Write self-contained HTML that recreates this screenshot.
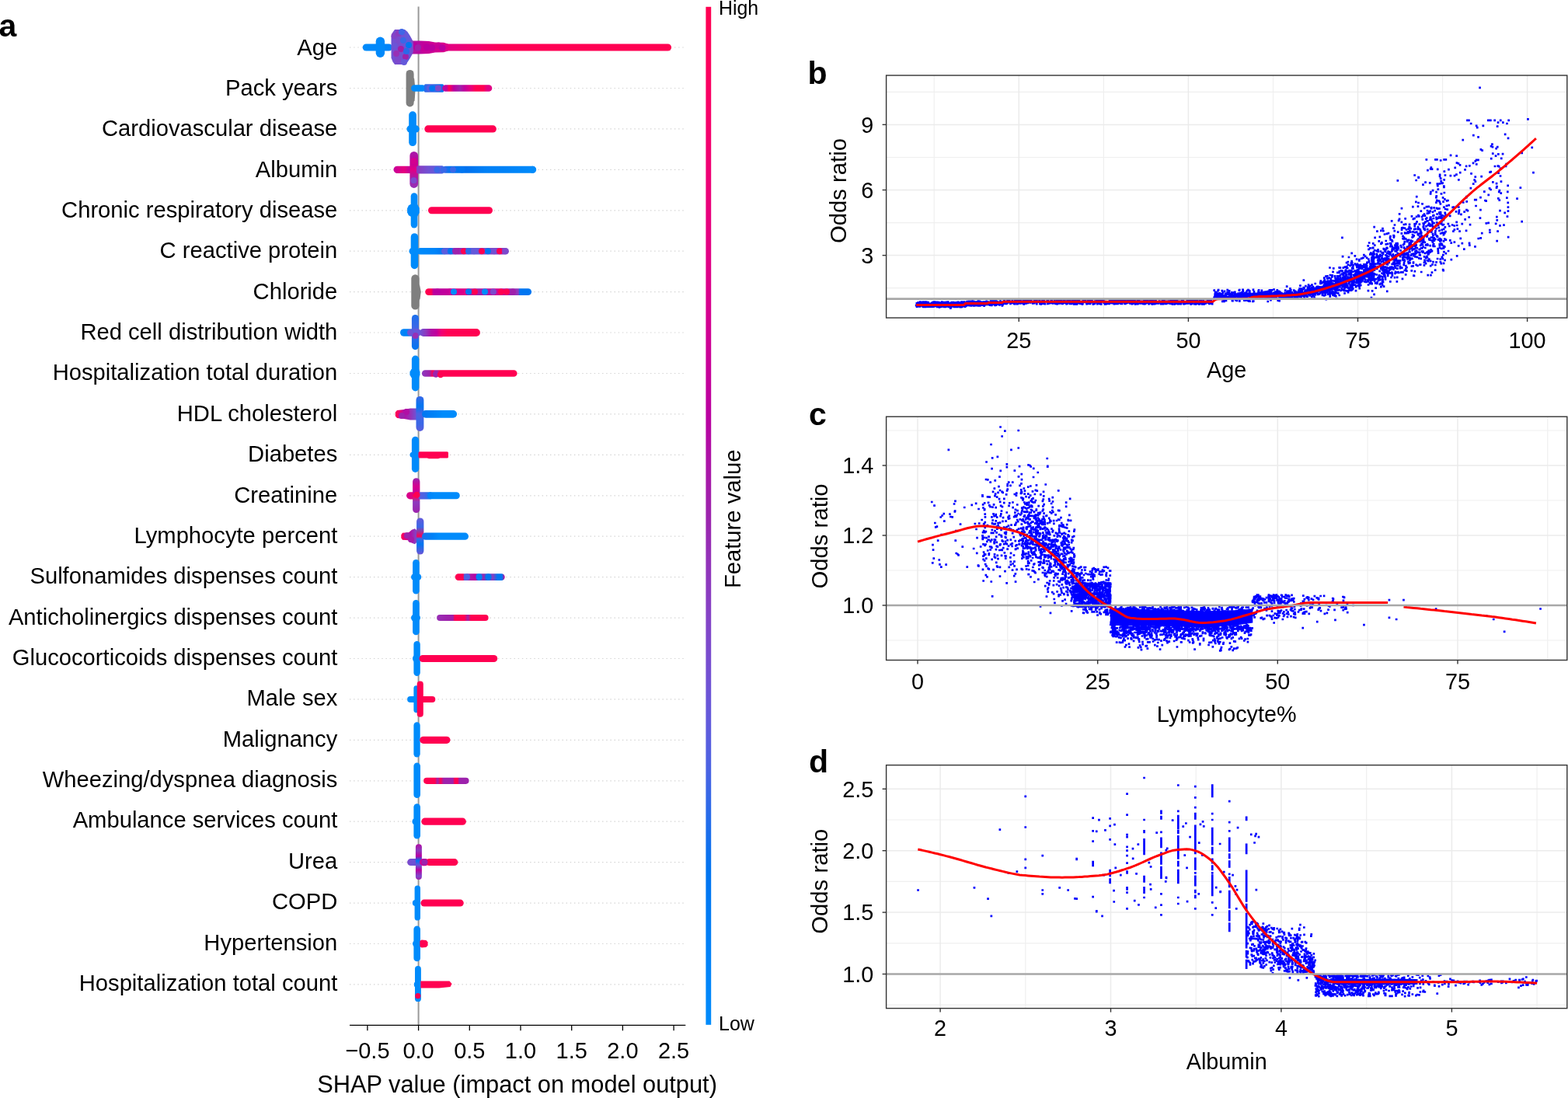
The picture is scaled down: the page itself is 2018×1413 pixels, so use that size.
<!DOCTYPE html>
<html><head><meta charset="utf-8"><title>Figure</title>
<style>html,body{margin:0;padding:0;background:#fff;}body{width:2018px;height:1413px;overflow:hidden;}svg{display:block;}</style>
</head><body>
<svg width="2018" height="1413" viewBox="0 0 2018 1413" font-family="'Liberation Sans', Arial, Helvetica, sans-serif"><defs><linearGradient id="g1" gradientUnits="userSpaceOnUse" x1="466.7" y1="0" x2="505" y2="0"><stop offset="0.0000" stop-color="#008bfb"/><stop offset="1.0000" stop-color="#0082f7"/></linearGradient><linearGradient id="g2" gradientUnits="userSpaceOnUse" x1="520" y1="0" x2="864.1" y2="0"><stop offset="0.0000" stop-color="#9d22ac"/><stop offset="0.0320" stop-color="#b900a0"/><stop offset="0.0727" stop-color="#cd0095"/><stop offset="0.1598" stop-color="#e10084"/><stop offset="0.2616" stop-color="#f30070"/><stop offset="0.3778" stop-color="#ff0055"/><stop offset="0.9997" stop-color="#ff0051"/></linearGradient><linearGradient id="g3" gradientUnits="userSpaceOnUse" x1="529" y1="0" x2="577" y2="0"><stop offset="0.0000" stop-color="#a71aa9"/><stop offset="0.3333" stop-color="#c2009c"/><stop offset="0.7500" stop-color="#d4008f"/><stop offset="1.0000" stop-color="#dd0088"/></linearGradient><linearGradient id="g4" gradientUnits="userSpaceOnUse" x1="503.5" y1="0" x2="532" y2="0"><stop offset="0.0000" stop-color="#6f52d4"/><stop offset="0.2982" stop-color="#7a4bcd"/><stop offset="0.5789" stop-color="#6a55d6"/><stop offset="0.7895" stop-color="#5f5bdc"/><stop offset="1.0000" stop-color="#8244c7"/></linearGradient><linearGradient id="g5" gradientUnits="userSpaceOnUse" x1="529" y1="0" x2="548" y2="0"><stop offset="0.0000" stop-color="#008bfb"/><stop offset="1.0000" stop-color="#0088fa"/></linearGradient><linearGradient id="g6" gradientUnits="userSpaceOnUse" x1="546" y1="0" x2="571" y2="0"><stop offset="0.0000" stop-color="#2a6ae9"/><stop offset="0.4000" stop-color="#4c63e3"/><stop offset="0.6800" stop-color="#1f6deb"/><stop offset="1.0000" stop-color="#0076f1"/></linearGradient><linearGradient id="g7" gradientUnits="userSpaceOnUse" x1="569" y1="0" x2="633.3" y2="0"><stop offset="0.0000" stop-color="#b00fa5"/><stop offset="0.0933" stop-color="#c5009a"/><stop offset="0.1400" stop-color="#ff0051"/><stop offset="0.2333" stop-color="#ba00a0"/><stop offset="0.3577" stop-color="#9d22ac"/><stop offset="0.4510" stop-color="#c2009c"/><stop offset="0.5754" stop-color="#e7007e"/><stop offset="0.6687" stop-color="#ff0051"/><stop offset="0.8243" stop-color="#ff0051"/><stop offset="0.9020" stop-color="#e10084"/><stop offset="0.9953" stop-color="#e10084"/></linearGradient><linearGradient id="g8" gradientUnits="userSpaceOnUse" x1="506.5" y1="0" x2="538" y2="0"><stop offset="0.0000" stop-color="#c5009a"/><stop offset="0.1746" stop-color="#d6008e"/><stop offset="0.4286" stop-color="#e6007f"/><stop offset="0.6825" stop-color="#c2009c"/><stop offset="1.0000" stop-color="#a71aa9"/></linearGradient><linearGradient id="g9" gradientUnits="userSpaceOnUse" x1="0" y1="195" x2="0" y2="241.9"><stop offset="0.0064" stop-color="#a71aa9"/><stop offset="0.2836" stop-color="#c0009c"/><stop offset="0.4968" stop-color="#e10084"/><stop offset="0.7527" stop-color="#a31daa"/><stop offset="0.9872" stop-color="#9830b5"/></linearGradient><linearGradient id="g10" gradientUnits="userSpaceOnUse" x1="536" y1="0" x2="571" y2="0"><stop offset="0.0000" stop-color="#8d39be"/><stop offset="0.4000" stop-color="#7350d2"/><stop offset="0.6857" stop-color="#6459da"/><stop offset="1.0000" stop-color="#4c63e3"/></linearGradient><linearGradient id="g11" gradientUnits="userSpaceOnUse" x1="569" y1="0" x2="689.9" y2="0"><stop offset="0.0000" stop-color="#3968e7"/><stop offset="0.0910" stop-color="#0076f1"/><stop offset="0.2564" stop-color="#0071ee"/><stop offset="0.4632" stop-color="#0080f6"/><stop offset="0.6700" stop-color="#0082f7"/><stop offset="1.0000" stop-color="#008bfb"/></linearGradient><linearGradient id="g12" gradientUnits="userSpaceOnUse" x1="536.7" y1="0" x2="655" y2="0"><stop offset="0.0025" stop-color="#008bfb"/><stop offset="0.1970" stop-color="#0084f9"/><stop offset="0.2730" stop-color="#0078f2"/><stop offset="0.3238" stop-color="#4c63e3"/><stop offset="0.3914" stop-color="#6c54d6"/><stop offset="0.4505" stop-color="#a71aa9"/><stop offset="0.5351" stop-color="#5b5ddd"/><stop offset="0.6619" stop-color="#6459da"/><stop offset="0.7887" stop-color="#7d49cc"/><stop offset="0.9155" stop-color="#8d39be"/><stop offset="1.0000" stop-color="#7d49cc"/></linearGradient><linearGradient id="g13" gradientUnits="userSpaceOnUse" x1="547.2" y1="0" x2="684.1" y2="0"><stop offset="0.0000" stop-color="#ff0051"/><stop offset="0.0570" stop-color="#ff0051"/><stop offset="0.0789" stop-color="#b900a0"/><stop offset="0.2031" stop-color="#c2009c"/><stop offset="0.2761" stop-color="#d1008f"/><stop offset="0.3857" stop-color="#e10084"/><stop offset="0.4587" stop-color="#9d22ac"/><stop offset="0.5683" stop-color="#a71aa9"/><stop offset="0.6779" stop-color="#d6008e"/><stop offset="0.7874" stop-color="#a31daa"/><stop offset="0.8751" stop-color="#8d39be"/><stop offset="0.8897" stop-color="#0076f1"/><stop offset="0.9993" stop-color="#0076f1"/></linearGradient><linearGradient id="g14" gradientUnits="userSpaceOnUse" x1="0" y1="405" x2="0" y2="450.2"><stop offset="0.0000" stop-color="#1a6fed"/><stop offset="0.3319" stop-color="#3968e7"/><stop offset="0.5088" stop-color="#6459da"/><stop offset="0.7301" stop-color="#1f6deb"/><stop offset="0.9956" stop-color="#0076f1"/></linearGradient><linearGradient id="g15" gradientUnits="userSpaceOnUse" x1="515" y1="0" x2="542" y2="0"><stop offset="0.0000" stop-color="#0085f9"/><stop offset="0.3704" stop-color="#0080f6"/><stop offset="0.6667" stop-color="#6459da"/><stop offset="1.0000" stop-color="#6c54d6"/></linearGradient><linearGradient id="g16" gradientUnits="userSpaceOnUse" x1="540" y1="0" x2="617.9" y2="0"><stop offset="0.0000" stop-color="#6c54d6"/><stop offset="0.1027" stop-color="#8d39be"/><stop offset="0.1926" stop-color="#b00fa5"/><stop offset="0.2824" stop-color="#c2009c"/><stop offset="0.3594" stop-color="#f00074"/><stop offset="0.4621" stop-color="#ff0055"/><stop offset="1.0000" stop-color="#ff0051"/></linearGradient><linearGradient id="g17" gradientUnits="userSpaceOnUse" x1="542.9" y1="0" x2="665.6" y2="0"><stop offset="0.0008" stop-color="#8d39be"/><stop offset="0.0823" stop-color="#9d22ac"/><stop offset="0.1149" stop-color="#ff0051"/><stop offset="0.1475" stop-color="#9830b5"/><stop offset="0.1964" stop-color="#ff0051"/><stop offset="0.2372" stop-color="#ff0051"/><stop offset="0.9951" stop-color="#ff0051"/></linearGradient><linearGradient id="g18" gradientUnits="userSpaceOnUse" x1="508.8" y1="0" x2="540" y2="0"><stop offset="0.0000" stop-color="#ff0051"/><stop offset="0.1667" stop-color="#f0006f"/><stop offset="0.3590" stop-color="#b00fa5"/><stop offset="0.6154" stop-color="#9830b5"/><stop offset="0.8718" stop-color="#6c54d6"/></linearGradient><linearGradient id="g19" gradientUnits="userSpaceOnUse" x1="0" y1="509.9" x2="0" y2="554.9"><stop offset="0.0000" stop-color="#3968e7"/><stop offset="0.2889" stop-color="#0076f1"/><stop offset="0.5111" stop-color="#4c63e3"/><stop offset="0.7778" stop-color="#3968e7"/><stop offset="1.0000" stop-color="#5b5ddd"/></linearGradient><linearGradient id="g20" gradientUnits="userSpaceOnUse" x1="543" y1="0" x2="588.1" y2="0"><stop offset="0.0000" stop-color="#0076f1"/><stop offset="0.2882" stop-color="#0080f6"/><stop offset="0.5987" stop-color="#008bfb"/><stop offset="0.9978" stop-color="#008bfb"/></linearGradient><linearGradient id="g21" gradientUnits="userSpaceOnUse" x1="523.1" y1="0" x2="540" y2="0"><stop offset="0.0000" stop-color="#d6008e"/><stop offset="0.4083" stop-color="#e0007f"/><stop offset="1.0000" stop-color="#ff0051"/></linearGradient><linearGradient id="g22" gradientUnits="userSpaceOnUse" x1="0" y1="615.2" x2="0" y2="660.1"><stop offset="0.0134" stop-color="#9d22ac"/><stop offset="0.2361" stop-color="#d6008e"/><stop offset="0.4143" stop-color="#c5009a"/><stop offset="0.5033" stop-color="#ff0051"/><stop offset="0.6815" stop-color="#8d39be"/><stop offset="0.9933" stop-color="#9d22ac"/></linearGradient><linearGradient id="g23" gradientUnits="userSpaceOnUse" x1="538.5" y1="0" x2="556" y2="0"><stop offset="0.0000" stop-color="#5b5ddd"/><stop offset="0.4286" stop-color="#4c63e3"/><stop offset="1.0000" stop-color="#0080f6"/></linearGradient><linearGradient id="g24" gradientUnits="userSpaceOnUse" x1="550" y1="0" x2="591.8" y2="0"><stop offset="0.0000" stop-color="#0084f9"/><stop offset="0.2392" stop-color="#008bfb"/><stop offset="1.0000" stop-color="#008bfb"/></linearGradient><linearGradient id="g25" gradientUnits="userSpaceOnUse" x1="516.3" y1="0" x2="540" y2="0"><stop offset="0.0000" stop-color="#ff0051"/><stop offset="0.2405" stop-color="#e0007f"/><stop offset="0.4937" stop-color="#b00fa5"/><stop offset="0.7468" stop-color="#8d39be"/><stop offset="1.0000" stop-color="#6c54d6"/></linearGradient><linearGradient id="g26" gradientUnits="userSpaceOnUse" x1="0" y1="666.5" x2="0" y2="713.6"><stop offset="0.0000" stop-color="#6459da"/><stop offset="0.2484" stop-color="#3968e7"/><stop offset="0.5032" stop-color="#ff0051"/><stop offset="0.5669" stop-color="#3968e7"/><stop offset="0.7155" stop-color="#0076f1"/><stop offset="1.0000" stop-color="#6c54d6"/></linearGradient><linearGradient id="g27" gradientUnits="userSpaceOnUse" x1="543" y1="0" x2="603" y2="0"><stop offset="0.0000" stop-color="#1a6fed"/><stop offset="0.2167" stop-color="#0080f6"/><stop offset="0.3667" stop-color="#008bfb"/><stop offset="1.0000" stop-color="#008bfb"/></linearGradient><linearGradient id="g28" gradientUnits="userSpaceOnUse" x1="585.7" y1="0" x2="649.7" y2="0"><stop offset="0.0000" stop-color="#ff0051"/><stop offset="0.1609" stop-color="#ff0051"/><stop offset="0.1922" stop-color="#4c63e3"/><stop offset="0.3016" stop-color="#a71aa9"/><stop offset="0.4109" stop-color="#b900a0"/><stop offset="0.4734" stop-color="#0080f6"/><stop offset="0.5672" stop-color="#9d22ac"/><stop offset="0.6609" stop-color="#0076f1"/><stop offset="0.7547" stop-color="#8d39be"/><stop offset="0.8484" stop-color="#0076f1"/><stop offset="0.9422" stop-color="#0076f1"/><stop offset="1.0000" stop-color="#d6008e"/></linearGradient><linearGradient id="g29" gradientUnits="userSpaceOnUse" x1="562.1" y1="0" x2="628.6" y2="0"><stop offset="0.0000" stop-color="#9830b5"/><stop offset="0.1940" stop-color="#9d22ac"/><stop offset="0.3143" stop-color="#a01fab"/><stop offset="0.3444" stop-color="#ff0051"/><stop offset="0.5398" stop-color="#ff0051"/><stop offset="0.6000" stop-color="#9d22ac"/><stop offset="0.6602" stop-color="#ff0051"/><stop offset="1.0000" stop-color="#ff0051"/></linearGradient><linearGradient id="g30" gradientUnits="userSpaceOnUse" x1="545.1" y1="0" x2="603.6" y2="0"><stop offset="0.0000" stop-color="#ff0051"/><stop offset="0.2547" stop-color="#ff0051"/><stop offset="0.3060" stop-color="#9d22ac"/><stop offset="0.3744" stop-color="#ff0051"/><stop offset="0.4427" stop-color="#9d22ac"/><stop offset="0.6479" stop-color="#9d22ac"/><stop offset="0.6821" stop-color="#ff0051"/><stop offset="0.7504" stop-color="#ff0051"/><stop offset="0.7846" stop-color="#9d22ac"/><stop offset="1.0000" stop-color="#9d22ac"/></linearGradient><linearGradient id="g31" gradientUnits="userSpaceOnUse" x1="524.1" y1="0" x2="541" y2="0"><stop offset="0.0000" stop-color="#7d49cc"/><stop offset="0.4675" stop-color="#6c54d6"/><stop offset="1.0000" stop-color="#8d39be"/></linearGradient><linearGradient id="g32" gradientUnits="userSpaceOnUse" x1="0" y1="1086.3" x2="0" y2="1132.1"><stop offset="0.0066" stop-color="#b00fa5"/><stop offset="0.1812" stop-color="#8d39be"/><stop offset="0.3341" stop-color="#b900a0"/><stop offset="0.4651" stop-color="#0076f1"/><stop offset="0.5961" stop-color="#6c54d6"/><stop offset="0.7271" stop-color="#b900a0"/><stop offset="0.9017" stop-color="#7d49cc"/><stop offset="0.9891" stop-color="#9d22ac"/></linearGradient><linearGradient id="g33" gradientUnits="userSpaceOnUse" x1="540" y1="0" x2="552" y2="0"><stop offset="0.0000" stop-color="#d6008e"/><stop offset="0.5000" stop-color="#c5009a"/><stop offset="1.0000" stop-color="#ff0051"/></linearGradient><linearGradient id="g34" gradientUnits="userSpaceOnUse" x1="0" y1="8.8" x2="0" y2="1318.8"><stop offset="0.0000" stop-color="#ff0051"/><stop offset="0.0500" stop-color="#fe005c"/><stop offset="0.1000" stop-color="#f80067"/><stop offset="0.1500" stop-color="#f10072"/><stop offset="0.2000" stop-color="#e9007c"/><stop offset="0.2500" stop-color="#e00086"/><stop offset="0.3000" stop-color="#d5008f"/><stop offset="0.3500" stop-color="#c80098"/><stop offset="0.4000" stop-color="#ba00a0"/><stop offset="0.4500" stop-color="#ab15a7"/><stop offset="0.5000" stop-color="#9c24ad"/><stop offset="0.5500" stop-color="#9134ba"/><stop offset="0.6000" stop-color="#8443c6"/><stop offset="0.6500" stop-color="#754fd1"/><stop offset="0.7000" stop-color="#635adb"/><stop offset="0.7500" stop-color="#4a63e3"/><stop offset="0.8000" stop-color="#236cea"/><stop offset="0.8500" stop-color="#0074f0"/><stop offset="0.9000" stop-color="#007cf5"/><stop offset="0.9500" stop-color="#0084f9"/><stop offset="1.0000" stop-color="#008bfb"/></linearGradient></defs><rect width="100%" height="100%" fill="#fff"/><line x1="450.0" y1="61.0" x2="882.3" y2="61.0" stroke="#d2d2d2" stroke-width="1.2" stroke-dasharray="1.4 3.76"/>
<line x1="450.0" y1="113.5" x2="882.3" y2="113.5" stroke="#d2d2d2" stroke-width="1.2" stroke-dasharray="1.4 3.76"/>
<line x1="450.0" y1="165.9" x2="882.3" y2="165.9" stroke="#d2d2d2" stroke-width="1.2" stroke-dasharray="1.4 3.76"/>
<line x1="450.0" y1="218.3" x2="882.3" y2="218.3" stroke="#d2d2d2" stroke-width="1.2" stroke-dasharray="1.4 3.76"/>
<line x1="450.0" y1="270.8" x2="882.3" y2="270.8" stroke="#d2d2d2" stroke-width="1.2" stroke-dasharray="1.4 3.76"/>
<line x1="450.0" y1="323.2" x2="882.3" y2="323.2" stroke="#d2d2d2" stroke-width="1.2" stroke-dasharray="1.4 3.76"/>
<line x1="450.0" y1="375.6" x2="882.3" y2="375.6" stroke="#d2d2d2" stroke-width="1.2" stroke-dasharray="1.4 3.76"/>
<line x1="450.0" y1="428.0" x2="882.3" y2="428.0" stroke="#d2d2d2" stroke-width="1.2" stroke-dasharray="1.4 3.76"/>
<line x1="450.0" y1="480.5" x2="882.3" y2="480.5" stroke="#d2d2d2" stroke-width="1.2" stroke-dasharray="1.4 3.76"/>
<line x1="450.0" y1="532.9" x2="882.3" y2="532.9" stroke="#d2d2d2" stroke-width="1.2" stroke-dasharray="1.4 3.76"/>
<line x1="450.0" y1="585.3" x2="882.3" y2="585.3" stroke="#d2d2d2" stroke-width="1.2" stroke-dasharray="1.4 3.76"/>
<line x1="450.0" y1="637.8" x2="882.3" y2="637.8" stroke="#d2d2d2" stroke-width="1.2" stroke-dasharray="1.4 3.76"/>
<line x1="450.0" y1="690.2" x2="882.3" y2="690.2" stroke="#d2d2d2" stroke-width="1.2" stroke-dasharray="1.4 3.76"/>
<line x1="450.0" y1="742.6" x2="882.3" y2="742.6" stroke="#d2d2d2" stroke-width="1.2" stroke-dasharray="1.4 3.76"/>
<line x1="450.0" y1="795.1" x2="882.3" y2="795.1" stroke="#d2d2d2" stroke-width="1.2" stroke-dasharray="1.4 3.76"/>
<line x1="450.0" y1="847.5" x2="882.3" y2="847.5" stroke="#d2d2d2" stroke-width="1.2" stroke-dasharray="1.4 3.76"/>
<line x1="450.0" y1="899.9" x2="882.3" y2="899.9" stroke="#d2d2d2" stroke-width="1.2" stroke-dasharray="1.4 3.76"/>
<line x1="450.0" y1="952.3" x2="882.3" y2="952.3" stroke="#d2d2d2" stroke-width="1.2" stroke-dasharray="1.4 3.76"/>
<line x1="450.0" y1="1004.8" x2="882.3" y2="1004.8" stroke="#d2d2d2" stroke-width="1.2" stroke-dasharray="1.4 3.76"/>
<line x1="450.0" y1="1057.2" x2="882.3" y2="1057.2" stroke="#d2d2d2" stroke-width="1.2" stroke-dasharray="1.4 3.76"/>
<line x1="450.0" y1="1109.6" x2="882.3" y2="1109.6" stroke="#d2d2d2" stroke-width="1.2" stroke-dasharray="1.4 3.76"/>
<line x1="450.0" y1="1162.1" x2="882.3" y2="1162.1" stroke="#d2d2d2" stroke-width="1.2" stroke-dasharray="1.4 3.76"/>
<line x1="450.0" y1="1214.5" x2="882.3" y2="1214.5" stroke="#d2d2d2" stroke-width="1.2" stroke-dasharray="1.4 3.76"/>
<line x1="450.0" y1="1266.9" x2="882.3" y2="1266.9" stroke="#d2d2d2" stroke-width="1.2" stroke-dasharray="1.4 3.76"/>
<line x1="538.6" y1="8.6" x2="538.6" y2="1319.3" stroke="#999999" stroke-width="2"/>
<text x="434.3" y="70.6" font-size="29.2" text-anchor="end" transform="translate(0 -2.12) scale(1 1.030)" fill="#000">Age</text>
<text x="434.3" y="123.0" font-size="29.2" text-anchor="end" transform="translate(0 -3.69) scale(1 1.030)" fill="#000">Pack years</text>
<text x="434.3" y="175.3" font-size="29.2" text-anchor="end" transform="translate(0 -5.26) scale(1 1.030)" fill="#000">Cardiovascular disease</text>
<text x="434.3" y="227.7" font-size="29.2" text-anchor="end" transform="translate(0 -6.83) scale(1 1.030)" fill="#000">Albumin</text>
<text x="434.3" y="280.1" font-size="29.2" text-anchor="end" transform="translate(0 -8.40) scale(1 1.030)" fill="#000">Chronic respiratory disease</text>
<text x="434.3" y="332.4" font-size="29.2" text-anchor="end" transform="translate(0 -9.97) scale(1 1.030)" fill="#000">C reactive protein</text>
<text x="434.3" y="384.8" font-size="29.2" text-anchor="end" transform="translate(0 -11.54) scale(1 1.030)" fill="#000">Chloride</text>
<text x="434.3" y="437.2" font-size="29.2" text-anchor="end" transform="translate(0 -13.11) scale(1 1.030)" fill="#000">Red cell distribution width</text>
<text x="434.3" y="489.5" font-size="29.2" text-anchor="end" transform="translate(0 -14.69) scale(1 1.030)" fill="#000">Hospitalization total duration</text>
<text x="434.3" y="541.9" font-size="29.2" text-anchor="end" transform="translate(0 -16.26) scale(1 1.030)" fill="#000">HDL cholesterol</text>
<text x="434.3" y="594.2" font-size="29.2" text-anchor="end" transform="translate(0 -17.83) scale(1 1.030)" fill="#000">Diabetes</text>
<text x="434.3" y="646.6" font-size="29.2" text-anchor="end" transform="translate(0 -19.40) scale(1 1.030)" fill="#000">Creatinine</text>
<text x="434.3" y="699.0" font-size="29.2" text-anchor="end" transform="translate(0 -20.97) scale(1 1.030)" fill="#000">Lymphocyte percent</text>
<text x="434.3" y="751.3" font-size="29.2" text-anchor="end" transform="translate(0 -22.54) scale(1 1.030)" fill="#000">Sulfonamides dispenses count</text>
<text x="434.3" y="803.7" font-size="29.2" text-anchor="end" transform="translate(0 -24.11) scale(1 1.030)" fill="#000">Anticholinergics dispenses count</text>
<text x="434.3" y="856.1" font-size="29.2" text-anchor="end" transform="translate(0 -25.68) scale(1 1.030)" fill="#000">Glucocorticoids dispenses count</text>
<text x="434.3" y="908.4" font-size="29.2" text-anchor="end" transform="translate(0 -27.25) scale(1 1.030)" fill="#000">Male sex</text>
<text x="434.3" y="960.8" font-size="29.2" text-anchor="end" transform="translate(0 -28.82) scale(1 1.030)" fill="#000">Malignancy</text>
<text x="434.3" y="1013.2" font-size="29.2" text-anchor="end" transform="translate(0 -30.40) scale(1 1.030)" fill="#000">Wheezing/dyspnea diagnosis</text>
<text x="434.3" y="1065.5" font-size="29.2" text-anchor="end" transform="translate(0 -31.97) scale(1 1.030)" fill="#000">Ambulance services count</text>
<text x="434.3" y="1117.9" font-size="29.2" text-anchor="end" transform="translate(0 -33.54) scale(1 1.030)" fill="#000">Urea</text>
<text x="434.3" y="1170.3" font-size="29.2" text-anchor="end" transform="translate(0 -35.11) scale(1 1.030)" fill="#000">COPD</text>
<text x="434.3" y="1222.6" font-size="29.2" text-anchor="end" transform="translate(0 -36.68) scale(1 1.030)" fill="#000">Hypertension</text>
<text x="434.3" y="1275.0" font-size="29.2" text-anchor="end" transform="translate(0 -38.25) scale(1 1.030)" fill="#000">Hospitalization total count</text>
<rect x="466.7" y="56.5" width="38.3" height="9.0" rx="4.5" fill="url(#g1)"/>
<rect x="483.7" y="47.5" width="11.4" height="26.5" rx="5.7" fill="#0089fa"/>
<rect x="520.0" y="56.4" width="344.1" height="9.2" rx="4.6" fill="url(#g2)"/>
<path d="M529.0 52.5 L540.0 52.4 L552.0 53.0 L560.0 54.4 L571.0 54.8 L576.5 56.4 L576.5 65.6 L571.0 67.2 L560.0 67.6 L552.0 69.0 L540.0 69.6 L529.0 69.5Z" fill="url(#g3)"/>
<circle cx="533.5" cy="58.9" r="4.3" fill="#b900a0"/>
<circle cx="538.0" cy="61.2" r="4.3" fill="#9d22ac"/>
<circle cx="546.1" cy="63.5" r="4.3" fill="#c70098"/>
<circle cx="549.3" cy="60.6" r="4.3" fill="#b900a0"/>
<circle cx="556.0" cy="61.3" r="4.3" fill="#b900a0"/>
<circle cx="564.4" cy="58.8" r="4.3" fill="#c70098"/>
<circle cx="569.2" cy="61.5" r="4.3" fill="#b900a0"/>
<path d="M503.5 46.5 L505.5 41.5 L508.0 38.0 L521.0 38.0 L524.5 41.0 L528.0 46.5 L531.0 52.0 L532.0 55.5 L532.0 65.5 L531.0 69.0 L528.0 74.5 L524.5 80.0 L521.0 83.0 L508.0 83.0 L505.5 79.5 L503.5 74.5Z" fill="url(#g4)"/>
<circle cx="507.5" cy="46.0" r="4.0" fill="#8244c7"/>
<circle cx="513.0" cy="43.0" r="4.0" fill="#8c3cbe"/>
<circle cx="510.0" cy="69.0" r="4.0" fill="#9830b5"/>
<circle cx="516.0" cy="63.0" r="4.0" fill="#a21fa9"/>
<circle cx="519.0" cy="52.0" r="4.0" fill="#3968e7"/>
<circle cx="522.0" cy="73.0" r="4.0" fill="#9d22ac"/>
<circle cx="526.0" cy="58.0" r="4.0" fill="#0076f1"/>
<circle cx="512.0" cy="77.0" r="4.0" fill="#7d49cc"/>
<circle cx="517.0" cy="41.0" r="4.0" fill="#3f66e6"/>
<circle cx="523.0" cy="66.0" r="4.0" fill="#2a6ae9"/>
<circle cx="508.0" cy="59.0" r="4.0" fill="#6c54d6"/>
<circle cx="520.0" cy="80.0" r="4.0" fill="#6459da"/>
<rect x="522.6" y="89.9" width="10.0" height="47.6" rx="5.0" fill="#7f7f7f"/>
<path d="M530.0 97.5 L533.2 101.5 L534.6 115.5 L533.6 129.5 L530.0 133.5Z" fill="#7f7f7f"/>
<rect x="529.0" y="109.2" width="19.0" height="8.6" rx="4.3" fill="url(#g5)"/>
<rect x="546.0" y="108.2" width="25.0" height="10.6" rx="1.5" fill="url(#g6)"/>
<rect x="569.0" y="109.2" width="64.3" height="8.6" rx="4.3" fill="url(#g7)"/>
<circle cx="552.8" cy="113.4" r="4.0" fill="#5b5ddd"/>
<circle cx="556.2" cy="113.8" r="4.0" fill="#0076f1"/>
<circle cx="564.0" cy="113.5" r="4.0" fill="#7d49cc"/>
<rect x="526.2" y="143.3" width="9.7" height="44.8" rx="4.8" fill="#008bfb"/>
<rect x="523.4" y="161.3" width="16.4" height="9.2" rx="4.6" fill="#008bfb"/>
<rect x="546.3" y="161.3" width="92.6" height="9.2" rx="4.6" fill="#ff0051"/>
<rect x="506.5" y="213.7" width="31.5" height="9.2" rx="4.6" fill="url(#g8)"/>
<rect x="527.4" y="195.0" width="10.7" height="46.9" rx="5.4" fill="url(#g9)"/>
<circle cx="532.5" cy="207.3" r="4.0" fill="#d3008f"/>
<circle cx="532.5" cy="232.3" r="4.0" fill="#7d49cc"/>
<rect x="536.0" y="213.2" width="35.0" height="10.2" rx="2.0" fill="url(#g10)"/>
<rect x="569.0" y="213.8" width="120.9" height="9.0" rx="4.5" fill="url(#g11)"/>
<circle cx="562.5" cy="218.5" r="4.0" fill="#3968e7"/>
<circle cx="570.8" cy="218.4" r="4.0" fill="#3968e7"/>
<circle cx="583.0" cy="218.3" r="4.0" fill="#3968e7"/>
<circle cx="594.5" cy="218.4" r="4.0" fill="#0076f1"/>
<circle cx="685.6" cy="218.3" r="4.5" fill="#008bfb"/>
<rect x="528.7" y="248.2" width="8.6" height="45.2" rx="4.3" fill="#008bfb"/>
<path d="M524.1 268.2 L526.0 264.2 L529.0 262.8 L537.0 262.8 L539.8 267.8 L539.8 273.8 L537.0 278.8 L529.0 278.8 L526.0 277.2 L524.1 273.2Z" fill="#008bfb"/>
<rect x="551.0" y="266.2" width="83.0" height="9.0" rx="4.5" fill="#ff0051"/>
<rect x="528.7" y="300.2" width="9.5" height="46.0" rx="4.8" fill="#008bfb"/>
<rect x="526.5" y="318.7" width="13.5" height="9.0" rx="4.5" fill="#008bfb"/>
<rect x="536.7" y="318.9" width="118.3" height="8.6" rx="4.3" fill="url(#g12)"/>
<circle cx="572.0" cy="323.2" r="4.0" fill="#5b5ddd"/>
<circle cx="580.0" cy="323.2" r="4.0" fill="#0076f1"/>
<circle cx="586.0" cy="323.2" r="4.0" fill="#9d22ac"/>
<circle cx="597.0" cy="323.2" r="4.0" fill="#ff0051"/>
<circle cx="603.0" cy="323.2" r="4.0" fill="#2a6ae9"/>
<circle cx="610.0" cy="323.2" r="4.0" fill="#6459da"/>
<circle cx="620.0" cy="323.2" r="4.0" fill="#ff0051"/>
<circle cx="628.0" cy="323.2" r="4.0" fill="#0076f1"/>
<circle cx="636.0" cy="323.2" r="4.0" fill="#7350d2"/>
<circle cx="643.0" cy="323.2" r="4.0" fill="#ff0051"/>
<circle cx="650.0" cy="323.2" r="4.0" fill="#7d49cc"/>
<rect x="529.3" y="353.2" width="10.3" height="45.4" rx="5.2" fill="#7f7f7f"/>
<path d="M537.0 361.6 L540.2 367.6 L541.8 375.6 L540.6 384.6 L537.0 390.6Z" fill="#7f7f7f"/>
<rect x="547.2" y="371.2" width="136.9" height="8.8" rx="4.4" fill="url(#g13)"/>
<circle cx="563.0" cy="375.6" r="4.0" fill="#b900a0"/>
<circle cx="579.0" cy="375.6" r="4.0" fill="#c5009a"/>
<circle cx="584.0" cy="375.6" r="4.0" fill="#008bfb"/>
<circle cx="603.0" cy="375.6" r="4.0" fill="#0076f1"/>
<circle cx="611.0" cy="375.6" r="4.0" fill="#ff0051"/>
<circle cx="624.0" cy="375.6" r="4.0" fill="#008bfb"/>
<circle cx="635.0" cy="375.6" r="4.0" fill="#7d49cc"/>
<circle cx="645.0" cy="375.6" r="4.0" fill="#ff0051"/>
<circle cx="652.0" cy="375.6" r="4.0" fill="#ff0051"/>
<circle cx="660.0" cy="375.6" r="4.0" fill="#a01fab"/>
<rect x="529.9" y="405.0" width="9.1" height="45.2" rx="4.6" fill="url(#g14)"/>
<rect x="515.0" y="423.2" width="27.0" height="9.6" rx="4.8" fill="url(#g15)"/>
<rect x="540.0" y="423.1" width="77.9" height="9.8" rx="4.9" fill="url(#g16)"/>
<circle cx="534.5" cy="432.0" r="4.0" fill="#9830b5"/>
<circle cx="528.0" cy="428.0" r="4.0" fill="#6c54d6"/>
<rect x="529.9" y="457.5" width="9.5" height="46.0" rx="4.8" fill="#008bfb"/>
<path d="M527.5 478.5 L529.5 475.0 L539.0 475.0 L540.5 478.5 L540.5 482.5 L539.0 486.0 L529.5 486.0 L527.5 482.5Z" fill="#008bfb"/>
<rect x="542.9" y="476.2" width="122.7" height="8.6" rx="4.3" fill="url(#g17)"/>
<circle cx="561.0" cy="481.5" r="4.2" fill="#9d22ac"/>
<circle cx="567.0" cy="482.0" r="4.2" fill="#ff0051"/>
<path d="M508.8 530.4 L511.0 527.9 L520.0 526.9 L528.0 525.4 L536.0 525.4 L540.0 527.9 L540.0 537.9 L536.0 540.4 L528.0 540.4 L520.0 538.9 L511.0 537.9 L508.8 535.4Z" fill="url(#g18)"/>
<circle cx="523.0" cy="529.9" r="4.0" fill="#b00fa5"/>
<circle cx="517.0" cy="534.9" r="4.0" fill="#9d22ac"/>
<rect x="535.5" y="509.9" width="9.9" height="45.0" rx="4.9" fill="url(#g19)"/>
<rect x="543.0" y="528.1" width="45.1" height="9.6" rx="4.8" fill="url(#g20)"/>
<rect x="529.9" y="561.8" width="9.3" height="46.1" rx="4.7" fill="#008bfb"/>
<rect x="527.5" y="581.8" width="12.5" height="7.0" rx="3.5" fill="#008bfb"/>
<rect x="538.5" y="581.2" width="38.5" height="8.2" rx="1.5" fill="#ff0051"/>
<rect x="550.0" y="582.0" width="16.0" height="8.2" rx="2.0" fill="#ff0051"/>
<rect x="523.1" y="633.2" width="16.9" height="9.2" rx="4.6" fill="url(#g21)"/>
<rect x="531.1" y="615.2" width="9.3" height="44.9" rx="4.6" fill="url(#g22)"/>
<rect x="538.5" y="633.2" width="17.5" height="9.2" rx="2.0" fill="url(#g23)"/>
<rect x="550.0" y="633.3" width="41.8" height="9.0" rx="4.5" fill="url(#g24)"/>
<circle cx="536.5" cy="636.8" r="4.0" fill="#ff0051"/>
<path d="M516.3 688.2 L518.0 685.7 L526.0 685.2 L530.0 681.7 L534.0 680.2 L538.0 684.2 L538.0 696.2 L534.0 700.2 L530.0 698.7 L526.0 695.2 L518.0 694.7 L516.3 692.2Z" fill="url(#g25)"/>
<circle cx="524.0" cy="689.2" r="4.0" fill="#9d22ac"/>
<circle cx="529.0" cy="694.2" r="4.0" fill="#a71aa9"/>
<rect x="536.1" y="666.5" width="9.3" height="47.1" rx="4.6" fill="url(#g26)"/>
<rect x="543.0" y="685.6" width="60.0" height="9.2" rx="4.6" fill="url(#g27)"/>
<rect x="531.1" y="720.0" width="8.7" height="44.6" rx="4.3" fill="#008bfb"/>
<rect x="529.0" y="738.3" width="13.3" height="8.6" rx="4.3" fill="#008bfb"/>
<rect x="585.7" y="738.3" width="64.0" height="8.6" rx="4.3" fill="url(#g28)"/>
<circle cx="601.0" cy="742.6" r="4.0" fill="#4c63e3"/>
<circle cx="616.5" cy="742.6" r="4.0" fill="#0080f6"/>
<circle cx="628.5" cy="742.6" r="4.0" fill="#0076f1"/>
<rect x="531.1" y="772.1" width="8.7" height="45.2" rx="4.3" fill="#008bfb"/>
<rect x="529.0" y="790.3" width="12.0" height="9.6" rx="4.8" fill="#008bfb"/>
<rect x="562.1" y="791.1" width="66.5" height="8.0" rx="4.0" fill="url(#g29)"/>
<rect x="532.4" y="824.9" width="8.4" height="45.1" rx="4.2" fill="#008bfb"/>
<rect x="531.0" y="842.7" width="9.0" height="9.6" rx="4.8" fill="#008bfb"/>
<rect x="539.5" y="843.0" width="100.7" height="9.0" rx="4.5" fill="#ff0051"/>
<rect x="532.4" y="882.2" width="6.8" height="35.0" rx="3.4" fill="#008bfb"/>
<rect x="524.1" y="895.9" width="15.9" height="8.0" rx="4.0" fill="#008bfb"/>
<rect x="536.7" y="876.4" width="8.1" height="46.3" rx="4.0" fill="#ff0051"/>
<rect x="541.0" y="895.9" width="19.3" height="8.0" rx="4.0" fill="#ff0051"/>
<rect x="532.4" y="929.3" width="8.3" height="45.2" rx="4.2" fill="#008bfb"/>
<rect x="540.2" y="947.7" width="39.3" height="9.2" rx="4.6" fill="#ff0051"/>
<rect x="532.4" y="981.5" width="8.6" height="45.6" rx="4.3" fill="#008bfb"/>
<rect x="545.1" y="1000.7" width="58.5" height="8.2" rx="4.1" fill="url(#g30)"/>
<rect x="532.4" y="1034.2" width="8.6" height="45.3" rx="4.3" fill="#008bfb"/>
<rect x="530.5" y="1053.2" width="9.5" height="8.0" rx="4.0" fill="#008bfb"/>
<rect x="542.3" y="1052.6" width="57.6" height="9.2" rx="4.6" fill="#ff0051"/>
<rect x="524.1" y="1105.1" width="16.9" height="9.0" rx="4.5" fill="url(#g31)"/>
<rect x="534.9" y="1086.3" width="8.0" height="45.8" rx="4.0" fill="url(#g32)"/>
<rect x="540.0" y="1105.0" width="12.0" height="9.2" rx="4.6" fill="url(#g33)"/>
<rect x="548.0" y="1105.1" width="41.4" height="9.0" rx="4.5" fill="#ff0051"/>
<circle cx="546.5" cy="1109.6" r="4.0" fill="#9d22ac"/>
<rect x="533.6" y="1139.5" width="7.4" height="45.1" rx="3.7" fill="#008bfb"/>
<rect x="530.8" y="1158.1" width="9.2" height="8.0" rx="4.0" fill="#008bfb"/>
<rect x="541.4" y="1157.6" width="55.4" height="9.0" rx="4.5" fill="#ff0051"/>
<rect x="532.4" y="1191.5" width="8.6" height="45.8" rx="4.3" fill="#008bfb"/>
<rect x="531.0" y="1210.3" width="9.0" height="8.4" rx="4.2" fill="#008bfb"/>
<path d="M540.4 1211.0 L542.5 1209.5 L548.5 1210.0 L550.6 1212.5 L550.6 1216.5 L548.5 1219.0 L542.5 1219.5 L540.4 1218.0Z" fill="#ff0051"/>
<rect x="534.0" y="1243.1" width="7.9" height="46.0" rx="3.9" fill="#008bfb"/>
<rect x="532.8" y="1262.9" width="7.2" height="8.0" rx="4.0" fill="#008bfb"/>
<path d="M541.4 1262.6 L578.5 1262.6 L581.6 1265.9 L579.5 1270.1 L565.0 1271.4 L541.4 1271.4Z" fill="#ff0051"/>
<circle cx="537.8" cy="1281.7" r="3.6" fill="#ff0051"/>
<line x1="450.0" y1="1319.3" x2="882.3" y2="1319.3" stroke="#000" stroke-width="1.3"/>
<line x1="472.9" y1="1319.3" x2="472.9" y2="1326.3" stroke="#000" stroke-width="1.3"/>
<text x="472.9" y="1362.0" font-size="29.0" text-anchor="middle" transform="translate(0 -20.43) scale(1 1.015)" fill="#000">−0.5</text>
<line x1="538.6" y1="1319.3" x2="538.6" y2="1326.3" stroke="#000" stroke-width="1.3"/>
<text x="538.6" y="1362.0" font-size="29.0" text-anchor="middle" transform="translate(0 -20.43) scale(1 1.015)" fill="#000">0.0</text>
<line x1="604.3" y1="1319.3" x2="604.3" y2="1326.3" stroke="#000" stroke-width="1.3"/>
<text x="604.3" y="1362.0" font-size="29.0" text-anchor="middle" transform="translate(0 -20.43) scale(1 1.015)" fill="#000">0.5</text>
<line x1="670.0" y1="1319.3" x2="670.0" y2="1326.3" stroke="#000" stroke-width="1.3"/>
<text x="670.0" y="1362.0" font-size="29.0" text-anchor="middle" transform="translate(0 -20.43) scale(1 1.015)" fill="#000">1.0</text>
<line x1="735.7" y1="1319.3" x2="735.7" y2="1326.3" stroke="#000" stroke-width="1.3"/>
<text x="735.7" y="1362.0" font-size="29.0" text-anchor="middle" transform="translate(0 -20.43) scale(1 1.015)" fill="#000">1.5</text>
<line x1="801.4" y1="1319.3" x2="801.4" y2="1326.3" stroke="#000" stroke-width="1.3"/>
<text x="801.4" y="1362.0" font-size="29.0" text-anchor="middle" transform="translate(0 -20.43) scale(1 1.015)" fill="#000">2.0</text>
<line x1="867.1" y1="1319.3" x2="867.1" y2="1326.3" stroke="#000" stroke-width="1.3"/>
<text x="867.1" y="1362.0" font-size="29.0" text-anchor="middle" transform="translate(0 -20.43) scale(1 1.015)" fill="#000">2.5</text>
<text x="665.6" y="1406.0" font-size="30.8" text-anchor="middle" fill="#000">SHAP value (impact on model output)</text>
<rect x="908.4" y="8.8" width="6.8" height="1310" fill="url(#g34)"/>
<text x="925.0" y="18.7" font-size="24.9" text-anchor="start" transform="translate(0 -0.37) scale(1 1.020)" fill="#000">High</text>
<text x="925.0" y="1325.7" font-size="25.0" text-anchor="start" transform="translate(0 -26.51) scale(1 1.020)" fill="#000">Low</text>
<text x="953.0" y="667.8" font-size="29.2" text-anchor="middle" transform="rotate(-90 953.0 667.8)" fill="#000">Feature value</text>
<text x="-1.5" y="47.0" font-size="41.0" text-anchor="start" font-weight="bold" fill="#000">a</text>
<line x1="1202.2" y1="97.0" x2="1202.2" y2="409.0" stroke="#efefef" stroke-width="1.2"/>
<line x1="1420.4" y1="97.0" x2="1420.4" y2="409.0" stroke="#efefef" stroke-width="1.2"/>
<line x1="1638.5" y1="97.0" x2="1638.5" y2="409.0" stroke="#efefef" stroke-width="1.2"/>
<line x1="1856.6" y1="97.0" x2="1856.6" y2="409.0" stroke="#efefef" stroke-width="1.2"/>
<line x1="1140.6" y1="370.7" x2="2016.8" y2="370.7" stroke="#efefef" stroke-width="1.2"/>
<line x1="1140.6" y1="286.6" x2="2016.8" y2="286.6" stroke="#efefef" stroke-width="1.2"/>
<line x1="1140.6" y1="202.5" x2="2016.8" y2="202.5" stroke="#efefef" stroke-width="1.2"/>
<line x1="1140.6" y1="118.4" x2="2016.8" y2="118.4" stroke="#efefef" stroke-width="1.2"/>
<line x1="1311.3" y1="97.0" x2="1311.3" y2="409.0" stroke="#ebebeb" stroke-width="1.5"/>
<line x1="1529.4" y1="97.0" x2="1529.4" y2="409.0" stroke="#ebebeb" stroke-width="1.5"/>
<line x1="1747.5" y1="97.0" x2="1747.5" y2="409.0" stroke="#ebebeb" stroke-width="1.5"/>
<line x1="1965.6" y1="97.0" x2="1965.6" y2="409.0" stroke="#ebebeb" stroke-width="1.5"/>
<line x1="1140.6" y1="328.6" x2="2016.8" y2="328.6" stroke="#ebebeb" stroke-width="1.5"/>
<line x1="1140.6" y1="244.5" x2="2016.8" y2="244.5" stroke="#ebebeb" stroke-width="1.5"/>
<line x1="1140.6" y1="160.4" x2="2016.8" y2="160.4" stroke="#ebebeb" stroke-width="1.5"/>
<path d="M1206.8 389.1h2.7M1207.6 391.3h2.7M1189.6 391.0h2.7M1228.6 393.1h2.7M1183.6 392.7h2.7M1240.8 393.0h2.7M1219.7 394.0h2.7M1178.7 394.7h2.7M1190.0 394.8h2.7M1207.5 389.6h2.7M1211.1 391.8h2.7M1220.3 393.2h2.7M1241.8 391.1h2.7M1198.0 393.2h2.7M1182.3 392.5h2.7M1232.1 388.9h2.7M1232.1 393.7h2.7M1236.1 388.7h2.7M1203.3 391.0h2.7M1227.7 394.5h2.7M1199.1 394.7h2.7M1226.4 393.5h2.7M1184.3 389.9h2.7M1189.2 392.2h2.7M1190.0 394.2h2.7M1219.1 392.3h2.7M1191.4 388.8h2.7M1229.3 389.3h2.7M1191.3 389.5h2.7M1218.9 388.7h2.7M1191.5 390.1h2.7M1198.9 394.6h2.7M1183.6 393.5h2.7M1216.3 392.1h2.7M1239.3 391.3h2.7M1233.3 394.0h2.7M1236.0 392.5h2.7M1225.2 391.4h2.7M1190.4 390.8h2.7M1204.8 394.8h2.7M1239.5 390.5h2.7M1194.3 394.1h2.7M1216.0 393.9h2.7M1224.0 393.6h2.7M1213.6 393.5h2.7M1236.6 394.9h2.7M1195.0 394.7h2.7M1189.1 391.4h2.7M1186.2 389.3h2.7M1240.7 390.6h2.7M1215.3 394.8h2.7M1178.9 393.4h2.7M1222.7 390.1h2.7M1208.7 393.0h2.7M1241.9 391.5h2.7M1225.0 392.2h2.7M1225.0 389.9h2.7M1236.5 390.6h2.7M1235.5 395.1h2.7M1233.1 391.0h2.7M1202.3 391.1h2.7M1182.9 388.6h2.7M1234.2 392.5h2.7M1231.5 390.2h2.7M1179.7 391.9h2.7M1192.5 391.8h2.7M1217.2 391.0h2.7M1194.2 393.1h2.7M1221.3 393.9h2.7M1235.9 392.2h2.7M1235.0 390.7h2.7M1190.5 389.8h2.7M1236.4 394.2h2.7M1198.1 391.8h2.7M1231.5 391.0h2.7M1223.4 392.7h2.7M1206.7 393.7h2.7M1204.3 391.9h2.7M1198.0 391.5h2.7M1240.8 394.6h2.7M1179.8 390.0h2.7M1214.4 389.9h2.7M1179.0 392.1h2.7M1193.0 394.7h2.7M1218.1 391.0h2.7M1219.8 390.1h2.7M1190.6 393.9h2.7M1178.5 390.4h2.7M1189.3 392.8h2.7M1222.5 391.1h2.7M1226.3 389.9h2.7M1235.9 389.0h2.7M1224.1 392.1h2.7M1217.9 393.2h2.7M1201.9 389.4h2.7M1228.9 394.9h2.7M1190.9 389.8h2.7M1218.9 393.7h2.7M1240.5 389.9h2.7M1183.1 391.5h2.7M1227.0 394.9h2.7M1229.7 389.9h2.7M1188.9 390.0h2.7M1186.8 391.7h2.7M1222.0 396.6h2.7M1196.4 390.9h2.7M1211.3 392.3h2.7M1213.7 392.6h2.7M1232.0 391.7h2.7M1239.9 391.3h2.7M1190.7 391.8h2.7M1216.6 388.8h2.7M1210.9 389.9h2.7M1213.9 390.6h2.7M1239.1 389.4h2.7M1195.0 394.2h2.7M1205.6 391.0h2.7M1198.1 391.1h2.7M1237.1 390.0h2.7M1221.8 392.8h2.7M1217.5 390.3h2.7M1185.7 393.4h2.7M1201.9 391.6h2.7M1188.0 391.0h2.7M1218.7 389.6h2.7M1217.0 393.6h2.7M1192.7 389.8h2.7M1235.7 393.0h2.7M1237.0 388.6h2.7M1234.7 393.5h2.7M1224.4 394.4h2.7M1231.1 389.9h2.7M1185.9 390.6h2.7M1178.9 390.6h2.7M1236.2 391.0h2.7M1226.4 390.6h2.7M1189.9 394.4h2.7M1180.2 391.7h2.7M1214.2 393.9h2.7M1190.9 391.2h2.7M1241.3 392.0h2.7M1238.8 390.1h2.7M1198.7 391.7h2.7M1205.4 395.0h2.7M1222.7 392.2h2.7M1189.4 390.3h2.7M1203.8 394.0h2.7M1210.6 389.3h2.7M1210.1 392.1h2.7M1236.2 390.0h2.7M1230.0 389.3h2.7M1234.2 390.1h2.7M1226.8 390.4h2.7M1182.3 392.0h2.7M1178.5 390.9h2.7M1217.8 389.0h2.7M1220.5 390.8h2.7M1214.3 392.5h2.7M1241.9 390.5h2.7M1226.6 393.7h2.7M1194.2 394.7h2.7M1193.9 394.4h2.7M1239.8 388.6h2.7M1218.7 393.1h2.7M1182.7 390.1h2.7M1180.7 391.5h2.7M1188.6 391.1h2.7M1181.5 390.9h2.7M1204.8 391.2h2.7M1201.2 390.8h2.7M1196.8 393.5h2.7M1180.5 390.2h2.7M1202.8 392.5h2.7M1241.2 393.1h2.7M1182.5 394.3h2.7M1240.2 391.7h2.7M1237.9 392.0h2.7M1240.5 391.7h2.7M1216.5 391.0h2.7M1207.0 394.7h2.7M1211.6 392.2h2.7M1220.6 393.4h2.7M1215.1 390.0h2.7M1211.8 389.9h2.7M1193.1 389.3h2.7M1228.1 392.7h2.7M1195.2 391.4h2.7M1215.7 390.2h2.7M1190.0 388.7h2.7M1236.5 393.3h2.7M1180.3 393.3h2.7M1205.0 394.4h2.7M1212.5 394.5h2.7M1221.1 391.0h2.7M1201.7 393.7h2.7M1199.8 389.6h2.7M1217.8 393.7h2.7M1205.0 389.8h2.7M1201.4 388.7h2.7M1198.6 390.2h2.7M1236.8 392.7h2.7M1184.0 391.9h2.7M1214.0 390.6h2.7M1196.9 394.6h2.7M1191.5 394.5h2.7M1197.3 390.6h2.7M1195.9 392.7h2.7M1223.3 389.1h2.7M1238.1 392.2h2.7M1205.9 393.0h2.7M1203.4 391.1h2.7M1235.2 392.7h2.7M1201.2 392.5h2.7M1202.6 391.4h2.7M1228.9 389.6h2.7M1213.9 390.1h2.7M1234.3 394.9h2.7M1210.8 391.4h2.7M1239.7 389.9h2.7M1181.9 390.0h2.7M1183.2 390.3h2.7M1235.4 391.0h2.7M1187.0 390.9h2.7M1193.5 390.1h2.7M1199.4 393.4h2.7M1212.2 390.5h2.7M1236.5 389.7h2.7M1220.5 394.3h2.7M1229.5 389.3h2.7M1218.8 390.5h2.7M1229.2 392.3h2.7M1187.2 388.7h2.7M1205.0 388.8h2.7M1181.6 394.3h2.7M1219.3 393.9h2.7M1181.8 391.3h2.7M1236.1 394.3h2.7M1189.6 393.5h2.7M1223.8 393.6h2.7M1189.6 393.9h2.7M1226.4 391.5h2.7M1230.2 393.4h2.7M1234.7 395.2h2.7M1199.7 388.9h2.7M1208.7 394.7h2.7M1238.5 394.1h2.7M1210.9 388.7h2.7M1219.9 395.0h2.7M1208.1 389.9h2.7M1223.5 394.0h2.7M1187.8 393.4h2.7M1233.5 390.9h2.7M1187.4 395.0h2.7M1230.5 391.2h2.7M1230.5 393.3h2.7M1223.7 391.9h2.7M1207.8 395.4h2.7M1197.2 392.4h2.7M1191.1 391.7h2.7M1187.9 394.2h2.7M1197.7 394.6h2.7M1200.8 394.4h2.7M1203.1 388.8h2.7M1231.0 395.0h2.7M1202.0 393.5h2.7M1214.0 395.0h2.7M1241.4 393.7h2.7M1217.3 392.6h2.7M1212.4 392.9h2.7M1202.9 393.4h2.7M1190.6 392.9h2.7M1238.4 390.4h2.7M1199.0 391.7h2.7M1183.8 390.5h2.7M1189.3 389.6h2.7M1215.8 393.6h2.7M1187.9 392.4h2.7M1182.4 392.0h2.7M1205.2 390.9h2.7M1227.0 393.7h2.7M1204.2 392.5h2.7M1222.7 391.5h2.7M1228.4 391.1h2.7M1179.0 392.8h2.7M1219.5 392.6h2.7M1217.0 390.1h2.7M1209.9 390.4h2.7M1241.1 390.4h2.7M1231.4 388.9h2.7M1218.0 394.5h2.7M1193.5 390.5h2.7M1198.9 393.7h2.7M1185.7 391.1h2.7M1186.5 394.6h2.7M1213.7 389.2h2.7M1216.4 389.7h2.7M1231.1 391.5h2.7M1182.7 393.9h2.7M1220.0 390.7h2.7M1225.1 391.2h2.7M1229.3 393.8h2.7M1207.8 392.6h2.7M1214.3 391.7h2.7M1194.7 392.9h2.7M1218.9 390.7h2.7M1187.1 394.1h2.7M1204.2 390.6h2.7M1226.4 391.9h2.7M1241.6 393.6h2.7M1232.6 392.2h2.7M1214.1 394.5h2.7M1198.3 390.4h2.7M1226.0 391.2h2.7M1210.0 394.7h2.7M1222.3 393.5h2.7M1197.4 393.5h2.7M1182.2 390.1h2.7M1233.3 389.8h2.7M1192.0 391.4h2.7M1235.7 389.9h2.7M1185.7 388.9h2.7M1177.8 393.1h2.7M1198.6 389.3h2.7M1230.1 392.7h2.7M1235.4 391.8h2.7M1237.7 393.0h2.7M1208.1 393.1h2.7M1236.9 391.4h2.7M1200.5 393.9h2.7M1234.2 389.5h2.7M1234.2 394.4h2.7M1224.3 389.2h2.7M1233.5 394.2h2.7M1222.4 393.2h2.7M1192.1 390.5h2.7M1190.4 393.5h2.7M1220.4 392.6h2.7M1215.6 393.1h2.7M1237.2 393.3h2.7M1218.8 388.7h2.7M1206.0 391.6h2.7M1180.7 393.2h2.7M1193.9 391.3h2.7M1226.2 393.2h2.7M1212.9 389.3h2.7M1225.9 389.1h2.7M1209.8 391.5h2.7M1219.1 390.8h2.7M1228.0 391.8h2.7M1188.4 393.5h2.7M1206.0 390.0h2.7M1228.5 391.9h2.7M1192.0 391.8h2.7M1180.0 390.4h2.7M1214.5 391.8h2.7M1189.3 394.9h2.7M1209.6 392.2h2.7M1194.6 394.6h2.7M1236.0 391.5h2.7M1228.5 394.1h2.7M1197.7 393.0h2.7M1188.8 394.0h2.7M1222.1 392.4h2.7M1204.1 393.6h2.7M1240.0 391.9h2.7M1226.6 393.1h2.7M1187.1 390.2h2.7M1180.3 389.3h2.7M1186.9 393.1h2.7M1192.5 391.5h2.7M1193.3 389.0h2.7M1201.1 388.7h2.7M1219.4 392.8h2.7M1222.3 395.5h2.7M1200.1 391.5h2.7M1207.8 392.2h2.7M1241.5 389.5h2.7M1250.2 391.3h2.7M1243.7 389.4h2.7M1257.9 391.9h2.7M1241.1 392.5h2.7M1253.0 391.2h2.7M1285.3 389.2h2.7M1253.3 391.4h2.7M1247.7 387.9h2.7M1257.7 388.9h2.7M1275.5 388.0h2.7M1241.2 391.7h2.7M1258.9 393.1h2.7M1283.3 391.6h2.7M1277.8 390.4h2.7M1242.8 391.2h2.7M1251.8 393.4h2.7M1247.5 390.0h2.7M1260.9 390.3h2.7M1246.8 389.3h2.7M1252.9 389.2h2.7M1272.7 392.7h2.7M1250.2 391.9h2.7M1275.0 391.1h2.7M1259.0 388.3h2.7M1251.2 391.8h2.7M1257.0 392.3h2.7M1242.1 393.5h2.7M1271.0 390.1h2.7M1279.7 387.6h2.7M1254.7 389.5h2.7M1285.1 392.3h2.7M1273.8 389.5h2.7M1286.8 388.3h2.7M1251.6 389.7h2.7M1244.5 391.0h2.7M1259.3 393.3h2.7M1258.9 391.6h2.7M1264.4 391.9h2.7M1247.9 391.2h2.7M1263.4 392.6h2.7M1272.7 392.2h2.7M1244.7 391.5h2.7M1260.8 392.7h2.7M1268.6 389.3h2.7M1267.2 389.3h2.7M1241.3 391.2h2.7M1258.0 393.3h2.7M1259.9 393.3h2.7M1264.4 390.0h2.7M1263.1 391.6h2.7M1252.5 393.5h2.7M1257.1 388.1h2.7M1267.8 392.0h2.7M1263.1 389.8h2.7M1286.8 391.4h2.7M1268.3 387.8h2.7M1277.8 389.8h2.7M1270.5 391.1h2.7M1260.5 391.9h2.7M1280.7 388.2h2.7M1258.8 388.0h2.7M1242.0 392.8h2.7M1264.9 391.7h2.7M1257.8 387.6h2.7M1247.5 392.5h2.7M1251.3 389.4h2.7M1266.7 391.2h2.7M1251.9 390.6h2.7M1271.9 390.3h2.7M1270.7 390.2h2.7M1280.8 387.7h2.7M1256.5 391.5h2.7M1283.5 391.7h2.7M1275.1 389.4h2.7M1273.7 387.7h2.7M1280.4 392.7h2.7M1270.5 390.6h2.7M1267.7 391.4h2.7M1254.1 389.0h2.7M1266.2 392.2h2.7M1252.3 391.6h2.7M1248.8 390.5h2.7M1246.3 393.2h2.7M1243.5 393.0h2.7M1274.6 392.9h2.7M1262.2 388.9h2.7M1263.6 392.6h2.7M1282.5 388.3h2.7M1242.8 392.1h2.7M1264.9 388.7h2.7M1259.3 389.2h2.7M1256.1 391.6h2.7M1277.3 388.4h2.7M1280.6 390.1h2.7M1260.7 389.3h2.7M1270.6 388.5h2.7M1279.3 392.9h2.7M1258.6 389.5h2.7M1251.4 392.5h2.7M1286.1 387.7h2.7M1259.5 387.9h2.7M1288.5 393.3h2.7M1275.0 392.9h2.7M1242.2 391.9h2.7M1275.9 387.5h2.7M1246.0 391.6h2.7M1263.8 391.3h2.7M1255.3 388.7h2.7M1281.1 391.9h2.7M1259.3 389.8h2.7M1277.5 387.6h2.7M1259.2 389.4h2.7M1266.8 388.7h2.7M1247.3 392.6h2.7M1245.4 387.9h2.7M1252.4 390.6h2.7M1241.1 390.1h2.7M1247.2 389.8h2.7M1253.5 392.2h2.7M1243.3 388.1h2.7M1255.3 393.2h2.7M1249.1 390.7h2.7M1288.9 392.4h2.7M1282.5 390.7h2.7M1260.4 388.7h2.7M1259.5 393.3h2.7M1270.6 391.9h2.7M1286.0 388.3h2.7M1288.7 390.9h2.7M1280.9 389.2h2.7M1248.7 393.5h2.7M1248.4 392.9h2.7M1243.8 391.4h2.7M1277.0 391.7h2.7M1265.3 393.6h2.7M1250.4 387.7h2.7M1279.7 388.8h2.7M1276.1 391.2h2.7M1279.4 388.5h2.7M1259.8 389.3h2.7M1252.4 388.0h2.7M1251.3 391.2h2.7M1258.2 389.6h2.7M1279.8 391.4h2.7M1461.6 389.6h2.7M1364.5 386.7h2.7M1376.0 390.9h2.7M1379.6 387.6h2.7M1346.2 387.5h2.7M1436.7 387.9h2.7M1337.0 390.8h2.7M1327.7 389.6h2.7M1405.5 391.3h2.7M1424.9 389.3h2.7M1376.0 388.6h2.7M1546.6 390.3h2.7M1527.1 389.7h2.7M1493.0 390.8h2.7M1556.1 389.2h2.7M1549.4 390.3h2.7M1399.4 387.7h2.7M1337.1 390.0h2.7M1472.2 386.5h2.7M1376.2 390.4h2.7M1385.6 386.3h2.7M1329.1 388.1h2.7M1391.3 388.1h2.7M1346.4 388.2h2.7M1529.1 387.0h2.7M1459.0 388.8h2.7M1442.6 390.8h2.7M1515.5 387.8h2.7M1411.6 387.9h2.7M1402.4 389.4h2.7M1351.2 388.3h2.7M1443.9 388.7h2.7M1297.7 388.1h2.7M1409.9 388.3h2.7M1449.8 386.6h2.7M1330.1 389.0h2.7M1557.5 387.6h2.7M1373.7 387.6h2.7M1556.6 389.3h2.7M1523.6 390.7h2.7M1556.8 388.9h2.7M1352.3 387.0h2.7M1464.6 386.5h2.7M1513.3 387.3h2.7M1427.4 386.2h2.7M1306.5 386.9h2.7M1481.5 390.1h2.7M1507.3 389.0h2.7M1434.1 386.9h2.7M1342.0 389.9h2.7M1463.1 391.0h2.7M1439.1 387.3h2.7M1421.7 390.1h2.7M1505.4 387.0h2.7M1497.5 388.5h2.7M1534.0 387.3h2.7M1330.1 389.5h2.7M1316.1 391.2h2.7M1382.5 386.9h2.7M1514.5 390.8h2.7M1338.2 389.4h2.7M1518.7 388.2h2.7M1532.9 391.0h2.7M1556.2 390.3h2.7M1459.2 386.9h2.7M1485.8 390.4h2.7M1469.8 389.2h2.7M1293.2 389.6h2.7M1374.3 388.1h2.7M1364.3 388.3h2.7M1476.9 390.5h2.7M1323.6 387.8h2.7M1415.2 390.7h2.7M1320.4 386.5h2.7M1454.0 389.5h2.7M1342.1 386.2h2.7M1476.1 387.6h2.7M1386.5 389.8h2.7M1399.4 390.6h2.7M1459.7 389.2h2.7M1510.8 389.3h2.7M1412.5 388.8h2.7M1543.7 389.6h2.7M1479.3 390.2h2.7M1445.7 389.9h2.7M1525.0 389.9h2.7M1520.1 387.9h2.7M1412.0 386.6h2.7M1393.8 387.5h2.7M1451.6 389.1h2.7M1306.4 389.2h2.7M1365.1 389.1h2.7M1547.2 389.9h2.7M1476.9 387.9h2.7M1355.2 389.3h2.7M1324.8 386.8h2.7M1357.1 389.2h2.7M1381.4 387.1h2.7M1519.0 388.3h2.7M1436.7 390.9h2.7M1531.5 390.9h2.7M1387.3 389.5h2.7M1484.6 387.9h2.7M1382.0 386.7h2.7M1545.8 391.3h2.7M1460.2 389.0h2.7M1386.8 389.0h2.7M1374.5 387.9h2.7M1452.8 386.4h2.7M1553.1 386.3h2.7M1395.9 387.1h2.7M1464.8 387.8h2.7M1558.8 391.1h2.7M1414.0 389.3h2.7M1466.4 390.3h2.7M1556.7 390.3h2.7M1389.1 390.7h2.7M1395.7 387.6h2.7M1311.6 390.5h2.7M1489.7 390.1h2.7M1508.4 387.6h2.7M1498.9 390.8h2.7M1415.8 391.3h2.7M1521.5 386.5h2.7M1531.3 391.3h2.7M1384.0 388.6h2.7M1433.3 390.8h2.7M1502.5 389.8h2.7M1426.2 390.8h2.7M1442.6 390.7h2.7M1312.9 388.7h2.7M1368.5 387.4h2.7M1355.8 389.3h2.7M1303.7 390.3h2.7M1411.2 388.5h2.7M1413.2 387.0h2.7M1317.2 387.0h2.7M1330.9 386.4h2.7M1431.0 389.3h2.7M1454.6 386.9h2.7M1549.7 389.3h2.7M1291.9 390.6h2.7M1510.4 387.6h2.7M1481.7 390.6h2.7M1432.6 391.2h2.7M1318.8 389.8h2.7M1550.3 388.1h2.7M1518.3 391.2h2.7M1401.6 391.0h2.7M1359.6 390.8h2.7M1537.5 389.7h2.7M1421.3 388.0h2.7M1528.8 386.5h2.7M1442.6 388.8h2.7M1533.5 389.4h2.7M1370.0 387.6h2.7M1358.9 389.5h2.7M1405.1 388.9h2.7M1386.0 389.2h2.7M1410.9 391.1h2.7M1515.0 391.1h2.7M1431.8 388.6h2.7M1397.1 390.2h2.7M1315.8 389.5h2.7M1374.0 388.9h2.7M1351.3 387.5h2.7M1420.8 391.4h2.7M1399.0 386.4h2.7M1290.9 388.3h2.7M1548.9 389.5h2.7M1450.8 389.5h2.7M1370.5 388.2h2.7M1448.4 389.8h2.7M1423.6 388.7h2.7M1492.9 391.1h2.7M1314.1 390.1h2.7M1362.1 387.3h2.7M1404.1 386.9h2.7M1397.8 389.9h2.7M1472.9 391.0h2.7M1555.2 387.1h2.7M1377.8 389.8h2.7M1510.6 387.3h2.7M1462.7 391.1h2.7M1495.5 391.1h2.7M1458.0 388.5h2.7M1539.8 388.1h2.7M1295.1 386.6h2.7M1492.6 388.4h2.7M1290.5 387.6h2.7M1402.2 387.9h2.7M1555.0 386.6h2.7M1309.3 387.3h2.7M1408.1 387.5h2.7M1391.2 389.1h2.7M1407.2 390.8h2.7M1375.5 387.6h2.7M1308.3 390.8h2.7M1514.6 387.9h2.7M1437.2 390.8h2.7M1321.0 389.8h2.7M1547.0 388.5h2.7M1538.4 390.3h2.7M1401.2 388.6h2.7M1516.0 390.8h2.7M1525.3 388.9h2.7M1297.5 389.2h2.7M1540.0 388.8h2.7M1475.5 389.4h2.7M1499.6 390.9h2.7M1489.8 390.5h2.7M1447.4 390.3h2.7M1382.7 390.5h2.7M1383.6 388.3h2.7M1429.6 389.4h2.7M1444.3 387.0h2.7M1385.9 388.4h2.7M1419.0 386.3h2.7M1377.7 387.8h2.7M1352.2 390.0h2.7M1486.5 388.4h2.7M1358.5 391.1h2.7M1512.1 389.4h2.7M1482.8 389.2h2.7M1456.0 388.5h2.7M1552.9 386.7h2.7M1412.3 388.9h2.7M1351.6 387.5h2.7M1316.7 389.8h2.7M1477.9 388.5h2.7M1438.2 389.7h2.7M1330.0 386.5h2.7M1495.8 387.2h2.7M1315.4 387.3h2.7M1348.1 390.4h2.7M1433.7 388.2h2.7M1321.7 387.4h2.7M1446.5 386.7h2.7M1538.9 387.8h2.7M1387.5 386.5h2.7M1483.3 389.9h2.7M1520.9 387.6h2.7M1360.6 390.1h2.7M1294.5 388.6h2.7M1357.6 389.9h2.7M1357.4 390.7h2.7M1420.1 390.0h2.7M1366.1 390.0h2.7M1426.7 386.9h2.7M1332.3 386.9h2.7M1436.1 387.6h2.7M1537.6 387.4h2.7M1359.3 391.1h2.7M1542.3 389.5h2.7M1501.9 390.2h2.7M1411.5 389.5h2.7M1486.2 386.5h2.7M1425.8 388.5h2.7M1383.3 390.2h2.7M1545.9 390.8h2.7M1543.4 388.0h2.7M1308.4 386.7h2.7M1316.6 388.5h2.7M1321.4 386.3h2.7M1372.7 386.9h2.7M1305.6 387.9h2.7M1307.4 391.2h2.7M1443.4 386.3h2.7M1474.3 387.0h2.7M1501.3 388.7h2.7M1309.9 388.7h2.7M1338.9 388.7h2.7M1384.8 388.8h2.7M1342.4 387.7h2.7M1401.9 388.9h2.7M1310.3 388.9h2.7M1439.8 386.4h2.7M1440.9 390.7h2.7M1370.2 389.7h2.7M1478.9 386.5h2.7M1539.3 386.9h2.7M1541.9 391.3h2.7M1421.4 388.3h2.7M1474.5 388.2h2.7M1454.8 386.6h2.7M1312.4 388.7h2.7M1548.5 391.2h2.7M1319.2 386.9h2.7M1547.9 391.3h2.7M1297.7 387.1h2.7M1475.2 388.7h2.7M1445.9 387.5h2.7M1507.5 391.4h2.7M1307.4 387.3h2.7M1552.8 387.1h2.7M1399.3 389.7h2.7M1382.8 391.3h2.7M1497.3 390.0h2.7M1447.4 388.7h2.7M1379.7 387.9h2.7M1412.0 390.2h2.7M1527.5 390.5h2.7M1329.6 390.1h2.7M1418.6 387.3h2.7M1379.0 390.2h2.7M1466.0 390.0h2.7M1430.4 390.1h2.7M1526.2 390.4h2.7M1351.8 389.8h2.7M1378.1 387.6h2.7M1471.3 387.3h2.7M1435.1 391.0h2.7M1495.5 390.1h2.7M1347.9 389.2h2.7M1325.7 387.3h2.7M1500.6 389.6h2.7M1502.8 389.4h2.7M1366.6 388.3h2.7M1489.5 388.9h2.7M1510.3 391.3h2.7M1424.0 389.4h2.7M1306.6 386.7h2.7M1327.8 390.3h2.7M1526.5 386.4h2.7M1540.9 389.6h2.7M1540.7 390.7h2.7M1482.3 386.5h2.7M1341.1 390.7h2.7M1472.4 386.8h2.7M1485.5 386.5h2.7M1321.5 390.0h2.7M1542.9 391.0h2.7M1339.0 389.6h2.7M1302.3 389.8h2.7M1338.5 390.8h2.7M1442.5 387.4h2.7M1431.5 386.5h2.7M1311.0 390.2h2.7M1309.8 389.8h2.7M1494.7 386.6h2.7M1425.3 390.6h2.7M1378.4 388.4h2.7M1552.0 389.0h2.7M1452.1 387.0h2.7M1414.8 390.4h2.7M1544.3 386.3h2.7M1295.6 387.4h2.7M1397.3 391.1h2.7M1333.0 390.5h2.7M1488.2 390.3h2.7M1294.3 390.3h2.7M1505.1 388.8h2.7M1465.6 389.0h2.7M1338.4 391.3h2.7M1371.3 391.2h2.7M1359.5 388.2h2.7M1388.9 388.9h2.7M1457.7 389.8h2.7M1385.4 386.8h2.7M1446.1 389.2h2.7M1435.1 389.0h2.7M1378.9 386.7h2.7M1352.1 386.5h2.7M1519.7 386.8h2.7M1333.0 388.8h2.7M1555.3 389.9h2.7M1335.2 387.6h2.7M1352.6 388.4h2.7M1331.6 386.5h2.7M1365.8 390.9h2.7M1474.9 389.6h2.7M1440.3 388.8h2.7M1538.5 388.7h2.7M1391.5 391.4h2.7M1423.3 390.0h2.7M1444.3 388.1h2.7M1414.0 390.9h2.7M1423.6 388.9h2.7M1462.4 386.4h2.7M1364.8 389.1h2.7M1311.9 387.2h2.7M1352.4 387.1h2.7M1504.8 390.1h2.7M1533.2 388.8h2.7M1404.3 388.5h2.7M1544.8 388.9h2.7M1419.4 389.9h2.7M1516.5 388.8h2.7M1381.6 390.4h2.7M1347.2 387.1h2.7M1506.3 386.3h2.7M1537.0 387.8h2.7M1504.7 387.7h2.7M1508.0 387.2h2.7M1336.7 387.2h2.7M1371.0 390.1h2.7M1537.7 391.3h2.7M1427.4 389.6h2.7M1503.1 388.2h2.7M1535.4 386.6h2.7M1469.5 390.8h2.7M1554.6 386.9h2.7M1373.0 390.4h2.7M1476.8 387.5h2.7M1555.4 388.2h2.7M1322.9 387.6h2.7M1304.9 386.9h2.7M1496.9 387.3h2.7M1525.3 388.4h2.7M1544.2 388.1h2.7M1422.1 389.4h2.7M1384.6 391.3h2.7M1332.6 387.3h2.7M1350.9 388.0h2.7M1498.7 387.8h2.7M1428.5 389.8h2.7M1362.8 390.4h2.7M1464.2 387.8h2.7M1539.7 386.7h2.7M1367.6 386.5h2.7M1456.5 386.4h2.7M1498.4 389.7h2.7M1364.5 388.7h2.7M1420.9 391.2h2.7M1522.3 388.6h2.7M1416.9 387.5h2.7M1356.6 390.4h2.7M1446.1 390.1h2.7M1377.6 391.0h2.7M1303.1 389.6h2.7M1462.0 389.2h2.7M1399.0 390.2h2.7M1417.2 386.4h2.7M1322.0 389.2h2.7M1474.4 387.4h2.7M1439.1 388.1h2.7M1542.8 386.7h2.7M1356.9 388.6h2.7M1558.7 388.7h2.7M1340.2 387.4h2.7M1304.4 390.6h2.7M1438.1 390.0h2.7M1483.6 387.6h2.7M1375.4 387.4h2.7M1464.2 387.7h2.7M1317.8 388.9h2.7M1547.2 386.8h2.7M1304.2 391.0h2.7M1361.9 387.8h2.7M1407.4 390.7h2.7M1490.3 389.3h2.7M1455.5 391.2h2.7M1481.2 390.7h2.7M1303.8 388.9h2.7M1293.6 391.0h2.7M1394.8 389.0h2.7M1317.6 386.5h2.7M1519.5 388.9h2.7M1448.0 389.8h2.7M1555.0 390.8h2.7M1371.3 390.3h2.7M1523.1 388.8h2.7M1400.0 389.3h2.7M1528.9 390.1h2.7M1503.0 387.7h2.7M1410.3 389.5h2.7M1407.2 389.0h2.7M1400.2 389.8h2.7M1498.0 389.0h2.7M1417.1 386.8h2.7M1412.0 389.4h2.7M1531.9 386.3h2.7M1501.5 389.3h2.7M1470.5 387.6h2.7M1369.1 387.6h2.7M1545.9 388.0h2.7M1465.7 390.2h2.7M1497.4 388.6h2.7M1554.0 389.6h2.7M1481.5 391.3h2.7M1401.6 387.4h2.7M1359.2 388.2h2.7M1348.8 389.3h2.7M1557.7 390.4h2.7M1535.9 391.1h2.7M1446.7 387.1h2.7M1515.5 389.4h2.7M1448.7 387.7h2.7M1495.0 387.5h2.7M1479.7 388.5h2.7M1436.2 386.3h2.7M1325.9 387.3h2.7M1376.8 387.6h2.7M1546.0 390.0h2.7M1442.4 388.7h2.7M1422.9 390.5h2.7M1458.2 386.8h2.7M1468.4 389.9h2.7M1328.3 388.3h2.7M1413.5 388.6h2.7M1557.1 388.4h2.7M1546.9 389.6h2.7M1494.3 391.0h2.7M1370.3 387.8h2.7M1475.7 387.1h2.7M1391.8 390.0h2.7M1295.5 389.5h2.7M1373.2 386.9h2.7M1541.5 390.1h2.7M1312.2 387.3h2.7M1488.9 390.0h2.7M1296.6 387.2h2.7M1521.5 390.3h2.7M1479.3 387.8h2.7M1380.2 386.8h2.7M1373.9 389.1h2.7M1508.7 388.4h2.7M1453.8 386.3h2.7M1349.4 390.2h2.7M1456.6 390.6h2.7M1408.0 389.2h2.7M1512.8 386.7h2.7M1472.1 390.5h2.7M1385.1 387.7h2.7M1347.5 386.8h2.7M1387.5 390.2h2.7M1483.3 391.2h2.7M1477.2 391.1h2.7M1516.5 388.6h2.7M1446.7 390.9h2.7M1301.0 389.6h2.7M1555.3 388.3h2.7M1522.2 391.1h2.7M1316.6 391.3h2.7M1477.5 390.5h2.7M1362.8 387.9h2.7M1477.1 389.7h2.7M1415.4 389.9h2.7M1440.8 389.6h2.7M1386.4 390.1h2.7M1368.0 390.0h2.7M1293.4 389.8h2.7M1449.1 390.0h2.7M1319.6 387.0h2.7M1415.9 388.7h2.7M1492.9 388.2h2.7M1467.3 387.8h2.7M1433.2 387.3h2.7M1530.4 390.2h2.7M1295.0 389.8h2.7M1297.6 387.3h2.7M1456.8 389.9h2.7M1340.7 386.9h2.7M1515.1 387.9h2.7M1438.5 386.8h2.7M1557.1 386.6h2.7M1355.8 386.4h2.7M1436.0 388.7h2.7M1428.8 386.3h2.7M1309.4 386.2h2.7M1292.6 390.6h2.7M1394.4 388.1h2.7M1318.9 388.5h2.7M1543.1 389.1h2.7M1495.2 388.3h2.7M1446.5 390.5h2.7M1414.5 386.7h2.7M1471.3 390.3h2.7M1380.1 388.4h2.7M1459.8 391.3h2.7M1348.5 388.0h2.7M1347.0 391.0h2.7M1495.1 389.7h2.7M1548.0 388.5h2.7M1316.4 388.1h2.7M1359.9 387.2h2.7M1484.9 387.5h2.7M1304.5 391.2h2.7M1504.8 390.7h2.7M1343.6 391.2h2.7M1548.1 389.7h2.7M1359.1 387.1h2.7M1338.9 388.1h2.7M1455.4 386.5h2.7M1300.8 388.5h2.7M1392.6 387.1h2.7M1357.2 387.7h2.7M1339.1 388.8h2.7M1550.9 390.2h2.7M1471.4 391.1h2.7M1339.4 390.2h2.7M1367.4 387.0h2.7M1470.1 388.1h2.7M1392.6 387.7h2.7M1422.5 391.1h2.7M1296.6 386.3h2.7M1389.4 389.7h2.7M1329.1 388.3h2.7M1536.4 390.5h2.7M1424.3 388.8h2.7M1496.1 388.5h2.7M1353.6 390.4h2.7M1485.0 391.0h2.7M1522.9 391.2h2.7M1340.3 389.0h2.7M1517.3 388.2h2.7M1490.7 387.5h2.7M1484.4 391.1h2.7M1512.2 390.6h2.7M1332.9 391.2h2.7M1392.0 390.9h2.7M1301.6 387.0h2.7M1451.7 386.6h2.7M1299.1 390.8h2.7M1366.5 390.4h2.7M1319.3 390.4h2.7M1462.2 390.5h2.7M1334.6 388.6h2.7M1390.6 390.6h2.7M1393.9 388.9h2.7M1299.8 388.2h2.7M1341.3 389.7h2.7M1291.5 386.8h2.7M1447.9 389.4h2.7M1435.6 386.5h2.7M1324.7 389.4h2.7M1480.5 389.5h2.7M1480.2 386.7h2.7M1300.1 389.9h2.7M1368.2 387.5h2.7M1501.1 387.8h2.7M1539.1 390.4h2.7M1395.4 387.0h2.7M1496.0 390.8h2.7M1554.0 387.6h2.7M1523.2 389.5h2.7M1531.9 388.4h2.7M1529.7 386.2h2.7M1516.0 388.0h2.7M1548.7 390.7h2.7M1398.2 388.5h2.7M1324.6 387.3h2.7M1364.7 389.7h2.7M1453.1 390.4h2.7M1410.0 387.0h2.7M1555.9 390.0h2.7M1387.9 387.8h2.7M1340.3 387.0h2.7M1342.7 388.5h2.7M1380.8 391.4h2.7M1289.3 391.4h2.7M1557.1 388.1h2.7M1566.2 382.0h2.7M1597.7 378.5h2.7M1632.2 381.5h2.7M1591.4 379.1h2.7M1596.3 382.4h2.7M1620.6 376.7h2.7M1608.0 383.1h2.7M1592.6 379.2h2.7M1604.6 377.8h2.7M1565.6 383.1h2.7M1596.1 379.4h2.7M1602.8 375.9h2.7M1569.8 383.1h2.7M1578.6 382.4h2.7M1566.1 382.6h2.7M1607.0 381.3h2.7M1570.3 379.2h2.7M1628.3 380.0h2.7M1626.7 377.8h2.7M1583.0 379.7h2.7M1596.8 380.6h2.7M1581.2 380.4h2.7M1599.9 382.5h2.7M1607.3 377.7h2.7M1621.4 380.7h2.7M1599.6 381.1h2.7M1631.1 381.0h2.7M1597.6 377.7h2.7M1564.7 382.8h2.7M1612.7 382.4h2.7M1593.3 379.0h2.7M1594.9 381.2h2.7M1628.6 383.2h2.7M1628.4 382.5h2.7M1571.5 374.1h2.7M1595.0 383.0h2.7M1632.2 382.5h2.7M1620.4 383.1h2.7M1610.7 378.2h2.7M1621.2 383.0h2.7M1630.8 379.7h2.7M1566.8 373.1h2.7M1608.1 379.2h2.7M1629.8 383.0h2.7M1599.5 380.2h2.7M1633.3 376.5h2.7M1603.1 382.3h2.7M1617.6 381.4h2.7M1574.1 380.5h2.7M1610.1 381.2h2.7M1574.6 374.8h2.7M1571.0 379.9h2.7M1607.7 379.9h2.7M1627.7 375.7h2.7M1610.4 381.0h2.7M1589.0 381.3h2.7M1587.9 378.8h2.7M1612.5 381.1h2.7M1610.0 381.5h2.7M1568.8 378.1h2.7M1584.2 382.6h2.7M1572.0 378.3h2.7M1567.6 379.0h2.7M1578.3 376.0h2.7M1597.1 381.6h2.7M1593.4 379.2h2.7M1563.5 378.8h2.7M1586.0 382.6h2.7M1567.1 379.9h2.7M1562.3 379.9h2.7M1585.4 380.9h2.7M1588.0 375.9h2.7M1631.2 374.9h2.7M1570.8 382.8h2.7M1603.5 382.7h2.7M1592.4 377.7h2.7M1605.1 373.1h2.7M1618.7 380.6h2.7M1620.2 382.4h2.7M1601.4 380.4h2.7M1615.3 380.1h2.7M1572.2 382.4h2.7M1634.0 380.8h2.7M1596.5 381.7h2.7M1620.3 378.5h2.7M1622.2 380.2h2.7M1568.3 377.3h2.7M1581.5 380.0h2.7M1611.8 380.4h2.7M1576.6 381.8h2.7M1576.2 380.0h2.7M1561.4 373.7h2.7M1590.0 378.6h2.7M1635.4 379.0h2.7M1623.3 376.7h2.7M1570.3 382.0h2.7M1629.5 375.4h2.7M1570.9 381.9h2.7M1610.4 378.9h2.7M1594.4 380.6h2.7M1589.3 379.4h2.7M1572.2 381.1h2.7M1588.5 382.8h2.7M1593.5 373.7h2.7M1563.5 381.2h2.7M1584.8 380.0h2.7M1624.9 382.3h2.7M1569.2 379.0h2.7M1578.7 378.8h2.7M1567.5 381.5h2.7M1619.6 381.6h2.7M1595.5 380.6h2.7M1621.4 378.7h2.7M1631.0 377.9h2.7M1632.4 377.7h2.7M1576.4 382.6h2.7M1584.2 378.6h2.7M1612.9 378.2h2.7M1626.9 383.0h2.7M1582.9 380.9h2.7M1632.7 378.7h2.7M1566.6 379.2h2.7M1587.0 382.9h2.7M1565.1 380.2h2.7M1591.6 381.6h2.7M1562.5 381.4h2.7M1598.5 381.8h2.7M1565.1 381.6h2.7M1569.9 380.6h2.7M1562.7 375.9h2.7M1594.9 383.1h2.7M1568.9 380.1h2.7M1598.6 379.1h2.7M1599.4 378.6h2.7M1629.0 379.5h2.7M1596.2 380.0h2.7M1601.1 378.5h2.7M1606.6 377.4h2.7M1597.3 378.0h2.7M1573.7 382.5h2.7M1618.4 379.1h2.7M1584.5 377.6h2.7M1578.3 378.3h2.7M1620.2 382.8h2.7M1615.0 382.9h2.7M1632.2 383.1h2.7M1597.6 382.7h2.7M1628.4 377.1h2.7M1595.0 379.5h2.7M1569.5 381.0h2.7M1597.1 379.9h2.7M1632.6 373.3h2.7M1624.1 381.9h2.7M1587.7 376.2h2.7M1562.7 382.1h2.7M1616.7 383.0h2.7M1579.2 378.9h2.7M1629.3 382.7h2.7M1634.6 374.2h2.7M1597.1 379.0h2.7M1599.9 380.3h2.7M1611.5 379.7h2.7M1572.3 376.7h2.7M1578.4 373.1h2.7M1631.4 378.5h2.7M1623.5 382.9h2.7M1616.7 378.6h2.7M1564.5 379.2h2.7M1598.2 372.9h2.7M1613.9 379.7h2.7M1566.3 374.2h2.7M1622.1 382.1h2.7M1595.4 380.2h2.7M1579.8 382.0h2.7M1592.8 378.2h2.7M1612.6 378.4h2.7M1588.1 382.9h2.7M1630.4 379.9h2.7M1622.5 373.8h2.7M1636.3 383.2h2.7M1607.8 378.4h2.7M1607.7 383.2h2.7M1624.2 377.7h2.7M1606.2 374.0h2.7M1636.4 378.2h2.7M1591.3 381.4h2.7M1582.1 382.7h2.7M1606.6 378.8h2.7M1587.0 376.7h2.7M1601.5 383.2h2.7M1584.1 376.3h2.7M1598.3 381.8h2.7M1601.8 381.3h2.7M1582.8 379.0h2.7M1614.4 378.4h2.7M1617.4 382.5h2.7M1618.0 377.7h2.7M1620.0 380.1h2.7M1608.6 382.5h2.7M1634.7 381.8h2.7M1635.7 382.9h2.7M1612.0 382.0h2.7M1584.2 381.5h2.7M1611.6 372.9h2.7M1628.7 376.5h2.7M1623.7 380.0h2.7M1566.9 377.9h2.7M1570.8 380.3h2.7M1561.3 382.9h2.7M1628.5 380.5h2.7M1564.2 378.1h2.7M1612.7 379.2h2.7M1614.5 378.9h2.7M1605.1 380.3h2.7M1582.1 378.3h2.7M1587.7 381.2h2.7M1575.6 377.9h2.7M1618.2 374.9h2.7M1565.9 383.0h2.7M1607.7 377.9h2.7M1583.7 382.0h2.7M1572.4 380.5h2.7M1593.1 377.9h2.7M1585.0 380.3h2.7M1627.6 379.3h2.7M1578.8 378.6h2.7M1616.4 382.4h2.7M1634.6 373.3h2.7M1602.3 381.2h2.7M1630.3 381.6h2.7M1564.4 376.0h2.7M1567.4 382.1h2.7M1594.1 379.6h2.7M1568.5 383.0h2.7M1594.7 381.8h2.7M1623.6 381.1h2.7M1621.3 380.2h2.7M1601.9 378.0h2.7M1613.9 382.2h2.7M1597.8 380.2h2.7M1568.0 380.9h2.7M1565.0 378.0h2.7M1625.7 375.8h2.7M1635.9 379.2h2.7M1632.7 383.2h2.7M1570.8 378.8h2.7M1607.2 382.6h2.7M1610.0 382.5h2.7M1606.3 378.8h2.7M1623.9 381.6h2.7M1572.1 383.1h2.7M1627.1 378.7h2.7M1598.3 373.7h2.7M1587.4 379.0h2.7M1597.1 376.3h2.7M1593.9 373.0h2.7M1618.7 373.3h2.7M1581.8 382.9h2.7M1612.6 375.3h2.7M1596.2 380.9h2.7M1623.3 378.5h2.7M1595.9 383.0h2.7M1621.1 381.0h2.7M1570.3 380.9h2.7M1571.6 379.8h2.7M1627.0 382.4h2.7M1582.2 380.0h2.7M1610.3 383.0h2.7M1576.4 378.5h2.7M1632.8 381.8h2.7M1564.7 381.0h2.7M1631.8 382.1h2.7M1562.4 378.7h2.7M1627.3 383.2h2.7M1604.9 379.8h2.7M1630.4 381.7h2.7M1607.2 379.0h2.7M1580.8 374.4h2.7M1628.9 377.9h2.7M1605.4 379.6h2.7M1584.8 383.0h2.7M1607.5 382.7h2.7M1620.1 379.0h2.7M1581.9 378.0h2.7M1624.1 377.8h2.7M1607.0 374.7h2.7M1605.4 381.1h2.7M1604.4 379.7h2.7M1626.8 382.0h2.7M1563.3 380.8h2.7M1625.5 380.4h2.7M1607.2 379.5h2.7M1603.5 381.9h2.7M1570.6 378.3h2.7M1633.1 380.0h2.7M1600.5 382.3h2.7M1621.1 382.0h2.7M1582.4 382.2h2.7M1567.3 382.3h2.7M1610.0 379.8h2.7M1597.7 381.6h2.7M1596.4 382.1h2.7M1616.9 377.8h2.7M1583.1 380.8h2.7M1617.0 382.2h2.7M1633.6 375.3h2.7M1636.8 381.1h2.7M1567.8 380.0h2.7M1615.7 378.9h2.7M1594.3 379.9h2.7M1609.3 379.5h2.7M1603.7 379.5h2.7M1614.6 377.8h2.7M1597.7 380.4h2.7M1588.4 378.3h2.7M1574.7 382.3h2.7M1600.4 377.2h2.7M1626.4 377.8h2.7M1630.2 379.7h2.7M1596.1 381.3h2.7M1594.7 377.1h2.7M1602.1 380.2h2.7M1621.3 381.5h2.7M1633.7 381.7h2.7M1602.8 377.4h2.7M1573.3 380.8h2.7M1593.2 381.8h2.7M1622.3 377.8h2.7M1602.7 381.8h2.7M1615.3 379.4h2.7M1580.6 376.4h2.7M1627.2 381.0h2.7M1603.7 374.1h2.7M1563.4 380.5h2.7M1625.2 382.3h2.7M1562.2 381.5h2.7M1598.5 374.6h2.7M1612.3 381.2h2.7M1597.6 378.1h2.7M1568.1 382.2h2.7M1599.6 382.0h2.7M1613.5 379.1h2.7M1636.8 377.7h2.7M1595.8 382.3h2.7M1567.6 382.7h2.7M1563.8 380.2h2.7M1576.1 379.0h2.7M1602.0 378.6h2.7M1620.8 378.9h2.7M1572.0 387.8h2.7M1607.2 387.7h2.7M1611.9 387.5h2.7M1645.2 387.2h2.7M1634.1 386.2h2.7M1602.4 386.5h2.7M1605.9 387.3h2.7M1573.8 386.7h2.7M1643.4 386.7h2.7M1590.6 387.0h2.7M1594.0 387.3h2.7M1630.4 388.0h2.7M1605.0 387.0h2.7M1575.8 386.6h2.7M1585.1 387.2h2.7M1584.6 386.9h2.7M1600.5 386.7h2.7M1600.0 386.5h2.7M1611.0 387.8h2.7M1588.9 386.2h2.7M1604.8 386.6h2.7M1576.6 386.8h2.7M1573.3 387.6h2.7M1574.1 388.0h2.7M1700.0 375.9h2.7M1704.3 370.8h2.7M1687.2 374.5h2.7M1681.9 369.5h2.7M1637.7 378.8h2.7M1650.0 378.7h2.7M1650.1 384.1h2.7M1670.4 376.4h2.7M1671.7 382.0h2.7M1646.4 377.9h2.7M1671.6 376.8h2.7M1676.9 381.5h2.7M1674.6 376.0h2.7M1680.6 381.7h2.7M1672.2 373.9h2.7M1698.0 363.7h2.7M1690.0 374.8h2.7M1683.9 378.3h2.7M1640.3 381.0h2.7M1681.8 376.0h2.7M1673.5 372.2h2.7M1677.8 379.0h2.7M1655.3 378.4h2.7M1684.4 373.1h2.7M1656.0 381.3h2.7M1665.9 382.7h2.7M1688.8 372.1h2.7M1689.7 372.0h2.7M1704.8 376.1h2.7M1666.0 383.0h2.7M1656.0 377.8h2.7M1694.2 377.2h2.7M1671.3 375.5h2.7M1659.7 376.4h2.7M1668.0 378.1h2.7M1703.3 364.3h2.7M1704.9 362.6h2.7M1691.4 374.0h2.7M1698.0 371.3h2.7M1637.8 382.6h2.7M1682.7 366.6h2.7M1693.8 371.9h2.7M1670.1 379.8h2.7M1639.7 382.9h2.7M1693.3 370.0h2.7M1654.2 380.4h2.7M1651.8 381.2h2.7M1637.1 383.9h2.7M1685.6 377.7h2.7M1663.9 373.6h2.7M1674.9 379.3h2.7M1697.5 370.7h2.7M1673.6 374.6h2.7M1677.2 371.2h2.7M1636.2 381.7h2.7M1702.8 373.5h2.7M1689.3 373.9h2.7M1679.3 373.6h2.7M1651.7 382.8h2.7M1667.6 381.4h2.7M1675.8 376.3h2.7M1643.8 380.1h2.7M1634.7 378.8h2.7M1671.7 378.0h2.7M1699.6 375.6h2.7M1677.9 378.3h2.7M1699.4 374.4h2.7M1658.5 377.8h2.7M1703.3 373.2h2.7M1683.4 373.1h2.7M1644.3 374.9h2.7M1661.3 381.2h2.7M1659.6 377.0h2.7M1644.6 381.1h2.7M1691.7 372.7h2.7M1659.0 380.1h2.7M1705.0 374.3h2.7M1698.0 374.2h2.7M1700.5 378.3h2.7M1701.7 375.6h2.7M1637.9 378.0h2.7M1659.8 381.3h2.7M1688.7 370.8h2.7M1668.7 376.5h2.7M1695.2 374.3h2.7M1682.2 377.5h2.7M1650.2 382.1h2.7M1703.6 373.4h2.7M1666.0 379.0h2.7M1703.7 366.8h2.7M1658.6 379.1h2.7M1682.4 371.1h2.7M1702.5 367.4h2.7M1686.4 373.5h2.7M1669.5 379.9h2.7M1639.6 384.1h2.7M1636.5 379.2h2.7M1646.3 377.3h2.7M1654.0 378.9h2.7M1688.9 373.6h2.7M1686.7 373.6h2.7M1638.6 377.8h2.7M1654.8 376.3h2.7M1690.9 378.4h2.7M1660.5 379.3h2.7M1694.1 376.5h2.7M1640.6 383.7h2.7M1644.2 378.3h2.7M1638.2 372.5h2.7M1706.9 373.3h2.7M1673.1 378.0h2.7M1668.1 382.6h2.7M1645.5 382.1h2.7M1683.1 378.8h2.7M1635.9 380.9h2.7M1689.3 372.5h2.7M1668.3 379.6h2.7M1671.3 371.3h2.7M1654.3 379.6h2.7M1637.2 380.3h2.7M1635.5 373.3h2.7M1673.1 379.2h2.7M1702.5 376.6h2.7M1640.5 381.4h2.7M1665.1 381.4h2.7M1681.1 378.5h2.7M1658.2 380.5h2.7M1669.0 380.0h2.7M1664.5 380.0h2.7M1650.7 379.8h2.7M1685.8 373.1h2.7M1706.5 365.2h2.7M1678.0 377.3h2.7M1704.5 376.9h2.7M1661.5 383.3h2.7M1634.6 377.0h2.7M1667.5 379.0h2.7M1687.1 369.9h2.7M1696.6 378.2h2.7M1638.6 380.5h2.7M1681.7 371.2h2.7M1670.6 379.7h2.7M1647.4 378.7h2.7M1691.7 374.8h2.7M1678.3 376.7h2.7M1694.3 374.5h2.7M1703.3 372.7h2.7M1646.2 383.3h2.7M1645.0 380.2h2.7M1652.5 378.8h2.7M1635.8 378.6h2.7M1680.6 377.6h2.7M1703.3 373.3h2.7M1664.1 384.1h2.7M1680.9 373.9h2.7M1667.3 378.5h2.7M1655.6 384.1h2.7M1637.9 380.9h2.7M1677.3 382.3h2.7M1641.4 380.2h2.7M1691.9 376.0h2.7M1678.9 377.5h2.7M1659.8 380.2h2.7M1687.1 374.2h2.7M1663.4 378.4h2.7M1696.0 374.5h2.7M1638.8 382.0h2.7M1694.8 369.4h2.7M1648.1 383.8h2.7M1656.5 379.2h2.7M1703.7 368.0h2.7M1689.3 374.6h2.7M1696.1 371.0h2.7M1704.7 365.4h2.7M1639.0 382.5h2.7M1687.6 378.8h2.7M1689.1 379.9h2.7M1670.0 374.0h2.7M1665.8 379.2h2.7M1680.0 375.2h2.7M1702.5 375.9h2.7M1652.9 373.7h2.7M1658.4 383.2h2.7M1634.9 383.9h2.7M1703.9 373.8h2.7M1674.1 378.3h2.7M1645.2 384.1h2.7M1682.2 378.3h2.7M1653.1 378.7h2.7M1659.6 379.6h2.7M1656.5 383.3h2.7M1694.8 378.9h2.7M1691.0 370.9h2.7M1667.0 377.4h2.7M1654.8 378.4h2.7M1633.8 382.4h2.7M1666.2 377.8h2.7M1677.7 376.5h2.7M1677.6 378.1h2.7M1674.3 377.6h2.7M1671.5 378.6h2.7M1644.3 377.7h2.7M1668.6 381.2h2.7M1682.7 372.1h2.7M1653.2 381.5h2.7M1688.0 376.5h2.7M1647.9 384.0h2.7M1692.0 377.1h2.7M1672.1 367.7h2.7M1691.5 379.3h2.7M1659.3 379.7h2.7M1642.3 375.2h2.7M1645.9 375.7h2.7M1661.5 376.3h2.7M1701.1 369.4h2.7M1658.0 382.9h2.7M1656.5 377.8h2.7M1697.4 371.6h2.7M1654.8 368.7h2.7M1660.9 378.6h2.7M1690.2 382.7h2.7M1638.7 377.7h2.7M1700.8 372.0h2.7M1657.8 379.9h2.7M1638.6 381.5h2.7M1639.1 378.4h2.7M1700.7 379.9h2.7M1672.1 372.2h2.7M1670.3 374.5h2.7M1690.8 377.2h2.7M1645.4 383.0h2.7M1643.3 376.9h2.7M1654.2 377.7h2.7M1703.5 363.2h2.7M1641.6 378.4h2.7M1640.4 378.1h2.7M1676.9 378.0h2.7M1676.1 379.6h2.7M1643.2 378.2h2.7M1684.3 379.0h2.7M1693.5 369.2h2.7M1638.4 382.9h2.7M1701.9 369.2h2.7M1678.8 375.2h2.7M1633.8 377.0h2.7M1670.9 376.1h2.7M1670.4 377.1h2.7M1672.6 376.5h2.7M1655.8 374.8h2.7M1684.8 368.2h2.7M1666.0 376.5h2.7M1645.6 381.1h2.7M1639.8 375.5h2.7M1700.4 370.6h2.7M1638.1 376.9h2.7M1666.6 376.4h2.7M1646.0 380.4h2.7M1673.3 378.7h2.7M1649.0 381.1h2.7M1684.2 374.8h2.7M1697.1 369.4h2.7M1648.5 384.1h2.7M1655.7 382.9h2.7M1679.2 379.3h2.7M1673.8 377.1h2.7M1639.0 377.8h2.7M1637.0 381.6h2.7M1697.7 373.0h2.7M1703.9 363.3h2.7M1679.0 368.2h2.7M1633.2 382.7h2.7M1655.7 377.2h2.7M1637.7 380.3h2.7M1668.5 377.3h2.7M1698.4 361.6h2.7M1669.8 377.0h2.7M1688.6 377.8h2.7M1690.4 377.7h2.7M1658.8 374.5h2.7M1645.6 381.3h2.7M1686.0 374.4h2.7M1651.4 384.1h2.7M1677.1 376.7h2.7M1700.1 372.4h2.7M1687.7 380.2h2.7M1683.9 371.1h2.7M1681.7 378.4h2.7M1673.5 384.1h2.7M1655.0 381.1h2.7M1646.8 382.6h2.7M1685.7 375.4h2.7M1679.9 373.8h2.7M1678.7 376.5h2.7M1662.1 380.6h2.7M1641.0 383.3h2.7M1683.9 374.1h2.7M1678.4 376.9h2.7M1678.2 379.8h2.7M1670.3 380.5h2.7M1706.1 366.4h2.7M1693.0 376.3h2.7M1682.2 371.3h2.7M1638.0 384.1h2.7M1648.5 379.1h2.7M1701.3 362.8h2.7M1649.5 384.1h2.7M1676.3 370.0h2.7M1704.4 371.8h2.7M1688.6 369.1h2.7M1654.5 381.9h2.7M1691.4 365.0h2.7M1705.2 364.8h2.7M1687.6 371.8h2.7M1703.7 371.1h2.7M1640.2 382.7h2.7M1645.6 380.2h2.7M1656.7 374.7h2.7M1643.8 375.5h2.7M1641.9 384.1h2.7M1672.4 377.3h2.7M1690.2 374.5h2.7M1669.2 381.1h2.7M1702.5 369.2h2.7M1680.2 375.8h2.7M1703.4 369.0h2.7M1691.2 378.8h2.7M1636.6 382.2h2.7M1639.5 381.6h2.7M1657.5 376.0h2.7M1645.4 375.5h2.7M1679.8 374.7h2.7M1678.3 380.4h2.7M1700.6 369.2h2.7M1665.2 379.3h2.7M1684.5 376.6h2.7M1659.1 371.4h2.7M1642.1 379.8h2.7M1652.6 380.7h2.7M1685.9 371.3h2.7M1642.3 376.9h2.7M1672.1 375.2h2.7M1666.1 377.1h2.7M1673.1 381.8h2.7M1657.6 384.1h2.7M1660.0 373.4h2.7M1648.4 378.5h2.7M1694.8 368.8h2.7M1665.2 377.3h2.7M1675.9 380.6h2.7M1639.0 377.4h2.7M1666.4 378.6h2.7M1657.8 376.4h2.7M1647.4 380.7h2.7M1652.3 376.8h2.7M1683.6 368.8h2.7M1698.6 370.1h2.7M1670.4 374.4h2.7M1696.5 378.5h2.7M1634.0 377.5h2.7M1664.5 378.4h2.7M1633.2 381.5h2.7M1648.3 380.6h2.7M1695.6 370.4h2.7M1641.1 382.2h2.7M1651.0 378.8h2.7M1706.5 371.1h2.7M1659.1 384.1h2.7M1705.2 363.7h2.7M1649.6 380.7h2.7M1636.3 383.8h2.7M1696.7 373.7h2.7M1706.8 368.2h2.7M1705.8 372.7h2.7M1678.2 374.2h2.7M1703.8 369.8h2.7M1702.2 373.0h2.7M1672.7 371.3h2.7M1668.9 384.1h2.7M1694.7 374.4h2.7M1662.0 377.8h2.7M1658.6 380.9h2.7M1656.5 376.0h2.7M1632.9 379.6h2.7M1704.6 368.2h2.7M1637.3 383.6h2.7M1652.2 379.2h2.7M1664.4 380.4h2.7M1660.7 380.0h2.7M1706.2 373.9h2.7M1651.7 379.6h2.7M1700.6 373.0h2.7M1673.1 374.3h2.7M1698.2 364.8h2.7M1642.4 373.4h2.7M1691.4 374.8h2.7M1661.5 383.1h2.7M1655.9 377.0h2.7M1702.8 377.0h2.7M1637.8 384.1h2.7M1648.9 381.9h2.7M1634.3 375.8h2.7M1685.6 379.2h2.7M1639.7 377.9h2.7M1686.3 376.3h2.7M1703.4 374.9h2.7M1663.0 380.5h2.7M1654.4 384.1h2.7M1706.3 369.6h2.7M1700.2 364.1h2.7M1687.1 382.3h2.7M1687.4 371.5h2.7M1669.0 376.2h2.7M1640.5 377.5h2.7M1650.8 381.5h2.7M1638.8 383.0h2.7M1703.1 371.6h2.7M1679.8 378.3h2.7M1636.4 379.6h2.7M1683.8 378.9h2.7M1663.2 378.0h2.7M1664.8 375.9h2.7M1654.7 379.4h2.7M1673.9 378.9h2.7M1685.7 378.6h2.7M1659.1 374.4h2.7M1678.9 373.9h2.7M1674.3 375.4h2.7M1672.7 377.3h2.7M1696.9 372.7h2.7M1678.8 374.0h2.7M1679.1 375.6h2.7M1697.6 377.2h2.7M1695.6 373.1h2.7M1705.0 365.8h2.7M1702.6 374.4h2.7M1658.1 382.7h2.7M1679.6 374.0h2.7M1681.3 381.3h2.7M1632.8 384.1h2.7M1648.0 377.1h2.7M1667.4 377.7h2.7M1659.0 381.2h2.7M1692.0 375.3h2.7M1681.3 372.6h2.7M1705.7 369.1h2.7M1660.6 381.4h2.7M1676.5 360.6h2.7M1684.4 380.5h2.7M1661.6 378.6h2.7M1653.1 380.1h2.7M1684.2 373.0h2.7M1706.1 366.2h2.7M1670.6 373.4h2.7M1635.1 380.0h2.7M1641.3 377.9h2.7M1668.0 376.1h2.7M1648.9 378.2h2.7M1703.2 369.7h2.7M1705.8 367.8h2.7M1697.9 369.7h2.7M1680.9 376.0h2.7M1704.2 362.4h2.7M1656.3 382.2h2.7M1687.1 366.7h2.7M1704.7 373.6h2.7M1689.3 373.0h2.7M1664.1 383.7h2.7M1675.2 372.7h2.7M1665.9 374.8h2.7M1668.5 381.9h2.7M1702.0 370.9h2.7M1748.4 360.1h2.7M1759.4 316.4h2.7M1730.8 360.2h2.7M1758.0 338.5h2.7M1722.4 363.4h2.7M1716.8 373.1h2.7M1745.0 367.8h2.7M1762.1 339.5h2.7M1728.8 356.9h2.7M1754.4 352.8h2.7M1759.6 374.2h2.7M1737.2 359.7h2.7M1736.6 373.4h2.7M1747.0 341.4h2.7M1712.8 377.6h2.7M1714.9 378.6h2.7M1758.2 348.4h2.7M1712.7 371.8h2.7M1745.6 358.7h2.7M1761.9 351.4h2.7M1716.6 355.4h2.7M1710.4 381.5h2.7M1748.4 371.2h2.7M1731.6 366.5h2.7M1729.5 359.7h2.7M1723.5 344.6h2.7M1762.1 319.4h2.7M1749.9 343.4h2.7M1741.2 359.2h2.7M1729.6 343.7h2.7M1734.8 352.3h2.7M1755.0 343.7h2.7M1717.6 364.6h2.7M1755.9 347.4h2.7M1727.2 362.1h2.7M1727.8 351.4h2.7M1718.2 376.9h2.7M1751.1 362.1h2.7M1745.7 339.8h2.7M1707.1 376.3h2.7M1732.6 358.7h2.7M1738.9 361.1h2.7M1736.5 366.9h2.7M1756.7 352.3h2.7M1711.6 372.1h2.7M1720.3 356.4h2.7M1760.1 351.0h2.7M1765.7 348.5h2.7M1751.3 360.7h2.7M1735.4 348.2h2.7M1744.2 358.6h2.7M1747.3 357.9h2.7M1739.7 361.5h2.7M1730.6 367.2h2.7M1716.0 377.1h2.7M1726.7 363.3h2.7M1734.6 331.0h2.7M1732.0 343.2h2.7M1758.7 352.5h2.7M1735.4 352.9h2.7M1708.0 363.6h2.7M1728.7 370.4h2.7M1766.5 340.6h2.7M1737.4 355.5h2.7M1747.0 348.3h2.7M1736.3 367.3h2.7M1729.3 355.8h2.7M1746.9 356.6h2.7M1735.0 361.2h2.7M1718.9 372.4h2.7M1752.3 356.9h2.7M1765.6 346.0h2.7M1735.7 370.5h2.7M1709.9 369.0h2.7M1727.4 367.6h2.7M1740.7 358.6h2.7M1738.3 336.1h2.7M1766.2 330.9h2.7M1723.6 362.3h2.7M1740.1 364.2h2.7M1764.0 357.0h2.7M1731.4 370.0h2.7M1738.8 345.3h2.7M1720.1 359.4h2.7M1707.4 371.7h2.7M1737.7 340.6h2.7M1755.9 360.0h2.7M1742.5 363.5h2.7M1713.3 367.6h2.7M1731.5 354.9h2.7M1766.7 356.3h2.7M1754.9 362.5h2.7M1729.9 364.5h2.7M1761.9 343.4h2.7M1761.5 352.9h2.7M1746.8 363.7h2.7M1730.1 348.9h2.7M1747.9 366.1h2.7M1762.8 347.0h2.7M1760.8 357.5h2.7M1749.3 351.6h2.7M1746.2 343.7h2.7M1720.8 358.8h2.7M1744.9 350.7h2.7M1719.0 358.9h2.7M1720.9 377.4h2.7M1744.5 362.5h2.7M1744.8 354.3h2.7M1730.5 369.2h2.7M1745.2 350.2h2.7M1762.8 325.6h2.7M1760.2 320.8h2.7M1717.2 358.2h2.7M1711.0 372.9h2.7M1714.3 371.5h2.7M1742.3 366.7h2.7M1736.0 361.7h2.7M1742.9 353.2h2.7M1748.7 367.1h2.7M1756.7 362.8h2.7M1709.9 366.4h2.7M1707.9 378.6h2.7M1717.9 361.9h2.7M1765.3 348.5h2.7M1733.2 349.1h2.7M1766.1 339.8h2.7M1744.0 348.9h2.7M1726.2 365.1h2.7M1762.5 341.5h2.7M1763.8 350.0h2.7M1709.5 369.4h2.7M1737.3 361.7h2.7M1723.8 354.2h2.7M1757.4 352.5h2.7M1704.4 368.4h2.7M1726.7 330.2h2.7M1705.0 370.5h2.7M1737.0 349.2h2.7M1727.5 365.4h2.7M1733.2 349.8h2.7M1714.5 375.9h2.7M1740.1 358.6h2.7M1750.9 358.5h2.7M1764.2 343.5h2.7M1710.2 370.8h2.7M1729.5 352.2h2.7M1716.3 361.6h2.7M1738.3 363.8h2.7M1742.4 348.7h2.7M1711.2 361.6h2.7M1738.0 360.4h2.7M1764.0 364.7h2.7M1709.9 378.0h2.7M1727.0 359.0h2.7M1764.3 365.2h2.7M1706.9 368.9h2.7M1728.0 367.2h2.7M1734.9 373.6h2.7M1758.7 347.7h2.7M1748.9 362.7h2.7M1736.3 341.9h2.7M1757.8 331.8h2.7M1760.9 345.6h2.7M1705.0 355.6h2.7M1735.2 362.9h2.7M1738.5 370.6h2.7M1745.6 347.5h2.7M1720.7 362.6h2.7M1723.9 357.3h2.7M1730.3 374.2h2.7M1766.8 345.1h2.7M1719.6 367.7h2.7M1703.0 361.6h2.7M1744.1 341.1h2.7M1740.9 353.8h2.7M1727.6 354.2h2.7M1709.5 367.8h2.7M1750.9 332.7h2.7M1725.7 359.0h2.7M1717.5 368.8h2.7M1739.9 371.4h2.7M1722.7 366.8h2.7M1761.5 357.7h2.7M1740.1 366.9h2.7M1716.4 380.7h2.7M1703.5 376.7h2.7M1724.1 365.7h2.7M1753.0 343.1h2.7M1745.0 343.8h2.7M1760.0 333.6h2.7M1706.8 358.4h2.7M1760.2 345.9h2.7M1738.5 366.7h2.7M1739.6 357.8h2.7M1762.2 360.3h2.7M1733.0 368.1h2.7M1722.3 372.9h2.7M1722.2 350.9h2.7M1707.2 370.7h2.7M1736.6 368.9h2.7M1721.1 359.3h2.7M1761.7 364.9h2.7M1719.5 363.3h2.7M1760.6 359.6h2.7M1731.0 364.1h2.7M1764.2 357.6h2.7M1726.3 366.5h2.7M1732.5 361.7h2.7M1719.8 355.4h2.7M1707.6 370.4h2.7M1746.0 352.7h2.7M1708.7 363.1h2.7M1720.3 368.6h2.7M1738.5 361.7h2.7M1722.4 349.3h2.7M1762.8 342.7h2.7M1760.3 346.7h2.7M1747.6 354.9h2.7M1726.1 349.0h2.7M1735.8 361.0h2.7M1745.0 341.5h2.7M1757.9 349.4h2.7M1739.6 343.8h2.7M1759.7 366.5h2.7M1763.0 343.5h2.7M1729.2 377.5h2.7M1740.5 341.3h2.7M1737.3 356.4h2.7M1736.4 369.9h2.7M1745.6 355.3h2.7M1703.1 363.1h2.7M1749.7 344.8h2.7M1766.1 359.8h2.7M1752.0 344.0h2.7M1762.9 340.0h2.7M1709.6 357.7h2.7M1712.2 376.2h2.7M1716.2 367.5h2.7M1704.5 379.5h2.7M1737.2 351.3h2.7M1737.6 338.6h2.7M1761.8 346.0h2.7M1760.6 347.7h2.7M1763.9 346.7h2.7M1719.8 372.3h2.7M1739.1 369.2h2.7M1710.1 368.0h2.7M1710.6 354.0h2.7M1727.2 353.7h2.7M1712.5 370.6h2.7M1745.1 364.2h2.7M1726.4 348.8h2.7M1756.8 346.2h2.7M1738.3 363.0h2.7M1731.7 344.7h2.7M1724.9 348.3h2.7M1742.5 329.3h2.7M1766.7 333.3h2.7M1747.3 342.8h2.7M1733.2 349.7h2.7M1733.5 359.1h2.7M1757.8 342.4h2.7M1742.1 356.6h2.7M1728.8 374.2h2.7M1738.5 362.2h2.7M1730.7 347.5h2.7M1753.8 353.4h2.7M1707.9 361.5h2.7M1705.1 369.8h2.7M1730.3 359.7h2.7M1727.4 360.4h2.7M1767.0 346.8h2.7M1708.7 365.3h2.7M1718.6 371.5h2.7M1742.5 357.2h2.7M1711.1 366.9h2.7M1747.0 359.7h2.7M1719.1 384.7h2.7M1752.9 357.7h2.7M1720.8 355.6h2.7M1729.5 355.5h2.7M1730.3 364.6h2.7M1762.0 363.8h2.7M1737.5 353.2h2.7M1725.4 365.2h2.7M1727.4 373.1h2.7M1767.8 322.2h2.7M1749.7 340.8h2.7M1749.0 367.5h2.7M1746.4 347.1h2.7M1751.0 359.5h2.7M1748.0 368.4h2.7M1734.2 360.0h2.7M1710.4 379.1h2.7M1713.3 369.0h2.7M1732.7 359.6h2.7M1759.0 349.8h2.7M1725.5 370.8h2.7M1740.1 345.0h2.7M1760.7 337.1h2.7M1767.6 347.7h2.7M1747.5 367.1h2.7M1762.3 343.3h2.7M1757.7 343.5h2.7M1703.8 377.1h2.7M1762.6 348.2h2.7M1743.4 355.1h2.7M1733.4 356.8h2.7M1738.6 368.7h2.7M1706.6 367.6h2.7M1726.1 359.2h2.7M1714.9 372.0h2.7M1714.2 349.8h2.7M1729.0 367.9h2.7M1724.1 373.9h2.7M1762.0 327.4h2.7M1764.8 334.0h2.7M1710.2 376.4h2.7M1764.2 335.9h2.7M1725.9 349.1h2.7M1704.9 373.1h2.7M1760.6 354.3h2.7M1714.4 370.8h2.7M1705.6 376.2h2.7M1721.0 369.4h2.7M1753.0 331.8h2.7M1763.7 342.0h2.7M1727.0 357.1h2.7M1723.5 359.7h2.7M1702.9 357.6h2.7M1737.7 352.7h2.7M1721.6 358.7h2.7M1732.8 345.0h2.7M1730.6 366.2h2.7M1767.3 344.5h2.7M1744.2 348.6h2.7M1752.9 353.2h2.7M1749.8 363.5h2.7M1724.3 348.4h2.7M1754.9 355.5h2.7M1737.9 348.4h2.7M1764.8 351.6h2.7M1731.5 352.9h2.7M1739.2 372.4h2.7M1758.0 354.9h2.7M1714.4 369.4h2.7M1729.0 370.9h2.7M1710.1 344.5h2.7M1749.9 367.0h2.7M1739.9 349.6h2.7M1724.1 359.6h2.7M1708.2 373.7h2.7M1707.0 355.3h2.7M1738.8 338.0h2.7M1717.8 372.3h2.7M1734.3 357.1h2.7M1714.1 367.5h2.7M1743.6 374.2h2.7M1765.3 339.4h2.7M1736.7 368.3h2.7M1747.7 356.2h2.7M1732.1 357.9h2.7M1756.0 351.1h2.7M1756.6 352.1h2.7M1705.6 374.2h2.7M1722.2 364.7h2.7M1717.6 374.2h2.7M1760.4 358.2h2.7M1735.6 356.9h2.7M1708.1 368.3h2.7M1710.9 365.1h2.7M1712.4 361.4h2.7M1758.2 356.1h2.7M1753.9 340.7h2.7M1714.3 369.0h2.7M1763.3 354.5h2.7M1735.4 370.9h2.7M1749.1 352.8h2.7M1760.8 312.5h2.7M1755.6 353.7h2.7M1747.2 351.8h2.7M1715.5 371.1h2.7M1757.7 350.9h2.7M1751.3 351.1h2.7M1711.3 370.2h2.7M1714.9 345.4h2.7M1756.6 351.4h2.7M1727.5 344.6h2.7M1739.3 363.3h2.7M1716.1 376.4h2.7M1746.4 350.4h2.7M1753.4 343.7h2.7M1740.6 354.5h2.7M1714.0 378.9h2.7M1731.7 338.1h2.7M1735.3 352.1h2.7M1709.5 367.4h2.7M1743.1 352.3h2.7M1711.9 363.6h2.7M1751.0 356.8h2.7M1723.1 369.1h2.7M1720.6 373.8h2.7M1711.2 370.8h2.7M1712.6 371.6h2.7M1746.1 359.8h2.7M1714.0 364.5h2.7M1758.6 346.0h2.7M1737.6 349.1h2.7M1743.8 354.3h2.7M1716.8 365.6h2.7M1740.1 345.7h2.7M1738.3 325.8h2.7M1711.1 367.9h2.7M1747.2 356.2h2.7M1757.2 350.6h2.7M1706.7 370.7h2.7M1756.8 344.2h2.7M1763.3 353.2h2.7M1755.8 329.8h2.7M1703.4 360.2h2.7M1723.8 362.1h2.7M1735.2 353.2h2.7M1705.5 364.8h2.7M1747.2 355.3h2.7M1725.5 352.5h2.7M1735.0 365.0h2.7M1752.3 361.1h2.7M1713.9 370.1h2.7M1754.9 357.9h2.7M1767.2 353.2h2.7M1732.9 360.6h2.7M1726.1 367.6h2.7M1743.8 357.2h2.7M1767.3 292.2h2.7M1744.7 356.5h2.7M1753.1 358.8h2.7M1758.8 360.7h2.7M1745.3 351.4h2.7M1718.8 360.1h2.7M1736.9 357.0h2.7M1744.2 350.3h2.7M1713.5 371.7h2.7M1730.0 357.7h2.7M1734.5 353.5h2.7M1733.4 356.7h2.7M1736.6 352.5h2.7M1739.5 343.7h2.7M1765.5 327.8h2.7M1708.3 371.8h2.7M1736.7 359.8h2.7M1707.5 362.9h2.7M1747.8 357.9h2.7M1717.6 370.7h2.7M1767.5 359.3h2.7M1718.6 369.2h2.7M1764.2 348.4h2.7M1709.9 376.4h2.7M1731.1 354.6h2.7M1753.7 349.7h2.7M1709.8 366.5h2.7M1765.8 334.2h2.7M1713.3 374.8h2.7M1739.4 349.6h2.7M1723.6 360.4h2.7M1767.8 352.7h2.7M1724.1 360.7h2.7M1722.2 360.2h2.7M1747.8 345.6h2.7M1725.6 362.6h2.7M1754.1 347.6h2.7M1722.0 366.2h2.7M1765.9 318.8h2.7M1738.6 339.3h2.7M1752.4 342.4h2.7M1733.7 340.7h2.7M1714.1 361.3h2.7M1748.0 335.5h2.7M1703.8 371.4h2.7M1765.3 326.6h2.7M1710.1 373.6h2.7M1704.5 378.8h2.7M1761.6 351.1h2.7M1754.4 340.3h2.7M1743.3 358.1h2.7M1712.3 361.2h2.7M1744.7 333.6h2.7M1749.4 355.6h2.7M1726.1 305.8h2.7M1706.7 366.8h2.7M1705.4 385.2h2.7M1731.7 374.1h2.7M1726.2 362.1h2.7M1725.4 365.0h2.7M1767.9 315.6h2.7M1766.5 338.5h2.7M1713.3 354.4h2.7M1732.8 367.6h2.7M1753.8 350.8h2.7M1716.9 361.3h2.7M1743.7 369.2h2.7M1707.5 358.4h2.7M1765.3 329.4h2.7M1718.2 371.8h2.7M1759.4 362.3h2.7M1711.4 367.1h2.7M1747.9 350.0h2.7M1726.0 364.4h2.7M1744.3 360.5h2.7M1720.4 373.8h2.7M1764.7 339.6h2.7M1715.1 366.1h2.7M1714.1 369.3h2.7M1748.1 334.1h2.7M1760.7 336.0h2.7M1716.9 368.9h2.7M1766.5 359.1h2.7M1720.0 350.8h2.7M1762.3 353.8h2.7M1757.2 340.2h2.7M1752.0 345.1h2.7M1767.2 326.9h2.7M1728.7 372.3h2.7M1749.6 357.8h2.7M1728.1 365.8h2.7M1743.5 351.3h2.7M1724.1 362.8h2.7M1752.2 354.5h2.7M1713.0 356.4h2.7M1725.8 373.2h2.7M1709.0 367.4h2.7M1766.6 336.6h2.7M1755.3 348.6h2.7M1739.1 357.5h2.7M1732.3 374.4h2.7M1757.3 355.4h2.7M1711.4 358.8h2.7M1733.3 362.1h2.7M1712.4 367.2h2.7M1720.9 359.0h2.7M1738.1 358.5h2.7M1709.8 362.1h2.7M1707.1 362.2h2.7M1732.1 365.4h2.7M1705.4 371.9h2.7M1732.3 349.6h2.7M1748.6 365.9h2.7M1706.9 374.1h2.7M1721.7 365.7h2.7M1729.9 350.5h2.7M1706.1 367.8h2.7M1744.9 340.6h2.7M1715.5 368.8h2.7M1755.1 349.8h2.7M1719.7 365.8h2.7M1718.4 363.1h2.7M1762.9 362.2h2.7M1734.6 357.8h2.7M1719.9 370.5h2.7M1722.7 355.4h2.7M1736.2 349.3h2.7M1710.1 367.2h2.7M1733.8 376.2h2.7M1759.6 352.4h2.7M1761.0 355.5h2.7M1758.0 345.6h2.7M1710.3 370.2h2.7M1755.7 347.2h2.7M1751.3 345.7h2.7M1757.3 352.1h2.7M1748.2 363.0h2.7M1755.2 353.2h2.7M1733.5 337.0h2.7M1726.6 368.6h2.7M1737.8 373.6h2.7M1758.4 337.7h2.7M1728.7 366.6h2.7M1746.0 347.7h2.7M1746.1 362.5h2.7M1746.5 362.0h2.7M1702.9 380.3h2.7M1750.3 350.3h2.7M1755.8 345.9h2.7M1765.9 313.3h2.7M1743.1 353.0h2.7M1714.8 371.1h2.7M1716.8 379.8h2.7M1725.4 366.6h2.7M1763.6 344.4h2.7M1704.5 372.2h2.7M1767.8 361.7h2.7M1758.9 348.3h2.7M1722.4 344.3h2.7M1763.5 344.0h2.7M1728.7 362.5h2.7M1764.0 347.4h2.7M1742.5 339.5h2.7M1714.3 380.0h2.7M1737.5 360.1h2.7M1737.8 357.3h2.7M1718.1 360.9h2.7M1722.4 380.0h2.7M1720.3 361.2h2.7M1717.5 366.8h2.7M1718.0 381.1h2.7M1722.1 366.6h2.7M1708.6 367.5h2.7M1738.6 357.7h2.7M1755.2 341.8h2.7M1734.0 370.7h2.7M1751.1 357.6h2.7M1762.8 340.9h2.7M1751.0 353.0h2.7M1704.2 366.2h2.7M1711.0 363.9h2.7M1712.5 366.0h2.7M1754.0 328.2h2.7M1735.3 372.0h2.7M1741.2 361.4h2.7M1707.6 373.8h2.7M1733.3 358.7h2.7M1766.5 341.3h2.7M1819.4 291.2h2.7M1826.9 315.9h2.7M1811.4 294.6h2.7M1852.8 206.5h2.7M1817.1 298.4h2.7M1851.5 316.0h2.7M1765.8 330.0h2.7M1784.9 345.0h2.7M1813.3 332.4h2.7M1857.9 317.7h2.7M1817.7 326.5h2.7M1787.8 313.2h2.7M1765.9 347.7h2.7M1804.4 334.8h2.7M1804.6 315.1h2.7M1770.6 322.9h2.7M1791.1 339.9h2.7M1816.2 333.0h2.7M1841.3 309.4h2.7M1807.3 281.3h2.7M1830.1 323.5h2.7M1779.2 352.3h2.7M1841.6 350.6h2.7M1767.8 345.7h2.7M1827.4 305.5h2.7M1848.7 304.7h2.7M1815.6 342.7h2.7M1833.7 339.1h2.7M1778.6 348.5h2.7M1808.8 325.8h2.7M1817.6 320.7h2.7M1851.4 236.4h2.7M1832.6 277.7h2.7M1849.0 239.2h2.7M1820.9 319.2h2.7M1809.1 344.2h2.7M1796.0 317.9h2.7M1840.2 321.4h2.7M1813.0 324.2h2.7M1831.6 275.6h2.7M1831.6 337.8h2.7M1787.0 324.3h2.7M1771.7 343.7h2.7M1812.3 292.2h2.7M1836.1 284.3h2.7M1805.9 306.6h2.7M1810.1 333.3h2.7M1789.0 314.1h2.7M1775.5 323.6h2.7M1777.8 347.2h2.7M1857.5 220.7h2.7M1784.4 333.3h2.7M1819.3 225.5h2.7M1840.0 247.0h2.7M1787.3 334.4h2.7M1857.8 278.6h2.7M1856.5 283.2h2.7M1825.8 305.2h2.7M1792.5 305.4h2.7M1838.0 307.0h2.7M1848.9 280.8h2.7M1795.4 313.4h2.7M1776.1 313.7h2.7M1821.7 322.7h2.7M1855.2 277.4h2.7M1830.1 237.6h2.7M1825.5 288.6h2.7M1842.6 291.6h2.7M1793.7 341.2h2.7M1780.1 321.0h2.7M1818.6 355.0h2.7M1827.5 271.7h2.7M1805.9 325.9h2.7M1790.6 321.7h2.7M1781.9 338.6h2.7M1845.3 271.1h2.7M1814.4 313.9h2.7M1786.3 338.0h2.7M1827.8 302.9h2.7M1770.8 346.0h2.7M1830.4 292.2h2.7M1784.5 340.5h2.7M1817.9 316.3h2.7M1796.5 316.4h2.7M1792.0 337.9h2.7M1847.0 254.1h2.7M1810.2 309.0h2.7M1791.5 319.4h2.7M1766.4 327.6h2.7M1764.5 350.4h2.7M1788.4 313.3h2.7M1831.8 330.3h2.7M1820.2 294.6h2.7M1831.8 267.9h2.7M1830.2 317.6h2.7M1817.0 266.1h2.7M1814.3 294.2h2.7M1767.4 346.5h2.7M1854.5 315.4h2.7M1803.6 358.8h2.7M1852.7 273.0h2.7M1837.5 322.7h2.7M1834.2 291.1h2.7M1849.7 325.6h2.7M1817.5 304.5h2.7M1816.5 310.7h2.7M1788.1 317.2h2.7M1858.0 256.3h2.7M1783.1 334.9h2.7M1841.9 305.6h2.7M1773.8 354.3h2.7M1828.2 307.2h2.7M1832.2 334.9h2.7M1821.0 259.8h2.7M1847.2 279.9h2.7M1779.7 368.6h2.7M1857.3 205.3h2.7M1842.0 285.0h2.7M1847.6 303.3h2.7M1842.5 272.9h2.7M1841.7 217.6h2.7M1851.5 275.1h2.7M1779.9 343.6h2.7M1840.9 282.7h2.7M1839.3 271.6h2.7M1843.3 315.0h2.7M1830.4 287.5h2.7M1859.1 298.2h2.7M1786.6 346.2h2.7M1781.6 357.0h2.7M1784.9 352.6h2.7M1835.0 325.2h2.7M1814.1 333.4h2.7M1803.1 293.3h2.7M1827.1 304.3h2.7M1848.8 238.1h2.7M1779.0 343.9h2.7M1846.0 341.0h2.7M1854.2 235.8h2.7M1772.2 338.2h2.7M1828.4 303.6h2.7M1810.8 332.1h2.7M1820.5 326.4h2.7M1772.7 335.5h2.7M1785.6 300.1h2.7M1774.5 365.8h2.7M1853.4 339.1h2.7M1848.2 290.0h2.7M1778.6 342.1h2.7M1819.5 349.1h2.7M1766.5 351.9h2.7M1823.6 265.7h2.7M1772.2 330.2h2.7M1810.3 309.7h2.7M1840.1 354.2h2.7M1838.7 308.6h2.7M1815.6 278.3h2.7M1811.1 336.9h2.7M1799.9 337.9h2.7M1836.8 336.0h2.7M1852.5 337.0h2.7M1840.4 267.3h2.7M1811.3 299.9h2.7M1839.4 280.1h2.7M1764.6 352.3h2.7M1847.1 260.6h2.7M1821.3 315.3h2.7M1800.6 345.2h2.7M1830.0 277.3h2.7M1850.1 308.7h2.7M1806.8 300.1h2.7M1858.2 334.9h2.7M1856.6 289.0h2.7M1766.4 345.1h2.7M1811.3 328.8h2.7M1824.1 277.1h2.7M1797.0 345.6h2.7M1778.2 344.3h2.7M1788.1 304.1h2.7M1815.5 327.0h2.7M1840.9 268.2h2.7M1802.0 350.3h2.7M1815.4 319.5h2.7M1852.3 275.2h2.7M1771.3 363.0h2.7M1793.4 297.2h2.7M1851.1 268.4h2.7M1806.5 320.0h2.7M1824.6 294.4h2.7M1842.2 340.3h2.7M1781.4 332.4h2.7M1808.4 320.8h2.7M1797.1 313.2h2.7M1859.0 276.1h2.7M1856.7 338.8h2.7M1834.5 205.3h2.7M1766.8 354.1h2.7M1790.3 339.8h2.7M1832.5 296.0h2.7M1764.2 331.4h2.7M1794.4 332.8h2.7M1772.9 334.9h2.7M1802.6 268.2h2.7M1788.3 308.4h2.7M1798.8 283.9h2.7M1781.8 323.9h2.7M1770.9 365.0h2.7M1851.7 226.9h2.7M1808.4 327.7h2.7M1850.3 292.9h2.7M1836.0 298.5h2.7M1779.0 297.2h2.7M1809.9 325.8h2.7M1787.7 306.2h2.7M1815.8 315.8h2.7M1774.5 339.3h2.7M1839.3 324.4h2.7M1826.9 297.2h2.7M1788.1 326.1h2.7M1835.7 271.1h2.7M1833.8 331.8h2.7M1788.1 327.0h2.7M1854.6 314.7h2.7M1799.0 351.0h2.7M1819.1 320.4h2.7M1836.6 327.5h2.7M1789.7 329.0h2.7M1813.1 335.1h2.7M1777.4 365.0h2.7M1766.5 324.1h2.7M1781.7 359.5h2.7M1829.5 314.7h2.7M1829.5 311.7h2.7M1778.3 360.0h2.7M1812.3 315.5h2.7M1857.1 324.2h2.7M1823.4 301.5h2.7M1767.2 378.9h2.7M1826.3 328.4h2.7M1792.2 303.0h2.7M1853.1 308.1h2.7M1845.0 317.0h2.7M1814.5 328.6h2.7M1794.3 323.2h2.7M1858.5 292.4h2.7M1796.2 350.7h2.7M1793.4 319.6h2.7M1821.9 253.2h2.7M1773.7 330.3h2.7M1847.4 252.4h2.7M1835.6 331.5h2.7M1781.5 343.7h2.7M1835.1 304.3h2.7M1839.2 289.3h2.7M1772.3 323.6h2.7M1827.7 309.7h2.7M1822.4 319.1h2.7M1847.9 257.8h2.7M1789.8 284.4h2.7M1765.2 319.2h2.7M1782.1 320.8h2.7M1846.1 301.6h2.7M1842.0 289.8h2.7M1795.0 328.0h2.7M1792.6 329.5h2.7M1807.9 345.8h2.7M1771.4 343.2h2.7M1763.9 333.5h2.7M1833.0 319.0h2.7M1849.5 322.8h2.7M1784.8 351.1h2.7M1783.9 374.8h2.7M1785.8 344.8h2.7M1798.1 339.0h2.7M1790.6 310.7h2.7M1808.1 321.3h2.7M1771.9 339.4h2.7M1843.1 303.0h2.7M1786.6 334.2h2.7M1797.5 321.4h2.7M1855.3 299.7h2.7M1835.0 280.5h2.7M1785.7 333.1h2.7M1845.8 347.7h2.7M1767.5 339.9h2.7M1839.8 335.9h2.7M1819.1 281.1h2.7M1819.3 288.3h2.7M1810.2 317.7h2.7M1799.7 338.3h2.7M1824.2 228.2h2.7M1848.7 333.0h2.7M1788.8 351.4h2.7M1807.8 307.3h2.7M1799.7 281.8h2.7M1848.0 258.4h2.7M1851.6 307.2h2.7M1857.3 231.3h2.7M1855.1 280.5h2.7M1793.4 337.4h2.7M1848.2 275.5h2.7M1817.7 337.7h2.7M1849.7 308.1h2.7M1813.2 338.3h2.7M1795.8 335.2h2.7M1856.6 302.1h2.7M1772.2 357.3h2.7M1824.9 278.4h2.7M1783.9 330.7h2.7M1801.2 322.4h2.7M1805.6 305.7h2.7M1775.1 342.4h2.7M1773.4 310.4h2.7M1844.8 307.9h2.7M1837.7 287.7h2.7M1799.7 326.8h2.7M1780.7 338.0h2.7M1853.5 313.5h2.7M1820.2 311.8h2.7M1772.2 321.3h2.7M1824.2 261.0h2.7M1794.2 318.3h2.7M1806.4 334.5h2.7M1838.9 282.9h2.7M1857.8 299.6h2.7M1783.8 338.8h2.7M1817.5 281.8h2.7M1815.4 348.3h2.7M1787.7 327.0h2.7M1805.3 340.8h2.7M1788.0 362.4h2.7M1797.7 342.0h2.7M1812.8 314.2h2.7M1853.8 278.1h2.7M1848.9 217.9h2.7M1810.5 325.5h2.7M1816.3 305.4h2.7M1844.7 307.5h2.7M1843.1 277.7h2.7M1778.7 362.8h2.7M1812.6 331.7h2.7M1791.7 344.6h2.7M1827.8 319.3h2.7M1840.0 279.7h2.7M1775.5 364.9h2.7M1789.5 345.2h2.7M1849.3 320.2h2.7M1805.8 313.9h2.7M1768.3 342.9h2.7M1815.2 318.8h2.7M1850.8 279.2h2.7M1769.8 359.1h2.7M1829.2 262.4h2.7M1784.6 313.9h2.7M1842.6 301.1h2.7M1804.1 350.4h2.7M1769.3 370.6h2.7M1818.1 354.6h2.7M1821.3 340.9h2.7M1788.7 316.1h2.7M1779.4 320.2h2.7M1797.3 314.3h2.7M1783.3 339.8h2.7M1827.9 350.0h2.7M1795.0 330.2h2.7M1836.4 354.2h2.7M1851.8 224.9h2.7M1782.2 350.5h2.7M1808.7 300.2h2.7M1820.4 317.5h2.7M1825.9 320.8h2.7M1842.6 311.6h2.7M1787.8 325.6h2.7M1821.9 298.7h2.7M1792.5 321.0h2.7M1829.7 306.6h2.7M1777.8 359.2h2.7M1797.5 232.3h2.7M1807.8 288.7h2.7M1844.0 292.2h2.7M1777.4 325.5h2.7M1800.8 335.3h2.7M1794.6 349.8h2.7M1775.9 345.7h2.7M1780.6 301.5h2.7M1858.8 269.0h2.7M1763.9 355.0h2.7M1842.7 245.1h2.7M1811.8 308.8h2.7M1803.2 327.3h2.7M1835.6 302.5h2.7M1844.3 267.4h2.7M1844.2 287.0h2.7M1782.5 314.4h2.7M1858.6 225.5h2.7M1858.4 273.9h2.7M1764.6 338.6h2.7M1775.0 359.8h2.7M1836.1 219.1h2.7M1781.0 354.3h2.7M1778.7 325.2h2.7M1769.1 339.7h2.7M1767.2 331.9h2.7M1857.1 240.8h2.7M1805.2 326.5h2.7M1816.7 302.0h2.7M1851.9 310.3h2.7M1855.4 289.5h2.7M1855.3 235.5h2.7M1792.8 303.9h2.7M1828.0 308.1h2.7M1772.8 360.0h2.7M1783.3 318.8h2.7M1856.7 310.3h2.7M1838.3 273.9h2.7M1793.6 339.2h2.7M1838.0 333.6h2.7M1794.1 342.7h2.7M1806.5 293.6h2.7M1809.0 348.7h2.7M1777.3 351.7h2.7M1784.0 319.2h2.7M1783.4 319.4h2.7M1852.9 275.7h2.7M1837.3 265.9h2.7M1790.8 318.7h2.7M1831.2 294.3h2.7M1797.1 315.9h2.7M1792.7 334.5h2.7M1811.1 327.8h2.7M1773.5 329.6h2.7M1812.1 318.2h2.7M1858.0 307.5h2.7M1823.3 324.7h2.7M1790.3 317.0h2.7M1772.7 360.8h2.7M1839.9 290.1h2.7M1771.1 297.7h2.7M1798.2 318.3h2.7M1833.2 285.6h2.7M1780.6 348.0h2.7M1838.5 307.6h2.7M1763.7 327.3h2.7M1819.5 327.3h2.7M1782.1 333.0h2.7M1852.5 262.3h2.7M1794.1 339.4h2.7M1796.1 339.0h2.7M1855.7 254.4h2.7M1765.2 358.5h2.7M1822.2 285.3h2.7M1795.6 332.6h2.7M1778.0 356.3h2.7M1851.0 273.5h2.7M1852.8 229.7h2.7M1779.9 337.9h2.7M1796.9 356.8h2.7M1851.6 260.2h2.7M1857.5 248.0h2.7M1814.0 298.7h2.7M1825.8 324.9h2.7M1810.2 327.9h2.7M1832.6 337.3h2.7M1836.5 289.9h2.7M1839.8 249.3h2.7M1835.2 284.5h2.7M1765.0 326.1h2.7M1856.8 294.9h2.7M1821.4 325.5h2.7M1793.6 357.1h2.7M1845.9 307.9h2.7M1857.9 300.1h2.7M1778.1 294.2h2.7M1857.1 266.6h2.7M1782.4 310.0h2.7M1794.6 316.9h2.7M1764.8 374.3h2.7M1838.4 307.6h2.7M1777.8 362.3h2.7M1797.2 328.2h2.7M1779.9 350.1h2.7M1809.5 310.9h2.7M1778.6 326.9h2.7M1783.9 319.7h2.7M1796.1 315.1h2.7M1777.0 332.9h2.7M1770.4 327.5h2.7M1792.1 293.7h2.7M1775.3 333.9h2.7M1808.6 295.5h2.7M1857.0 239.6h2.7M1831.2 288.0h2.7M1779.5 333.2h2.7M1848.5 236.5h2.7M1837.5 272.5h2.7M1843.6 317.0h2.7M1797.4 317.6h2.7M1826.2 340.7h2.7M1805.6 318.7h2.7M1844.5 309.6h2.7M1804.1 332.7h2.7M1785.9 330.0h2.7M1802.1 327.8h2.7M1804.8 330.4h2.7M1828.1 313.6h2.7M1776.4 343.9h2.7M1770.7 328.6h2.7M1859.5 205.3h2.7M1829.4 282.4h2.7M1852.8 313.6h2.7M1806.4 335.7h2.7M1816.3 322.1h2.7M1819.8 299.1h2.7M1839.8 217.3h2.7M1821.6 319.1h2.7M1783.2 346.4h2.7M1846.1 297.1h2.7M1836.1 315.4h2.7M1848.9 268.6h2.7M1805.5 289.0h2.7M1804.1 307.0h2.7M1774.9 334.7h2.7M1781.9 346.9h2.7M1814.3 316.5h2.7M1806.8 299.5h2.7M1852.9 309.8h2.7M1843.4 308.6h2.7M1852.6 279.2h2.7M1840.9 298.6h2.7M1838.0 308.0h2.7M1826.8 340.5h2.7M1783.5 300.9h2.7M1786.7 347.5h2.7M1814.8 309.6h2.7M1823.7 292.2h2.7M1777.1 312.7h2.7M1822.7 309.3h2.7M1850.7 258.5h2.7M1775.1 339.6h2.7M1851.3 280.3h2.7M1808.9 331.4h2.7M1829.7 324.7h2.7M1815.4 332.5h2.7M1783.8 326.0h2.7M1812.4 312.7h2.7M1777.4 329.2h2.7M1764.8 355.1h2.7M1825.6 327.8h2.7M1806.4 348.0h2.7M1851.4 314.3h2.7M1839.9 342.1h2.7M1789.9 343.6h2.7M1824.2 302.5h2.7M1800.8 342.8h2.7M1780.5 334.4h2.7M1820.2 316.1h2.7M1776.0 355.7h2.7M1822.6 330.9h2.7M1843.1 316.2h2.7M1853.9 280.8h2.7M1853.7 319.8h2.7M1817.7 329.1h2.7M1794.5 331.0h2.7M1798.5 328.6h2.7M1781.2 322.6h2.7M1773.6 357.8h2.7M1840.7 305.6h2.7M1833.2 234.7h2.7M1774.2 356.8h2.7M1826.8 297.8h2.7M1776.8 344.2h2.7M1765.6 327.5h2.7M1848.0 205.3h2.7M1777.3 332.1h2.7M1846.6 290.1h2.7M1794.6 344.9h2.7M1804.0 331.6h2.7M1824.6 300.8h2.7M1803.9 326.2h2.7M1832.1 294.2h2.7M1790.5 354.7h2.7M1766.2 343.5h2.7M1849.5 243.6h2.7M1820.1 330.4h2.7M1835.6 314.3h2.7M1856.7 319.4h2.7M1814.5 310.9h2.7M1788.0 327.4h2.7M1803.9 327.9h2.7M1852.3 310.1h2.7M1783.6 344.2h2.7M1799.3 326.8h2.7M1823.1 341.8h2.7M1854.8 299.5h2.7M1823.3 294.8h2.7M1852.8 300.5h2.7M1843.1 337.2h2.7M1765.7 353.8h2.7M1829.0 319.5h2.7M1839.2 290.6h2.7M1799.3 338.2h2.7M1778.7 325.8h2.7M1817.2 342.3h2.7M1816.2 317.5h2.7M1780.9 355.6h2.7M1817.6 338.3h2.7M1783.5 336.2h2.7M1827.3 298.5h2.7M1841.6 296.2h2.7M1805.1 307.3h2.7M1790.8 331.3h2.7M1788.5 346.6h2.7M1802.5 300.4h2.7M1774.8 360.2h2.7M1777.0 312.1h2.7M1826.4 295.4h2.7M1779.6 346.0h2.7M1768.3 305.9h2.7M1833.8 281.6h2.7M1794.2 351.8h2.7M1834.6 266.1h2.7M1821.3 232.0h2.7M1827.3 332.8h2.7M1810.4 298.7h2.7M1804.2 303.9h2.7M1828.8 323.3h2.7M1782.7 336.0h2.7M1835.5 335.0h2.7M1782.1 349.9h2.7M1806.4 311.2h2.7M1797.1 319.0h2.7M1790.0 323.3h2.7M1812.8 320.6h2.7M1772.5 337.2h2.7M1845.8 299.9h2.7M1793.9 335.4h2.7M1823.7 301.2h2.7M1770.5 353.5h2.7M1790.0 350.7h2.7M1825.9 310.7h2.7M1851.2 296.8h2.7M1847.6 267.9h2.7M1796.5 362.4h2.7M1776.0 369.1h2.7M1828.8 279.1h2.7M1774.1 342.5h2.7M1807.8 353.3h2.7M1839.3 316.1h2.7M1818.3 303.3h2.7M1777.8 366.8h2.7M1781.7 350.9h2.7M1792.1 340.0h2.7M1763.6 383.0h2.7M1802.8 293.9h2.7M1784.2 351.7h2.7M1766.1 328.8h2.7M1779.9 354.0h2.7M1830.3 308.4h2.7M1776.0 296.8h2.7M1835.6 274.6h2.7M1825.4 321.1h2.7M1806.3 331.2h2.7M1811.6 338.8h2.7M1771.2 331.3h2.7M1800.9 330.1h2.7M1840.9 267.0h2.7M1806.9 328.1h2.7M1844.2 306.2h2.7M1784.4 335.5h2.7M1796.0 320.9h2.7M1849.4 287.9h2.7M1843.6 281.0h2.7M1797.0 341.8h2.7M1853.6 249.3h2.7M1798.5 319.6h2.7M1835.0 330.0h2.7M1856.3 348.1h2.7M1821.8 278.8h2.7M1783.4 348.1h2.7M1812.4 323.5h2.7M1840.5 215.6h2.7M1773.4 355.8h2.7M1837.6 326.1h2.7M1777.6 347.5h2.7M1804.5 328.0h2.7M1813.0 297.1h2.7M1774.3 348.8h2.7M1830.8 305.9h2.7M1838.6 297.2h2.7M1854.1 285.1h2.7M1808.0 342.1h2.7M1836.1 274.7h2.7M1809.7 309.4h2.7M1780.2 353.2h2.7M1777.0 336.8h2.7M1820.1 323.6h2.7M1814.9 311.4h2.7M1785.3 349.0h2.7M1832.5 311.9h2.7M1821.0 287.8h2.7M1836.4 298.9h2.7M1795.9 323.3h2.7M1852.4 333.5h2.7M1835.7 324.4h2.7M1771.9 334.6h2.7M1791.8 333.9h2.7M1838.9 235.4h2.7M1824.1 307.7h2.7M1825.0 332.4h2.7M1797.8 298.6h2.7M1847.8 286.3h2.7M1811.3 298.3h2.7M1788.0 343.9h2.7M1778.9 352.2h2.7M1774.2 336.1h2.7M1793.6 289.5h2.7M1804.0 333.6h2.7M1786.1 350.1h2.7M1823.0 310.4h2.7M1790.5 352.7h2.7M1790.5 352.1h2.7M1784.8 355.0h2.7M1848.2 304.0h2.7M1841.6 322.9h2.7M1839.2 288.9h2.7M1818.8 295.2h2.7M1774.7 329.9h2.7M1827.9 299.6h2.7M1768.8 364.3h2.7M1802.5 285.8h2.7M1835.8 295.2h2.7M1782.9 338.4h2.7M1777.5 345.9h2.7M1852.5 275.8h2.7M1853.3 233.1h2.7M1837.2 323.4h2.7M1802.2 318.2h2.7M1778.5 335.3h2.7M1836.9 327.0h2.7M1809.6 318.1h2.7M1775.0 327.9h2.7M1832.6 325.8h2.7M1857.2 281.2h2.7M1798.6 335.4h2.7M1790.3 320.8h2.7M1787.4 351.5h2.7M1808.7 321.9h2.7M1843.8 314.1h2.7M1812.7 288.9h2.7M1854.5 330.9h2.7M1798.2 350.2h2.7M1782.1 328.4h2.7M1774.5 304.8h2.7M1791.5 327.4h2.7M1831.1 311.3h2.7M1801.3 316.0h2.7M1846.1 205.3h2.7M1770.6 326.9h2.7M1854.4 295.8h2.7M1768.9 331.2h2.7M1810.5 329.4h2.7M1830.8 309.1h2.7M1812.9 292.7h2.7M1847.2 337.3h2.7M1805.7 338.3h2.7M1802.7 295.6h2.7M1807.3 321.0h2.7M1773.5 332.7h2.7M1824.4 228.7h2.7M1789.2 357.0h2.7M1783.3 329.2h2.7M1842.4 287.1h2.7M1796.8 336.7h2.7M1830.8 290.7h2.7M1782.0 333.9h2.7M1852.5 287.3h2.7M1802.9 344.7h2.7M1786.4 326.8h2.7M1851.5 318.9h2.7M1847.3 294.2h2.7M1827.0 300.5h2.7M1792.3 338.9h2.7M1784.0 349.4h2.7M1849.7 289.6h2.7M1783.7 349.6h2.7M1794.1 315.7h2.7M1831.6 341.4h2.7M1797.4 326.0h2.7M1843.9 277.2h2.7M1853.5 308.9h2.7M1847.2 247.1h2.7M1785.6 324.0h2.7M1842.4 310.7h2.7M1799.8 275.3h2.7M1800.0 339.4h2.7M1764.8 360.3h2.7M1792.0 346.7h2.7M1851.5 314.9h2.7M1785.2 323.7h2.7M1833.8 315.3h2.7M1853.8 288.1h2.7M1790.2 309.4h2.7M1803.9 293.2h2.7M1840.9 323.4h2.7M1832.6 286.4h2.7M1847.5 282.1h2.7M1896.3 231.5h2.7M1868.3 266.8h2.7M1885.7 296.8h2.7M1862.5 288.1h2.7M1877.9 222.2h2.7M1873.3 285.8h2.7M1865.7 199.8h2.7M1898.4 257.2h2.7M1925.2 240.0h2.7M1920.0 234.4h2.7M1861.4 269.6h2.7M1929.9 154.8h2.7M1905.3 227.2h2.7M1911.5 287.3h2.7M1894.9 236.6h2.7M1919.9 197.6h2.7M1897.4 227.7h2.7M1890.7 289.2h2.7M1938.0 254.6h2.7M1873.5 265.9h2.7M1924.7 236.1h2.7M1864.0 291.0h2.7M1933.0 157.6h2.7M1866.5 334.1h2.7M1896.9 257.2h2.7M1917.0 154.8h2.7M1876.6 270.5h2.7M1883.0 320.6h2.7M1939.0 246.9h2.7M1927.7 214.2h2.7M1916.0 296.0h2.7M1929.7 216.8h2.7M1874.5 294.6h2.7M1890.0 213.4h2.7M1924.7 241.6h2.7M1880.4 288.1h2.7M1939.8 305.2h2.7M1904.1 270.1h2.7M1927.9 247.0h2.7M1873.3 200.6h2.7M1899.9 164.1h2.7M1894.7 209.8h2.7M1913.9 154.8h2.7M1929.1 271.1h2.7M1898.9 211.3h2.7M1863.1 218.1h2.7M1885.8 254.2h2.7M1927.2 222.7h2.7M1904.3 306.3h2.7M1875.8 316.3h2.7M1877.2 297.7h2.7M1895.0 174.1h2.7M1892.2 223.3h2.7M1873.8 290.0h2.7M1873.8 329.4h2.7M1855.8 347.2h2.7M1862.7 323.0h2.7M1923.8 287.8h2.7M1856.3 319.5h2.7M1889.1 154.8h2.7M1939.7 177.9h2.7M1916.1 299.0h2.7M1866.4 312.7h2.7M1939.4 260.8h2.7M1856.2 259.7h2.7M1862.1 258.0h2.7M1898.2 265.0h2.7M1917.2 244.0h2.7M1914.3 286.9h2.7M1926.5 213.7h2.7M1904.5 192.3h2.7M1914.4 250.8h2.7M1876.0 275.0h2.7M1885.8 213.8h2.7M1878.4 306.9h2.7M1903.6 280.7h2.7M1914.6 154.8h2.7M1930.4 248.6h2.7M1922.6 214.0h2.7M1870.7 226.1h2.7M1929.1 290.3h2.7M1904.1 254.2h2.7M1879.1 275.9h2.7M1865.5 226.1h2.7M1860.5 264.8h2.7M1897.5 233.7h2.7M1923.7 200.6h2.7M1939.6 266.6h2.7M1870.5 311.7h2.7M1891.5 242.1h2.7M1887.6 271.1h2.7M1876.0 266.5h2.7M1917.9 204.2h2.7M1884.2 218.3h2.7M1915.7 242.3h2.7M1886.3 259.3h2.7M1939.3 238.8h2.7M1876.4 272.7h2.7M1856.7 316.9h2.7M1901.2 176.3h2.7M1873.6 209.6h2.7M1859.5 326.2h2.7M1910.1 258.0h2.7M1916.2 154.8h2.7M1924.3 191.1h2.7M1919.1 185.7h2.7M1872.7 272.3h2.7M1930.6 233.6h2.7M1873.1 224.6h2.7M1917.7 188.2h2.7M1919.6 189.1h2.7M1886.1 253.2h2.7M1871.4 215.8h2.7M1917.4 221.2h2.7M1859.5 308.7h2.7M1887.1 154.8h2.7M1936.7 213.8h2.7M1905.9 300.2h2.7M1886.1 270.1h2.7M1901.4 307.0h2.7M1880.5 313.2h2.7M1867.8 289.5h2.7M1881.9 260.5h2.7M1898.8 205.9h2.7M1939.6 271.7h2.7M1922.3 154.8h2.7M1883.3 272.6h2.7M1870.5 295.6h2.7M1890.0 315.6h2.7M1925.4 283.4h2.7M1855.4 332.9h2.7M1927.0 198.3h2.7M1927.0 255.3h2.7M1877.7 212.4h2.7M1926.2 297.6h2.7M1863.3 264.1h2.7M1875.6 210.4h2.7M1887.7 154.8h2.7M1869.1 297.7h2.7M1869.6 266.5h2.7M1856.0 328.1h2.7M1937.3 211.2h2.7M1930.9 203.9h2.7M1925.8 162.6h2.7M1935.8 172.8h2.7M1940.3 154.8h2.7M1935.3 273.9h2.7M1889.3 279.5h2.7M1925.3 310.1h2.7M1906.3 193.7h2.7M1934.1 289.6h2.7M1932.7 198.1h2.7M1884.3 282.4h2.7M1897.5 207.3h2.7M1929.7 226.5h2.7M1938.6 278.6h2.7M1864.8 277.9h2.7M1901.1 205.9h2.7M1911.3 258.7h2.7M1925.0 279.1h2.7M1916.2 221.6h2.7M1870.4 290.5h2.7M1860.7 258.3h2.7M1876.0 231.3h2.7M1889.7 312.8h2.7M1865.0 309.3h2.7M1909.0 246.6h2.7M1928.4 257.6h2.7M1925.9 189.1h2.7M1928.5 245.2h2.7M1903.2 112.8h2.7M1891.8 159.0h2.7M1898.8 161.8h2.7M1907.5 161.8h2.7M1926.7 157.6h2.7M1938.1 159.0h2.7M1965.1 153.4h2.7M1970.4 189.9h2.7M1972.1 222.1h2.7M1957.3 196.9h2.7M1957.3 285.2h2.7M1881.4 180.1h2.7M1897.1 317.4h2.7M1955.5 241.7h2.7M1951.2 255.7h2.7" stroke="#0000ff" stroke-width="2.7" fill="none"/>
<path d="M1179.1 392.6 L1240.6 392.6 L1242.4 390.6 L1270.3 390.6 L1272.0 389.6 L1289.5 389.6 L1291.2 388.3 L1560.8 388.3 L1560.8 388.3 L1563.4 386.2 L1566.0 385.0 L1568.7 384.8 L1571.3 384.7 L1573.9 384.7 L1576.5 384.6 L1579.1 384.6 L1581.7 384.5 L1584.4 384.5 L1587.0 384.5 L1589.6 384.5 L1592.2 384.5 L1594.8 384.4 L1597.4 384.4 L1600.1 384.3 L1602.7 384.3 L1605.3 384.2 L1607.9 383.8 L1610.5 382.8 L1613.2 382.1 L1615.8 381.9 L1618.4 381.8 L1621.0 381.6 L1623.6 381.5 L1626.2 381.4 L1628.9 381.4 L1631.5 381.3 L1634.1 381.2 L1636.7 381.1 L1639.3 381.0 L1641.9 380.9 L1644.6 380.8 L1647.2 380.6 L1649.8 380.5 L1652.4 380.4 L1655.0 380.3 L1657.6 380.1 L1660.3 380.0 L1662.9 379.8 L1665.5 379.6 L1668.1 379.4 L1670.7 379.1 L1673.3 378.7 L1676.0 378.3 L1678.6 377.8 L1681.2 377.3 L1683.8 376.8 L1686.4 376.3 L1689.0 375.7 L1691.7 375.1 L1694.3 374.4 L1696.9 373.7 L1699.5 373.0 L1702.1 372.2 L1704.8 371.5 L1707.4 370.7 L1710.0 369.9 L1712.6 369.1 L1715.2 368.2 L1717.8 367.4 L1720.5 366.5 L1723.1 365.6 L1725.7 364.7 L1728.3 363.7 L1730.9 362.7 L1733.5 361.7 L1736.2 360.7 L1738.8 359.7 L1741.4 358.6 L1744.0 357.6 L1746.6 356.5 L1749.2 355.3 L1751.9 354.2 L1754.5 353.0 L1757.1 351.8 L1759.7 350.6 L1762.3 349.4 L1764.9 348.1 L1767.6 346.8 L1770.2 345.5 L1772.8 344.1 L1775.4 342.7 L1778.0 341.3 L1780.7 339.9 L1783.3 338.4 L1785.9 336.9 L1788.5 335.3 L1791.1 333.7 L1793.7 332.1 L1796.4 330.4 L1799.0 328.8 L1801.6 327.0 L1804.2 325.3 L1806.8 323.5 L1809.4 321.7 L1812.1 319.9 L1814.7 318.0 L1817.3 316.1 L1819.9 314.2 L1822.5 312.3 L1825.1 310.3 L1827.8 308.3 L1830.4 306.2 L1833.0 304.0 L1835.6 301.8 L1838.2 299.5 L1840.8 297.2 L1843.5 294.8 L1846.1 292.5 L1848.7 290.1 L1851.3 287.8 L1853.9 285.4 L1856.6 283.0 L1859.2 280.6 L1861.8 278.1 L1864.4 275.6 L1867.0 273.1 L1869.6 270.6 L1872.3 268.0 L1874.9 265.5 L1877.5 262.9 L1880.1 260.4 L1882.7 257.9 L1885.3 255.4 L1888.0 253.0 L1890.6 250.6 L1893.2 248.3 L1895.8 246.0 L1898.4 243.8 L1901.0 241.7 L1903.7 239.6 L1906.3 237.5 L1908.9 235.5 L1911.5 233.5 L1914.1 231.5 L1916.7 229.5 L1919.4 227.5 L1922.0 225.4 L1924.6 223.4 L1927.2 221.3 L1929.8 219.2 L1932.4 217.0 L1935.1 214.8 L1937.7 212.6 L1940.3 210.4 L1942.9 208.2 L1945.5 206.0 L1948.2 203.7 L1950.8 201.4 L1953.4 199.2 L1956.0 196.9 L1958.6 194.6 L1961.2 192.3 L1963.9 189.9 L1966.5 187.6 L1969.1 185.2 L1971.7 182.9 L1974.3 180.5 L1976.9 178.1" stroke="#ff0000" stroke-width="3" fill="none" stroke-linejoin="round"/>
<line x1="1140.6" y1="384.7" x2="2016.8" y2="384.7" stroke="#a8a8a8" stroke-width="2.7"/>
<rect x="1140.6" y="97.0" width="876.2" height="312.0" fill="none" stroke="#333333" stroke-width="1.4"/>
<line x1="1311.3" y1="409.0" x2="1311.3" y2="414.0" stroke="#333333" stroke-width="1.4"/>
<text x="1311.3" y="448.4" font-size="28.8" text-anchor="middle" transform="translate(0 -13.45) scale(1 1.030)" fill="#000">25</text>
<line x1="1529.4" y1="409.0" x2="1529.4" y2="414.0" stroke="#333333" stroke-width="1.4"/>
<text x="1529.4" y="448.4" font-size="28.8" text-anchor="middle" transform="translate(0 -13.45) scale(1 1.030)" fill="#000">50</text>
<line x1="1747.5" y1="409.0" x2="1747.5" y2="414.0" stroke="#333333" stroke-width="1.4"/>
<text x="1747.5" y="448.4" font-size="28.8" text-anchor="middle" transform="translate(0 -13.45) scale(1 1.030)" fill="#000">75</text>
<line x1="1965.6" y1="409.0" x2="1965.6" y2="414.0" stroke="#333333" stroke-width="1.4"/>
<text x="1965.6" y="448.4" font-size="28.8" text-anchor="middle" transform="translate(0 -13.45) scale(1 1.030)" fill="#000">100</text>
<line x1="1135.6" y1="328.6" x2="1140.6" y2="328.6" stroke="#333333" stroke-width="1.4"/>
<text x="1124.3" y="338.9" font-size="28.8" text-anchor="end" transform="translate(0 -10.17) scale(1 1.030)" fill="#000">3</text>
<line x1="1135.6" y1="244.5" x2="1140.6" y2="244.5" stroke="#333333" stroke-width="1.4"/>
<text x="1124.3" y="254.8" font-size="28.8" text-anchor="end" transform="translate(0 -7.64) scale(1 1.030)" fill="#000">6</text>
<line x1="1135.6" y1="160.4" x2="1140.6" y2="160.4" stroke="#333333" stroke-width="1.4"/>
<text x="1124.3" y="170.7" font-size="28.8" text-anchor="end" transform="translate(0 -5.12) scale(1 1.030)" fill="#000">9</text>
<text x="1039.5" y="108.2" font-size="41.0" text-anchor="start" font-weight="bold" fill="#000">b</text>
<text x="1578.7" y="485.9" font-size="28.8" text-anchor="middle" transform="translate(0 -9.72) scale(1 1.020)" fill="#000">Age</text>
<text x="1089.2" y="245.5" font-size="29.3" text-anchor="middle" transform="rotate(-90 1089.2 245.5)" fill="#000">Odds ratio</text>
<line x1="1296.8" y1="536.2" x2="1296.8" y2="849.5" stroke="#efefef" stroke-width="1.2"/>
<line x1="1528.5" y1="536.2" x2="1528.5" y2="849.5" stroke="#efefef" stroke-width="1.2"/>
<line x1="1760.1" y1="536.2" x2="1760.1" y2="849.5" stroke="#efefef" stroke-width="1.2"/>
<line x1="1991.8" y1="536.2" x2="1991.8" y2="849.5" stroke="#efefef" stroke-width="1.2"/>
<line x1="1140.6" y1="824.0" x2="2016.8" y2="824.0" stroke="#efefef" stroke-width="1.2"/>
<line x1="1140.6" y1="734.0" x2="2016.8" y2="734.0" stroke="#efefef" stroke-width="1.2"/>
<line x1="1140.6" y1="644.0" x2="2016.8" y2="644.0" stroke="#efefef" stroke-width="1.2"/>
<line x1="1140.6" y1="554.0" x2="2016.8" y2="554.0" stroke="#efefef" stroke-width="1.2"/>
<line x1="1181.0" y1="536.2" x2="1181.0" y2="849.5" stroke="#ebebeb" stroke-width="1.5"/>
<line x1="1412.7" y1="536.2" x2="1412.7" y2="849.5" stroke="#ebebeb" stroke-width="1.5"/>
<line x1="1644.3" y1="536.2" x2="1644.3" y2="849.5" stroke="#ebebeb" stroke-width="1.5"/>
<line x1="1876.0" y1="536.2" x2="1876.0" y2="849.5" stroke="#ebebeb" stroke-width="1.5"/>
<line x1="1140.6" y1="779.0" x2="2016.8" y2="779.0" stroke="#ebebeb" stroke-width="1.5"/>
<line x1="1140.6" y1="689.0" x2="2016.8" y2="689.0" stroke="#ebebeb" stroke-width="1.5"/>
<line x1="1140.6" y1="599.0" x2="2016.8" y2="599.0" stroke="#ebebeb" stroke-width="1.5"/>
<path d="M1428.9 782.1 L1459.0 783.5 L1505.3 785.3 L1551.6 786.2 L1588.7 785.3 L1612.3 783.5 L1612.3 801.5 L1588.7 805.1 L1551.6 807.4 L1505.3 806.0 L1459.0 805.1 L1428.9 805.1Z" fill="#0000ff"/>
<path d="M1258.1 728.3h2.7M1262.3 669.0h2.7M1200.4 718.7h2.7M1249.4 649.9h2.7M1202.9 678.3h2.7M1253.5 674.0h2.7M1258.2 655.0h2.7M1208.1 726.3h2.7M1255.9 711.8h2.7M1254.8 647.9h2.7M1222.1 665.0h2.7M1210.4 688.0h2.7M1204.5 677.6h2.7M1205.8 695.7h2.7M1197.9 646.0h2.7M1237.4 703.6h2.7M1211.3 663.5h2.7M1229.1 683.0h2.7M1199.1 701.1h2.7M1227.5 658.4h2.7M1210.0 729.6h2.7M1232.2 714.4h2.7M1198.9 724.3h2.7M1228.4 695.6h2.7M1214.0 670.6h2.7M1199.7 707.6h2.7M1229.4 712.0h2.7M1260.8 703.5h2.7M1226.7 648.5h2.7M1231.0 713.0h2.7M1228.1 644.8h2.7M1251.8 706.0h2.7M1201.2 650.7h2.7M1216.3 726.7h2.7M1224.3 665.3h2.7M1221.1 661.7h2.7M1258.9 673.5h2.7M1255.2 681.0h2.7M1202.0 673.0h2.7M1213.4 661.2h2.7M1256.2 692.1h2.7M1243.4 729.6h2.7M1234.7 674.6h2.7M1257.6 727.7h2.7M1209.4 665.5h2.7M1219.5 578.8h2.7M1207.4 720.5h2.7M1227.8 657.5h2.7M1239.9 653.0h2.7M1274.2 572.0h2.7M1286.2 549.5h2.7M1309.4 554.0h2.7M1300.1 578.8h2.7M1309.4 576.5h2.7M1282.5 587.8h2.7M1346.4 590.0h2.7M1324.2 599.0h2.7M1334.4 608.0h2.7M1267.7 617.0h2.7M1294.5 601.2h2.7M1293.1 715.7h2.7M1310.7 600.2h2.7M1274.9 694.6h2.7M1278.2 697.6h2.7M1292.5 691.0h2.7M1301.9 620.7h2.7M1285.1 613.7h2.7M1299.6 700.6h2.7M1265.8 721.5h2.7M1306.6 665.0h2.7M1264.7 710.5h2.7M1289.3 633.9h2.7M1301.3 702.9h2.7M1288.4 708.0h2.7M1298.0 647.3h2.7M1271.1 694.6h2.7M1285.6 729.9h2.7M1270.7 646.8h2.7M1283.2 673.0h2.7M1307.9 669.0h2.7M1268.1 692.1h2.7M1297.8 667.0h2.7M1278.2 664.1h2.7M1271.2 690.6h2.7M1281.3 697.8h2.7M1283.1 719.2h2.7M1291.0 641.9h2.7M1304.5 636.0h2.7M1300.2 675.6h2.7M1293.6 699.5h2.7M1265.7 713.0h2.7M1306.9 634.7h2.7M1282.0 680.6h2.7M1296.2 665.6h2.7M1273.4 696.1h2.7M1305.7 748.7h2.7M1294.4 678.1h2.7M1305.9 702.5h2.7M1288.3 561.5h2.7M1280.4 670.4h2.7M1266.4 679.0h2.7M1292.5 686.1h2.7M1279.6 717.7h2.7M1311.5 668.3h2.7M1275.2 603.2h2.7M1293.1 691.8h2.7M1279.4 618.4h2.7M1274.4 748.5h2.7M1289.1 670.8h2.7M1287.3 689.1h2.7M1288.4 695.7h2.7M1305.0 659.6h2.7M1275.1 665.3h2.7M1276.7 632.8h2.7M1269.9 708.5h2.7M1309.3 661.0h2.7M1267.5 740.2h2.7M1284.7 642.1h2.7M1265.3 674.0h2.7M1304.5 605.6h2.7M1264.3 747.5h2.7M1273.3 707.3h2.7M1275.7 673.0h2.7M1273.2 652.1h2.7M1271.5 712.4h2.7M1292.0 554.6h2.7M1281.2 685.3h2.7M1309.7 680.7h2.7M1297.2 650.8h2.7M1284.6 688.0h2.7M1273.6 696.8h2.7M1301.8 686.2h2.7M1263.7 685.1h2.7M1286.8 650.8h2.7M1265.8 647.3h2.7M1308.2 657.2h2.7M1292.4 715.3h2.7M1287.2 681.9h2.7M1267.9 718.6h2.7M1287.7 707.6h2.7M1280.3 663.7h2.7M1294.5 597.3h2.7M1263.5 691.7h2.7M1299.1 624.9h2.7M1266.4 672.1h2.7M1310.6 700.1h2.7M1263.2 638.7h2.7M1279.2 683.2h2.7M1264.2 700.4h2.7M1286.4 605.9h2.7M1297.4 729.9h2.7M1292.1 735.1h2.7M1295.4 623.2h2.7M1307.1 701.3h2.7M1282.5 703.6h2.7M1292.6 696.8h2.7M1282.5 729.6h2.7M1273.3 620.7h2.7M1279.8 635.7h2.7M1308.8 671.1h2.7M1265.1 691.9h2.7M1295.4 629.6h2.7M1297.8 680.2h2.7M1268.2 594.5h2.7M1290.9 700.1h2.7M1285.6 672.7h2.7M1280.6 707.1h2.7M1294.7 631.5h2.7M1279.6 694.8h2.7M1303.4 691.2h2.7M1299.8 681.1h2.7M1296.7 702.7h2.7M1275.3 719.8h2.7M1272.3 639.6h2.7M1263.3 693.3h2.7M1283.3 675.8h2.7M1284.7 678.5h2.7M1307.6 682.2h2.7M1299.0 717.3h2.7M1278.7 713.3h2.7M1285.8 645.9h2.7M1294.4 659.5h2.7M1267.2 700.5h2.7M1285.6 701.4h2.7M1276.3 669.5h2.7M1266.2 701.9h2.7M1277.7 649.3h2.7M1289.9 705.1h2.7M1277.0 685.8h2.7M1277.2 661.4h2.7M1264.3 719.8h2.7M1310.2 700.5h2.7M1295.3 625.1h2.7M1305.5 738.3h2.7M1285.7 631.0h2.7M1278.5 694.4h2.7M1263.1 637.4h2.7M1264.1 715.7h2.7M1274.5 685.8h2.7M1311.2 624.9h2.7M1293.8 636.4h2.7M1266.1 685.1h2.7M1305.3 663.4h2.7M1272.0 650.3h2.7M1266.4 661.6h2.7M1269.7 639.4h2.7M1305.6 655.8h2.7M1304.2 728.3h2.7M1304.9 675.6h2.7M1302.4 725.5h2.7M1305.4 696.1h2.7M1309.6 613.3h2.7M1284.1 626.2h2.7M1280.8 690.8h2.7M1287.0 661.3h2.7M1293.2 687.2h2.7M1269.9 617.3h2.7M1305.6 706.8h2.7M1263.8 649.4h2.7M1305.9 706.7h2.7M1265.4 714.3h2.7M1267.5 684.1h2.7M1286.2 700.3h2.7M1308.3 705.6h2.7M1272.8 703.5h2.7M1296.7 667.7h2.7M1307.2 732.9h2.7M1266.9 726.2h2.7M1275.8 674.0h2.7M1299.5 726.6h2.7M1296.6 676.6h2.7M1280.9 723.8h2.7M1285.6 741.7h2.7M1310.1 696.4h2.7M1271.4 732.3h2.7M1278.3 699.1h2.7M1312.0 662.4h2.7M1311.5 687.6h2.7M1277.2 733.1h2.7M1296.9 620.6h2.7M1268.2 728.6h2.7M1307.9 649.5h2.7M1294.3 750.3h2.7M1303.9 741.1h2.7M1281.8 728.6h2.7M1283.2 633.9h2.7M1302.1 646.5h2.7M1301.4 699.4h2.7M1282.4 714.9h2.7M1278.5 716.5h2.7M1301.7 733.7h2.7M1275.0 704.8h2.7M1293.5 684.9h2.7M1264.8 674.5h2.7M1265.6 656.2h2.7M1278.2 674.5h2.7M1281.5 677.6h2.7M1274.4 703.9h2.7M1275.5 682.0h2.7M1263.2 689.3h2.7M1265.8 655.4h2.7M1281.4 702.8h2.7M1281.8 665.7h2.7M1297.5 663.9h2.7M1291.5 711.3h2.7M1266.9 713.5h2.7M1269.1 742.4h2.7M1279.1 638.2h2.7M1289.2 696.6h2.7M1307.3 663.0h2.7M1295.3 706.6h2.7M1292.9 718.6h2.7M1302.5 682.4h2.7M1270.5 694.7h2.7M1266.6 665.4h2.7M1303.6 714.5h2.7M1305.7 674.8h2.7M1291.8 685.7h2.7M1280.3 653.1h2.7M1299.7 711.9h2.7M1281.8 639.6h2.7M1303.8 665.1h2.7M1310.2 685.0h2.7M1287.7 714.8h2.7M1276.1 652.7h2.7M1299.4 694.7h2.7M1302.3 653.1h2.7M1287.7 690.7h2.7M1269.0 696.9h2.7M1269.5 676.0h2.7M1263.5 693.9h2.7M1299.4 722.8h2.7M1287.6 657.7h2.7M1306.6 637.7h2.7M1279.5 674.1h2.7M1264.1 653.5h2.7M1288.3 632.8h2.7M1263.6 732.9h2.7M1270.4 731.7h2.7M1290.9 647.2h2.7M1280.4 662.0h2.7M1289.7 666.1h2.7M1304.1 722.6h2.7M1295.3 695.2h2.7M1278.5 628.7h2.7M1275.8 767.4h2.7M1288.6 652.2h2.7M1290.8 678.7h2.7M1275.8 589.3h2.7M1306.5 672.5h2.7M1293.2 670.6h2.7M1294.5 700.1h2.7M1271.4 714.0h2.7M1264.8 683.0h2.7M1311.5 695.1h2.7M1292.3 679.5h2.7M1286.3 664.2h2.7M1285.0 708.0h2.7M1380.8 690.2h2.7M1313.1 622.3h2.7M1347.0 758.3h2.7M1376.7 669.9h2.7M1336.2 707.8h2.7M1334.0 678.7h2.7M1362.2 748.5h2.7M1327.8 694.2h2.7M1333.4 671.4h2.7M1380.0 748.8h2.7M1359.0 695.4h2.7M1335.2 697.6h2.7M1343.7 741.1h2.7M1338.5 708.2h2.7M1373.0 758.7h2.7M1324.9 691.2h2.7M1330.4 736.1h2.7M1335.3 651.1h2.7M1354.1 702.9h2.7M1324.4 663.9h2.7M1370.0 692.7h2.7M1343.6 714.6h2.7M1362.0 668.9h2.7M1373.8 711.8h2.7M1321.1 672.4h2.7M1341.9 690.1h2.7M1349.9 687.8h2.7M1351.7 729.4h2.7M1355.0 673.9h2.7M1344.4 623.5h2.7M1317.3 684.8h2.7M1341.9 699.2h2.7M1360.8 713.4h2.7M1341.2 724.6h2.7M1379.5 745.1h2.7M1353.6 645.5h2.7M1341.9 722.6h2.7M1324.7 663.9h2.7M1368.8 697.2h2.7M1334.5 666.5h2.7M1321.8 722.1h2.7M1346.7 736.0h2.7M1326.9 711.6h2.7M1350.4 737.2h2.7M1325.8 721.4h2.7M1341.7 632.9h2.7M1380.3 746.7h2.7M1367.4 677.6h2.7M1324.0 659.5h2.7M1315.5 693.0h2.7M1336.4 702.1h2.7M1370.8 646.6h2.7M1368.4 699.8h2.7M1322.8 695.5h2.7M1375.7 726.3h2.7M1335.7 705.1h2.7M1344.5 693.1h2.7M1315.3 695.8h2.7M1374.5 683.6h2.7M1353.4 652.8h2.7M1354.5 753.1h2.7M1352.1 703.6h2.7M1341.2 702.9h2.7M1370.0 736.6h2.7M1325.0 692.3h2.7M1319.9 654.6h2.7M1371.0 693.3h2.7M1343.3 678.7h2.7M1366.2 696.8h2.7M1340.0 710.7h2.7M1338.0 680.3h2.7M1320.2 647.1h2.7M1374.5 689.9h2.7M1338.4 712.0h2.7M1322.1 653.5h2.7M1325.8 682.9h2.7M1322.3 666.0h2.7M1331.5 665.1h2.7M1349.2 692.3h2.7M1321.9 635.6h2.7M1315.4 703.4h2.7M1346.9 600.7h2.7M1375.4 711.0h2.7M1380.6 723.6h2.7M1329.3 693.9h2.7M1345.3 699.9h2.7M1372.6 710.4h2.7M1369.0 733.0h2.7M1370.7 751.1h2.7M1375.8 743.0h2.7M1367.5 708.6h2.7M1348.8 642.0h2.7M1381.3 716.2h2.7M1343.6 715.9h2.7M1375.2 727.4h2.7M1349.6 706.5h2.7M1326.1 687.5h2.7M1326.5 663.8h2.7M1324.9 698.9h2.7M1329.1 684.9h2.7M1379.9 706.9h2.7M1315.2 643.4h2.7M1353.4 694.8h2.7M1332.8 682.2h2.7M1374.2 704.4h2.7M1363.8 730.3h2.7M1353.8 682.8h2.7M1351.1 695.8h2.7M1361.3 733.3h2.7M1350.4 716.6h2.7M1332.4 668.9h2.7M1360.9 689.1h2.7M1365.9 722.4h2.7M1319.2 639.2h2.7M1337.4 726.7h2.7M1338.0 722.9h2.7M1370.8 651.8h2.7M1342.7 692.1h2.7M1320.1 666.2h2.7M1350.9 705.8h2.7M1347.7 687.1h2.7M1328.7 712.7h2.7M1327.9 713.6h2.7M1364.5 698.7h2.7M1331.9 697.9h2.7M1376.2 760.6h2.7M1334.2 702.3h2.7M1328.5 705.5h2.7M1331.1 680.8h2.7M1380.3 720.4h2.7M1326.9 642.3h2.7M1381.5 733.0h2.7M1367.9 719.4h2.7M1335.8 674.4h2.7M1366.2 738.7h2.7M1351.3 716.9h2.7M1378.9 720.7h2.7M1373.1 729.3h2.7M1380.6 741.4h2.7M1357.0 740.8h2.7M1346.5 725.8h2.7M1378.2 761.6h2.7M1332.5 655.5h2.7M1328.2 690.4h2.7M1313.9 653.6h2.7M1379.0 754.8h2.7M1341.4 642.5h2.7M1331.8 707.6h2.7M1313.5 634.4h2.7M1320.2 657.9h2.7M1372.2 703.8h2.7M1330.5 646.3h2.7M1328.3 678.6h2.7M1322.1 667.3h2.7M1337.5 680.9h2.7M1370.7 742.5h2.7M1347.7 756.5h2.7M1377.4 773.2h2.7M1317.4 663.4h2.7M1313.6 633.2h2.7M1322.6 739.1h2.7M1353.6 734.8h2.7M1377.5 746.4h2.7M1332.4 672.0h2.7M1342.6 703.1h2.7M1315.5 641.7h2.7M1342.6 724.7h2.7M1367.4 730.1h2.7M1333.6 699.8h2.7M1374.3 701.0h2.7M1362.0 657.2h2.7M1365.6 721.1h2.7M1337.5 717.2h2.7M1320.7 667.1h2.7M1319.6 717.2h2.7M1316.5 628.5h2.7M1332.0 686.6h2.7M1335.8 676.0h2.7M1367.3 745.6h2.7M1354.7 702.2h2.7M1336.3 701.4h2.7M1315.0 712.1h2.7M1371.7 693.2h2.7M1325.6 656.0h2.7M1314.6 670.1h2.7M1337.7 686.7h2.7M1367.3 756.2h2.7M1334.2 717.7h2.7M1313.4 732.1h2.7M1333.0 701.9h2.7M1369.4 743.3h2.7M1320.0 695.6h2.7M1341.0 651.5h2.7M1345.1 738.2h2.7M1347.6 701.8h2.7M1314.6 681.0h2.7M1333.8 695.3h2.7M1376.6 762.2h2.7M1380.2 725.4h2.7M1351.7 719.0h2.7M1365.2 728.9h2.7M1343.3 739.6h2.7M1316.7 700.2h2.7M1331.7 668.0h2.7M1361.7 716.8h2.7M1360.8 668.5h2.7M1347.7 717.9h2.7M1340.6 737.0h2.7M1356.1 775.8h2.7M1348.2 684.1h2.7M1348.0 685.7h2.7M1323.6 674.7h2.7M1357.5 685.9h2.7M1317.0 658.7h2.7M1370.6 695.2h2.7M1375.5 753.0h2.7M1368.9 711.9h2.7M1314.2 714.1h2.7M1356.6 720.9h2.7M1313.2 640.3h2.7M1354.2 703.3h2.7M1351.7 713.7h2.7M1344.9 689.1h2.7M1333.2 662.9h2.7M1339.1 695.0h2.7M1362.0 685.5h2.7M1323.3 685.7h2.7M1366.4 743.8h2.7M1322.2 699.4h2.7M1313.2 661.0h2.7M1343.4 734.0h2.7M1320.5 688.0h2.7M1338.9 672.5h2.7M1320.3 678.3h2.7M1375.1 749.5h2.7M1346.8 673.4h2.7M1324.8 676.8h2.7M1332.0 678.9h2.7M1326.0 710.3h2.7M1324.7 704.5h2.7M1325.8 679.7h2.7M1320.9 705.8h2.7M1331.1 704.5h2.7M1348.7 730.6h2.7M1329.4 681.6h2.7M1359.6 720.3h2.7M1323.0 662.2h2.7M1319.9 701.7h2.7M1360.4 708.6h2.7M1348.7 752.3h2.7M1378.0 769.8h2.7M1340.9 690.4h2.7M1362.2 726.3h2.7M1314.0 718.6h2.7M1334.9 660.2h2.7M1364.2 676.6h2.7M1345.7 690.5h2.7M1367.8 705.1h2.7M1372.8 748.6h2.7M1339.0 706.5h2.7M1365.1 762.6h2.7M1331.3 666.6h2.7M1362.7 719.9h2.7M1340.9 671.8h2.7M1373.4 669.1h2.7M1315.7 679.3h2.7M1330.7 681.3h2.7M1335.9 668.2h2.7M1315.0 696.7h2.7M1356.4 694.7h2.7M1330.8 691.2h2.7M1373.8 738.1h2.7M1339.5 699.3h2.7M1341.9 638.3h2.7M1371.8 675.2h2.7M1345.9 742.2h2.7M1322.7 649.7h2.7M1318.0 692.3h2.7M1344.2 682.5h2.7M1313.7 702.2h2.7M1379.0 691.1h2.7M1372.8 711.1h2.7M1343.4 672.1h2.7M1377.8 786.3h2.7M1336.0 732.5h2.7M1334.1 684.9h2.7M1355.9 713.7h2.7M1313.5 674.7h2.7M1348.2 704.5h2.7M1321.9 674.1h2.7M1371.9 679.5h2.7M1373.0 766.0h2.7M1312.7 679.8h2.7M1342.1 698.9h2.7M1339.9 675.0h2.7M1354.0 659.0h2.7M1324.2 668.3h2.7M1367.0 692.2h2.7M1328.2 641.4h2.7M1335.4 723.3h2.7M1315.2 668.3h2.7M1350.0 705.7h2.7M1340.7 700.0h2.7M1333.9 694.2h2.7M1314.3 693.6h2.7M1327.0 679.6h2.7M1381.4 729.2h2.7M1329.7 663.8h2.7M1363.9 757.2h2.7M1327.2 671.4h2.7M1345.7 663.5h2.7M1360.0 707.1h2.7M1342.2 667.7h2.7M1341.0 685.7h2.7M1370.2 723.9h2.7M1316.8 658.7h2.7M1324.2 699.0h2.7M1324.4 716.2h2.7M1372.0 748.9h2.7M1328.9 602.8h2.7M1331.1 701.1h2.7M1360.2 720.0h2.7M1343.6 703.2h2.7M1371.7 730.2h2.7M1357.9 710.2h2.7M1365.2 699.3h2.7M1324.8 637.7h2.7M1367.0 724.8h2.7M1319.5 679.1h2.7M1325.5 689.1h2.7M1347.5 694.3h2.7M1361.6 703.7h2.7M1326.0 696.9h2.7M1342.2 720.6h2.7M1351.8 648.0h2.7M1346.8 704.6h2.7M1338.6 714.3h2.7M1343.0 669.0h2.7M1316.8 671.2h2.7M1356.3 697.5h2.7M1369.3 699.7h2.7M1348.1 708.0h2.7M1321.8 727.8h2.7M1358.3 711.6h2.7M1315.2 709.7h2.7M1321.0 658.8h2.7M1334.8 663.1h2.7M1367.6 733.4h2.7M1334.3 676.2h2.7M1381.0 683.6h2.7M1378.0 771.0h2.7M1378.0 718.5h2.7M1350.4 727.8h2.7M1372.6 702.7h2.7M1348.3 722.1h2.7M1367.9 720.0h2.7M1377.2 757.1h2.7M1329.9 725.5h2.7M1350.2 659.0h2.7M1328.6 646.7h2.7M1341.8 675.0h2.7M1361.2 689.0h2.7M1354.6 695.8h2.7M1321.9 626.7h2.7M1343.4 674.9h2.7M1377.7 764.5h2.7M1315.9 711.2h2.7M1350.9 725.8h2.7M1366.2 675.7h2.7M1365.9 686.9h2.7M1337.7 780.3h2.7M1361.9 683.2h2.7M1341.1 689.6h2.7M1364.9 673.1h2.7M1313.5 695.2h2.7M1334.3 677.6h2.7M1332.9 688.4h2.7M1363.9 746.0h2.7M1319.5 716.5h2.7M1327.9 699.7h2.7M1350.0 669.5h2.7M1349.8 747.5h2.7M1369.3 745.0h2.7M1374.1 690.3h2.7M1365.5 752.3h2.7M1332.5 686.4h2.7M1320.4 700.9h2.7M1367.6 694.4h2.7M1372.6 748.2h2.7M1363.4 730.1h2.7M1376.4 706.3h2.7M1364.5 744.1h2.7M1351.9 714.7h2.7M1358.3 729.6h2.7M1314.5 733.0h2.7M1321.8 724.6h2.7M1373.3 689.8h2.7M1352.9 762.1h2.7M1349.0 750.9h2.7M1369.3 771.6h2.7M1325.8 680.1h2.7M1352.1 680.7h2.7M1372.1 704.7h2.7M1339.7 673.3h2.7M1355.1 719.9h2.7M1349.3 730.4h2.7M1378.5 765.7h2.7M1337.9 678.9h2.7M1319.3 700.4h2.7M1361.0 748.1h2.7M1359.6 715.5h2.7M1330.4 694.2h2.7M1316.5 664.8h2.7M1318.0 698.5h2.7M1357.5 702.6h2.7M1364.5 712.8h2.7M1349.1 706.6h2.7M1323.5 714.8h2.7M1320.4 704.5h2.7M1330.0 711.5h2.7M1324.5 693.2h2.7M1333.4 685.1h2.7M1339.9 710.7h2.7M1357.2 662.3h2.7M1342.3 649.2h2.7M1320.1 681.0h2.7M1367.1 715.8h2.7M1349.3 644.6h2.7M1343.8 691.0h2.7M1326.6 651.1h2.7M1377.8 734.8h2.7M1364.0 721.3h2.7M1348.7 695.2h2.7M1337.7 710.8h2.7M1355.0 727.8h2.7M1341.2 696.9h2.7M1331.4 708.4h2.7M1342.3 660.6h2.7M1354.2 701.1h2.7M1345.1 664.0h2.7M1365.4 732.0h2.7M1370.0 749.4h2.7M1325.5 707.5h2.7M1318.2 713.2h2.7M1343.1 709.6h2.7M1360.3 726.6h2.7M1325.3 600.5h2.7M1328.0 671.6h2.7M1327.6 632.3h2.7M1379.6 760.1h2.7M1326.0 707.0h2.7M1379.2 743.5h2.7M1360.0 695.7h2.7M1354.7 764.1h2.7M1321.7 663.5h2.7M1331.5 630.9h2.7M1329.3 664.4h2.7M1366.9 736.1h2.7M1356.1 727.5h2.7M1356.7 725.9h2.7M1370.9 730.7h2.7M1332.8 678.9h2.7M1360.0 706.5h2.7M1358.2 714.5h2.7M1349.6 672.3h2.7M1329.2 734.8h2.7M1341.6 664.8h2.7M1330.7 690.4h2.7M1358.7 752.2h2.7M1377.8 740.5h2.7M1373.2 696.4h2.7M1359.8 706.3h2.7M1319.2 704.1h2.7M1377.8 779.4h2.7M1367.2 700.6h2.7M1324.8 685.1h2.7M1349.4 710.4h2.7M1347.0 599.9h2.7M1368.5 731.0h2.7M1320.3 689.3h2.7M1332.0 683.9h2.7M1343.0 717.1h2.7M1317.7 713.4h2.7M1380.0 736.2h2.7M1352.8 698.0h2.7M1325.3 659.7h2.7M1322.2 712.9h2.7M1362.7 685.5h2.7M1368.5 733.4h2.7M1333.1 682.4h2.7M1359.6 689.9h2.7M1353.2 701.3h2.7M1333.3 678.3h2.7M1364.7 726.7h2.7M1324.7 715.6h2.7M1365.1 687.3h2.7M1314.4 699.4h2.7M1338.2 707.6h2.7M1345.8 707.3h2.7M1325.8 709.3h2.7M1379.3 732.2h2.7M1358.7 670.0h2.7M1322.8 733.0h2.7M1316.1 652.5h2.7M1359.3 761.3h2.7M1377.3 723.9h2.7M1377.4 741.1h2.7M1375.0 719.1h2.7M1345.0 705.3h2.7M1325.1 742.4h2.7M1315.6 678.8h2.7M1323.8 652.4h2.7M1336.4 717.7h2.7M1361.3 765.3h2.7M1337.6 659.5h2.7M1336.5 670.2h2.7M1348.3 736.8h2.7M1361.8 705.6h2.7M1356.2 707.8h2.7M1358.9 686.5h2.7M1351.0 670.6h2.7M1334.4 683.0h2.7M1335.7 697.1h2.7M1334.4 687.0h2.7M1337.1 702.3h2.7M1377.8 707.8h2.7M1333.8 672.5h2.7M1377.9 694.8h2.7M1345.2 685.4h2.7M1343.1 669.6h2.7M1367.0 675.6h2.7M1364.7 701.5h2.7M1326.9 656.8h2.7M1327.4 705.6h2.7M1331.5 644.0h2.7M1362.6 748.8h2.7M1357.6 694.1h2.7M1369.9 687.0h2.7M1379.0 711.3h2.7M1328.0 730.0h2.7M1371.3 701.0h2.7M1367.8 764.1h2.7M1378.9 767.9h2.7M1325.0 625.5h2.7M1332.1 716.8h2.7M1346.5 714.9h2.7M1370.3 747.8h2.7M1316.0 717.1h2.7M1369.3 740.2h2.7M1319.5 679.9h2.7M1343.7 699.1h2.7M1364.8 731.6h2.7M1335.0 745.6h2.7M1357.7 704.2h2.7M1325.7 650.6h2.7M1379.8 768.2h2.7M1331.8 668.7h2.7M1338.9 699.5h2.7M1347.8 716.1h2.7M1321.8 718.4h2.7M1330.5 636.0h2.7M1367.7 709.7h2.7M1368.4 719.9h2.7M1378.7 751.2h2.7M1328.5 696.4h2.7M1333.4 631.6h2.7M1326.6 699.2h2.7M1329.9 749.0h2.7M1338.2 718.9h2.7M1368.0 723.7h2.7M1331.0 673.7h2.7M1376.2 719.8h2.7M1349.2 685.2h2.7M1315.2 685.7h2.7M1344.1 714.6h2.7M1341.2 730.8h2.7M1332.9 695.7h2.7M1363.4 765.5h2.7M1340.5 693.2h2.7M1365.6 746.5h2.7M1341.3 655.7h2.7M1373.5 690.1h2.7M1360.1 738.3h2.7M1369.8 742.1h2.7M1372.2 756.0h2.7M1359.6 739.2h2.7M1379.7 758.1h2.7M1347.7 682.3h2.7M1356.4 739.3h2.7M1317.6 631.6h2.7M1331.6 714.3h2.7M1363.7 707.5h2.7M1370.1 719.8h2.7M1354.9 747.5h2.7M1335.8 686.1h2.7M1361.0 721.0h2.7M1369.8 717.9h2.7M1351.0 704.4h2.7M1338.1 723.8h2.7M1323.0 640.2h2.7M1319.8 732.4h2.7M1319.2 712.3h2.7M1322.2 598.4h2.7M1349.9 733.0h2.7M1329.5 710.4h2.7M1347.9 734.5h2.7M1363.0 733.8h2.7M1344.2 679.3h2.7M1340.3 730.2h2.7M1324.0 692.3h2.7M1367.2 722.1h2.7M1360.8 713.1h2.7M1372.4 747.1h2.7M1348.7 731.9h2.7M1327.7 718.0h2.7M1341.1 672.8h2.7M1372.5 762.0h2.7M1340.8 680.7h2.7M1353.6 710.5h2.7M1353.2 684.5h2.7M1331.9 691.1h2.7M1381.0 713.3h2.7M1321.4 716.3h2.7M1368.5 697.5h2.7M1327.8 698.0h2.7M1355.5 689.3h2.7M1361.7 680.7h2.7M1318.7 668.5h2.7M1342.2 722.0h2.7M1327.7 699.8h2.7M1369.4 704.7h2.7M1321.2 698.6h2.7M1361.7 753.9h2.7M1316.2 690.0h2.7M1365.9 702.3h2.7M1314.9 714.5h2.7M1364.1 666.2h2.7M1340.5 657.3h2.7M1314.2 669.3h2.7M1317.5 705.7h2.7M1332.3 684.4h2.7M1353.4 640.1h2.7M1345.8 686.2h2.7M1375.8 641.8h2.7M1336.7 661.3h2.7M1372.9 757.3h2.7M1378.5 724.6h2.7M1374.6 750.8h2.7M1353.5 696.9h2.7M1339.7 713.7h2.7M1343.9 754.1h2.7M1367.2 707.9h2.7M1332.6 624.4h2.7M1368.9 705.6h2.7M1379.0 728.6h2.7M1347.9 692.6h2.7M1352.1 710.8h2.7M1331.3 695.6h2.7M1358.5 703.2h2.7M1356.3 723.1h2.7M1323.6 668.3h2.7M1366.4 725.0h2.7M1318.0 648.3h2.7M1318.1 672.6h2.7M1339.9 672.6h2.7M1315.1 708.8h2.7M1378.8 721.6h2.7M1366.0 677.7h2.7M1348.2 714.7h2.7M1343.3 703.7h2.7M1338.5 673.3h2.7M1313.0 633.5h2.7M1325.5 672.9h2.7M1314.1 657.1h2.7M1332.4 656.7h2.7M1362.5 714.7h2.7M1365.7 677.6h2.7M1334.7 694.7h2.7M1381.6 715.4h2.7M1329.6 666.9h2.7M1320.2 649.7h2.7M1364.6 759.8h2.7M1362.0 705.0h2.7M1324.3 689.4h2.7M1379.9 739.2h2.7M1357.5 705.3h2.7M1381.5 681.7h2.7M1324.7 691.8h2.7M1316.0 682.5h2.7M1318.1 688.6h2.7M1337.6 670.2h2.7M1369.9 678.8h2.7M1377.6 710.3h2.7M1319.2 728.5h2.7M1339.9 706.7h2.7M1315.3 687.5h2.7M1376.6 736.6h2.7M1342.3 708.8h2.7M1340.2 668.1h2.7M1368.8 715.2h2.7M1342.0 680.0h2.7M1355.4 771.0h2.7M1329.7 658.5h2.7M1353.6 695.2h2.7M1342.6 714.2h2.7M1360.1 725.3h2.7M1368.1 764.9h2.7M1329.5 646.5h2.7M1350.2 724.9h2.7M1320.1 695.2h2.7M1340.6 644.8h2.7M1322.3 739.1h2.7M1340.8 672.2h2.7M1347.2 701.7h2.7M1336.6 702.6h2.7M1324.0 683.4h2.7M1345.4 722.0h2.7M1354.5 735.7h2.7M1323.9 700.2h2.7M1337.4 694.9h2.7M1346.8 703.1h2.7M1351.3 716.1h2.7M1355.9 709.4h2.7M1314.4 641.2h2.7M1374.2 698.0h2.7M1371.0 755.7h2.7M1367.4 678.2h2.7M1371.2 713.4h2.7M1323.1 724.6h2.7M1371.7 751.3h2.7M1372.7 765.1h2.7M1324.6 705.3h2.7M1367.5 735.5h2.7M1369.3 706.4h2.7M1315.0 715.6h2.7M1355.5 712.5h2.7M1381.0 717.0h2.7M1351.9 699.6h2.7M1312.9 630.3h2.7M1365.1 779.4h2.7M1321.4 671.9h2.7M1337.3 671.7h2.7M1319.5 666.2h2.7M1333.3 672.1h2.7M1326.8 687.8h2.7M1338.0 636.3h2.7M1336.5 698.7h2.7M1312.3 689.2h2.7M1358.3 720.1h2.7M1362.9 727.9h2.7M1324.4 659.5h2.7M1351.5 701.5h2.7M1361.2 767.2h2.7M1336.8 689.1h2.7M1332.9 674.0h2.7M1371.7 695.8h2.7M1372.5 727.0h2.7M1335.1 669.9h2.7M1328.7 614.0h2.7M1329.5 658.9h2.7M1343.5 737.7h2.7M1319.1 701.8h2.7M1339.3 670.0h2.7M1336.1 690.3h2.7M1318.4 653.6h2.7M1325.4 644.4h2.7M1360.8 656.8h2.7M1313.4 610.1h2.7M1349.7 727.7h2.7M1367.8 723.6h2.7M1374.3 722.8h2.7M1319.0 692.5h2.7M1320.0 697.1h2.7M1312.6 634.8h2.7M1337.4 716.7h2.7M1375.1 704.7h2.7M1380.5 705.1h2.7M1313.3 659.9h2.7M1359.5 690.7h2.7M1359.2 696.6h2.7M1322.9 646.6h2.7M1318.8 696.0h2.7M1327.4 734.4h2.7M1358.9 722.6h2.7M1330.4 713.3h2.7M1366.2 773.3h2.7M1331.2 737.1h2.7M1375.0 662.9h2.7M1377.3 742.6h2.7M1373.9 743.6h2.7M1378.1 748.9h2.7M1350.3 696.1h2.7M1319.8 718.9h2.7M1368.0 690.1h2.7M1369.3 734.5h2.7M1369.3 691.7h2.7M1321.7 699.7h2.7M1315.0 712.4h2.7M1329.1 726.4h2.7M1326.4 694.3h2.7M1327.0 645.6h2.7M1352.2 735.0h2.7M1353.0 657.0h2.7M1357.2 737.8h2.7M1371.1 761.2h2.7M1322.4 710.6h2.7M1377.8 698.2h2.7M1365.8 712.8h2.7M1315.7 705.6h2.7M1376.5 717.9h2.7M1353.0 697.7h2.7M1354.8 670.1h2.7M1348.9 666.9h2.7M1326.9 652.2h2.7M1368.4 685.9h2.7M1317.0 646.5h2.7M1369.7 705.8h2.7M1341.8 701.9h2.7M1355.3 743.4h2.7M1340.4 699.5h2.7M1345.6 767.7h2.7M1370.7 777.1h2.7M1338.0 716.7h2.7M1344.2 694.4h2.7M1326.8 680.7h2.7M1335.9 717.8h2.7M1314.8 654.4h2.7M1354.6 710.3h2.7M1376.4 722.2h2.7M1346.5 680.6h2.7M1351.9 660.4h2.7M1370.3 740.1h2.7M1335.9 727.3h2.7M1317.3 635.6h2.7M1362.2 676.0h2.7M1342.5 706.1h2.7M1328.5 700.6h2.7M1359.5 686.8h2.7M1380.5 734.2h2.7M1373.3 688.4h2.7M1322.4 724.4h2.7M1318.4 659.0h2.7M1361.2 705.2h2.7M1326.0 685.5h2.7M1332.5 688.9h2.7M1364.7 730.5h2.7M1371.9 708.8h2.7M1363.2 690.3h2.7M1360.8 711.9h2.7M1332.9 693.8h2.7M1360.9 631.4h2.7M1348.8 700.2h2.7M1331.3 705.1h2.7M1313.9 684.2h2.7M1323.2 704.8h2.7M1336.3 678.2h2.7M1344.2 716.7h2.7M1313.6 617.2h2.7M1344.5 701.0h2.7M1351.0 711.8h2.7M1375.6 760.1h2.7M1350.6 695.2h2.7M1354.0 707.7h2.7M1359.8 743.5h2.7M1322.3 677.6h2.7M1362.0 677.3h2.7M1373.8 670.0h2.7M1379.1 695.7h2.7M1323.6 704.0h2.7M1357.0 701.9h2.7M1351.4 737.0h2.7M1331.5 662.6h2.7M1347.4 761.6h2.7M1350.6 788.8h2.7M1346.3 750.0h2.7M1321.0 703.4h2.7M1341.9 688.7h2.7M1370.4 737.6h2.7M1337.0 699.6h2.7M1356.3 700.7h2.7M1320.5 695.0h2.7M1420.3 759.6h2.7M1427.3 768.9h2.7M1396.0 769.5h2.7M1383.9 771.1h2.7M1396.2 776.3h2.7M1420.9 780.8h2.7M1407.5 774.3h2.7M1408.3 775.8h2.7M1417.2 753.8h2.7M1392.4 766.8h2.7M1393.5 765.5h2.7M1385.4 768.9h2.7M1427.3 780.6h2.7M1407.6 753.2h2.7M1410.8 771.2h2.7M1393.2 763.9h2.7M1400.1 757.5h2.7M1399.3 775.4h2.7M1397.8 774.5h2.7M1381.7 766.9h2.7M1406.4 731.1h2.7M1398.3 758.8h2.7M1394.5 762.3h2.7M1390.0 757.7h2.7M1392.9 768.2h2.7M1384.9 779.3h2.7M1384.3 751.3h2.7M1411.2 771.4h2.7M1394.6 770.3h2.7M1420.6 779.4h2.7M1397.6 756.3h2.7M1382.8 773.4h2.7M1422.6 779.7h2.7M1411.9 777.1h2.7M1419.5 734.7h2.7M1419.6 769.4h2.7M1422.7 753.9h2.7M1422.4 746.5h2.7M1425.3 769.8h2.7M1388.6 754.9h2.7M1411.2 781.1h2.7M1425.3 777.4h2.7M1417.7 780.3h2.7M1386.9 738.7h2.7M1423.2 776.0h2.7M1414.4 769.3h2.7M1399.1 760.2h2.7M1425.0 761.6h2.7M1427.1 778.3h2.7M1388.4 755.7h2.7M1380.1 759.8h2.7M1393.2 755.9h2.7M1427.8 754.8h2.7M1391.3 773.9h2.7M1385.1 780.3h2.7M1409.1 769.9h2.7M1412.3 766.6h2.7M1420.8 770.1h2.7M1393.1 754.1h2.7M1399.0 746.7h2.7M1380.0 759.5h2.7M1408.6 772.4h2.7M1423.6 754.3h2.7M1415.7 780.3h2.7M1404.3 759.6h2.7M1409.0 733.4h2.7M1419.1 775.3h2.7M1381.0 775.1h2.7M1401.7 761.2h2.7M1417.2 739.4h2.7M1414.0 772.3h2.7M1383.6 761.4h2.7M1425.6 769.0h2.7M1408.6 735.8h2.7M1404.9 781.1h2.7M1401.1 750.8h2.7M1399.5 780.0h2.7M1417.9 758.0h2.7M1396.2 758.9h2.7M1413.8 752.0h2.7M1416.9 764.0h2.7M1425.7 750.4h2.7M1384.8 780.0h2.7M1382.2 757.6h2.7M1384.1 755.8h2.7M1402.7 750.7h2.7M1396.1 755.7h2.7M1417.9 760.3h2.7M1397.7 779.9h2.7M1421.4 762.7h2.7M1414.7 750.9h2.7M1413.0 750.2h2.7M1416.2 751.5h2.7M1420.9 776.5h2.7M1391.4 778.6h2.7M1389.9 729.7h2.7M1411.7 733.7h2.7M1390.6 771.1h2.7M1388.2 744.8h2.7M1418.9 748.8h2.7M1382.6 764.9h2.7M1399.9 774.1h2.7M1379.9 750.0h2.7M1384.8 776.9h2.7M1407.6 732.6h2.7M1381.1 736.2h2.7M1404.8 764.7h2.7M1382.0 769.4h2.7M1401.1 756.8h2.7M1425.3 752.1h2.7M1416.4 765.8h2.7M1387.4 756.8h2.7M1382.7 756.0h2.7M1425.0 768.9h2.7M1407.7 779.1h2.7M1401.2 765.9h2.7M1417.0 775.2h2.7M1403.2 779.9h2.7M1428.0 751.9h2.7M1425.6 771.9h2.7M1399.5 752.9h2.7M1419.0 765.5h2.7M1422.7 737.4h2.7M1409.7 773.7h2.7M1422.6 770.5h2.7M1415.5 779.8h2.7M1405.3 742.9h2.7M1426.9 775.6h2.7M1392.6 750.4h2.7M1404.8 757.0h2.7M1423.2 752.0h2.7M1415.3 739.7h2.7M1380.2 750.6h2.7M1380.5 764.2h2.7M1389.1 780.7h2.7M1403.9 774.0h2.7M1393.3 768.9h2.7M1416.9 754.0h2.7M1380.0 780.0h2.7M1385.7 754.1h2.7M1415.1 750.0h2.7M1389.2 766.8h2.7M1427.7 767.6h2.7M1415.5 762.6h2.7M1425.6 744.9h2.7M1402.9 766.9h2.7M1392.0 780.9h2.7M1387.6 768.5h2.7M1382.6 760.6h2.7M1380.0 766.3h2.7M1395.8 780.8h2.7M1415.2 778.6h2.7M1410.8 780.2h2.7M1410.7 763.0h2.7M1418.3 758.4h2.7M1384.9 742.3h2.7M1392.6 763.7h2.7M1389.8 766.4h2.7M1425.3 766.0h2.7M1404.4 734.4h2.7M1392.6 779.7h2.7M1381.8 758.0h2.7M1408.7 753.5h2.7M1405.8 751.6h2.7M1422.1 774.2h2.7M1393.8 758.9h2.7M1408.4 780.8h2.7M1398.9 770.0h2.7M1419.0 767.5h2.7M1388.8 771.9h2.7M1413.4 738.6h2.7M1412.9 767.7h2.7M1417.9 774.4h2.7M1409.6 768.5h2.7M1390.9 737.6h2.7M1407.2 741.6h2.7M1407.4 754.1h2.7M1418.1 760.2h2.7M1413.2 772.9h2.7M1401.9 753.7h2.7M1387.9 750.5h2.7M1389.3 754.7h2.7M1389.6 738.3h2.7M1405.7 738.8h2.7M1412.3 763.0h2.7M1392.4 758.4h2.7M1399.2 757.8h2.7M1399.5 769.4h2.7M1417.3 753.4h2.7M1408.1 775.1h2.7M1390.5 736.8h2.7M1427.5 780.7h2.7M1404.4 755.0h2.7M1390.5 775.8h2.7M1396.2 781.2h2.7M1399.9 773.3h2.7M1404.6 750.8h2.7M1398.3 754.2h2.7M1381.1 742.1h2.7M1392.6 764.7h2.7M1396.1 778.6h2.7M1396.9 768.9h2.7M1396.0 766.2h2.7M1407.9 778.6h2.7M1387.4 780.2h2.7M1393.9 765.0h2.7M1399.1 779.8h2.7M1395.5 770.8h2.7M1409.8 779.8h2.7M1410.2 755.0h2.7M1383.7 765.6h2.7M1386.3 771.9h2.7M1416.7 752.0h2.7M1393.6 740.0h2.7M1395.2 755.7h2.7M1412.5 758.3h2.7M1384.7 778.3h2.7M1419.7 765.3h2.7M1405.5 771.9h2.7M1392.1 746.8h2.7M1391.6 757.1h2.7M1386.3 760.1h2.7M1388.2 773.5h2.7M1385.6 764.8h2.7M1381.5 768.9h2.7M1420.9 780.3h2.7M1401.7 735.6h2.7M1427.5 750.6h2.7M1381.7 759.1h2.7M1388.5 756.0h2.7M1412.6 752.3h2.7M1391.3 752.4h2.7M1389.4 755.5h2.7M1399.1 763.7h2.7M1408.8 751.6h2.7M1384.8 759.2h2.7M1381.9 773.1h2.7M1424.4 764.5h2.7M1413.7 766.8h2.7M1412.9 764.9h2.7M1387.1 761.5h2.7M1427.7 734.7h2.7M1381.7 773.4h2.7M1414.8 758.4h2.7M1388.3 740.9h2.7M1380.7 761.3h2.7M1418.1 757.3h2.7M1391.9 749.0h2.7M1390.5 755.5h2.7M1381.8 765.9h2.7M1406.1 764.4h2.7M1390.8 755.9h2.7M1390.7 777.7h2.7M1405.1 775.5h2.7M1427.1 771.4h2.7M1423.2 764.4h2.7M1390.5 749.8h2.7M1381.2 754.9h2.7M1408.5 750.6h2.7M1427.3 767.8h2.7M1393.0 762.3h2.7M1392.2 763.3h2.7M1420.3 771.7h2.7M1408.6 764.2h2.7M1407.5 753.8h2.7M1386.9 778.2h2.7M1422.0 760.2h2.7M1410.7 776.7h2.7M1407.2 762.0h2.7M1389.6 759.7h2.7M1424.1 762.4h2.7M1425.6 753.5h2.7M1417.3 757.1h2.7M1409.0 753.8h2.7M1409.4 764.8h2.7M1425.7 772.3h2.7M1403.3 781.2h2.7M1385.6 739.4h2.7M1408.3 763.6h2.7M1424.7 758.6h2.7M1391.4 768.7h2.7M1407.2 779.5h2.7M1394.0 779.9h2.7M1407.2 740.1h2.7M1383.8 771.9h2.7M1415.7 770.4h2.7M1379.8 779.8h2.7M1389.2 746.1h2.7M1427.6 774.1h2.7M1397.4 764.9h2.7M1383.4 753.1h2.7M1397.1 758.6h2.7M1401.3 759.1h2.7M1391.6 761.9h2.7M1421.9 775.7h2.7M1394.4 758.3h2.7M1399.6 771.4h2.7M1384.3 767.2h2.7M1412.6 759.3h2.7M1415.6 769.2h2.7M1396.5 764.7h2.7M1381.8 777.2h2.7M1413.7 761.2h2.7M1404.7 732.0h2.7M1424.5 755.0h2.7M1410.5 759.8h2.7M1425.4 768.7h2.7M1384.9 766.6h2.7M1422.1 751.3h2.7M1397.1 780.0h2.7M1381.2 765.5h2.7M1419.3 729.8h2.7M1409.8 755.6h2.7M1398.8 777.5h2.7M1403.9 780.7h2.7M1406.6 780.4h2.7M1413.5 773.3h2.7M1390.0 750.7h2.7M1390.9 780.0h2.7M1410.9 753.0h2.7M1415.9 769.9h2.7M1415.8 770.2h2.7M1400.7 770.1h2.7M1406.4 754.8h2.7M1406.4 769.9h2.7M1420.2 781.1h2.7M1407.9 759.7h2.7M1380.3 779.2h2.7M1384.0 778.8h2.7M1380.7 764.9h2.7M1407.2 754.6h2.7M1424.9 779.4h2.7M1389.1 773.8h2.7M1427.6 769.2h2.7M1400.4 779.5h2.7M1409.9 774.6h2.7M1388.1 766.1h2.7M1415.6 765.4h2.7M1399.7 768.1h2.7M1386.8 731.3h2.7M1396.3 768.2h2.7M1395.7 768.0h2.7M1397.9 755.8h2.7M1401.5 755.2h2.7M1416.2 755.6h2.7M1386.9 750.3h2.7M1387.3 755.0h2.7M1409.1 757.0h2.7M1423.9 761.5h2.7M1405.9 767.2h2.7M1410.8 754.6h2.7M1394.9 767.6h2.7M1385.6 757.0h2.7M1396.8 779.9h2.7M1414.4 757.0h2.7M1385.3 753.5h2.7M1419.0 764.7h2.7M1402.2 746.9h2.7M1411.3 766.8h2.7M1426.4 756.4h2.7M1382.7 779.6h2.7M1422.9 767.5h2.7M1380.9 779.6h2.7M1392.9 759.7h2.7M1383.7 752.0h2.7M1419.8 750.6h2.7M1405.0 740.3h2.7M1408.3 753.0h2.7M1403.9 766.6h2.7M1394.2 750.2h2.7M1381.7 775.4h2.7M1413.7 768.2h2.7M1421.0 753.8h2.7M1390.8 773.9h2.7M1421.2 751.9h2.7M1386.9 766.9h2.7M1394.3 746.6h2.7M1410.0 756.0h2.7M1415.2 774.2h2.7M1422.5 741.2h2.7M1415.9 768.7h2.7M1394.8 768.7h2.7M1385.2 759.3h2.7M1416.0 775.0h2.7M1409.8 769.9h2.7M1389.0 758.0h2.7M1420.9 750.9h2.7M1426.3 761.6h2.7M1427.3 760.1h2.7M1386.6 777.1h2.7M1394.9 776.3h2.7M1404.5 756.2h2.7M1423.6 775.9h2.7M1394.7 761.2h2.7M1417.3 780.6h2.7M1411.1 770.3h2.7M1413.0 776.7h2.7M1411.2 775.8h2.7M1390.2 780.3h2.7M1402.5 765.1h2.7M1396.2 764.4h2.7M1382.7 737.7h2.7M1385.3 757.9h2.7M1384.6 759.3h2.7M1406.7 753.6h2.7M1427.2 760.8h2.7M1413.9 735.6h2.7M1407.2 761.5h2.7M1400.2 771.2h2.7M1419.7 764.9h2.7M1396.8 764.8h2.7M1419.6 778.9h2.7M1413.6 768.5h2.7M1387.9 753.6h2.7M1421.4 766.3h2.7M1394.8 755.4h2.7M1391.7 772.6h2.7M1406.2 751.6h2.7M1402.1 763.0h2.7M1380.3 742.4h2.7M1418.6 768.2h2.7M1416.3 735.7h2.7M1424.7 780.0h2.7M1417.6 733.7h2.7M1425.9 754.7h2.7M1421.3 755.4h2.7M1389.8 763.6h2.7M1396.0 753.1h2.7M1395.7 730.0h2.7M1423.9 767.2h2.7M1427.8 769.6h2.7M1416.3 749.4h2.7M1398.5 759.8h2.7M1413.0 755.5h2.7M1402.5 739.1h2.7M1383.4 778.8h2.7M1401.0 776.4h2.7M1412.5 768.8h2.7M1422.7 772.1h2.7M1405.2 777.6h2.7M1427.6 772.0h2.7M1389.2 743.4h2.7M1403.8 750.1h2.7M1390.7 760.0h2.7M1403.9 737.4h2.7M1412.6 770.2h2.7M1382.5 767.0h2.7M1424.6 730.9h2.7M1382.9 729.8h2.7M1391.9 766.3h2.7M1392.0 776.3h2.7M1417.8 755.8h2.7M1426.2 764.3h2.7M1395.4 779.1h2.7M1428.0 779.1h2.7M1383.0 757.9h2.7M1420.9 752.4h2.7M1426.8 763.3h2.7M1397.0 761.4h2.7M1385.1 758.5h2.7M1398.0 754.3h2.7M1421.4 767.0h2.7M1411.6 754.0h2.7M1420.9 751.4h2.7M1402.2 771.7h2.7M1412.4 763.2h2.7M1381.0 766.8h2.7M1388.7 764.8h2.7M1412.5 780.1h2.7M1408.7 770.6h2.7M1422.0 758.0h2.7M1402.7 768.5h2.7M1405.2 778.0h2.7M1380.2 767.3h2.7M1383.9 740.4h2.7M1392.9 774.8h2.7M1411.1 755.4h2.7M1413.7 750.7h2.7M1381.9 771.6h2.7M1394.0 761.0h2.7M1423.4 766.8h2.7M1421.1 777.3h2.7M1400.0 781.0h2.7M1394.1 769.5h2.7M1421.9 761.9h2.7M1427.9 766.3h2.7M1415.5 773.9h2.7M1404.1 772.2h2.7M1418.6 759.6h2.7M1383.1 771.3h2.7M1389.2 761.4h2.7M1398.5 739.0h2.7M1384.6 762.0h2.7M1414.9 763.8h2.7M1412.2 771.2h2.7M1421.6 754.4h2.7M1423.0 761.7h2.7M1417.6 755.1h2.7M1414.1 760.1h2.7M1399.8 739.1h2.7M1393.0 755.0h2.7M1427.0 757.9h2.7M1422.2 739.8h2.7M1423.8 766.4h2.7M1421.1 750.9h2.7M1397.5 750.8h2.7M1416.9 774.1h2.7M1418.8 776.2h2.7M1423.1 780.2h2.7M1398.0 753.0h2.7M1395.7 752.2h2.7M1382.5 758.5h2.7M1423.8 751.8h2.7M1409.8 776.7h2.7M1416.6 776.5h2.7M1386.3 766.0h2.7M1385.0 756.8h2.7M1417.8 761.7h2.7M1409.5 756.4h2.7M1382.8 770.1h2.7M1424.1 752.6h2.7M1425.1 766.6h2.7M1420.7 763.0h2.7M1405.1 774.3h2.7M1402.0 759.9h2.7M1411.5 776.1h2.7M1382.6 751.2h2.7M1414.8 755.2h2.7M1385.9 751.1h2.7M1410.3 765.2h2.7M1389.4 750.2h2.7M1415.3 752.2h2.7M1394.2 754.6h2.7M1405.5 763.5h2.7M1388.0 764.3h2.7M1387.8 762.7h2.7M1391.8 743.4h2.7M1408.4 776.4h2.7M1395.0 733.6h2.7M1414.9 750.3h2.7M1416.4 777.7h2.7M1380.0 756.0h2.7M1404.6 753.0h2.7M1407.7 756.6h2.7M1410.4 768.9h2.7M1394.1 760.2h2.7M1410.0 775.5h2.7M1396.8 777.8h2.7M1388.4 747.3h2.7M1399.6 764.7h2.7M1387.4 764.7h2.7M1402.9 768.8h2.7M1391.1 733.5h2.7M1385.6 737.3h2.7M1394.0 769.2h2.7M1427.5 765.2h2.7M1420.9 772.1h2.7M1403.0 772.5h2.7M1409.5 775.5h2.7M1382.8 766.3h2.7M1389.1 762.3h2.7M1390.0 765.0h2.7M1419.9 766.9h2.7M1384.5 772.9h2.7M1410.4 772.7h2.7M1426.6 752.4h2.7M1415.2 769.0h2.7M1404.4 763.9h2.7M1425.3 780.9h2.7M1421.8 750.8h2.7M1417.1 766.3h2.7M1386.7 754.8h2.7M1399.5 751.0h2.7M1388.7 777.8h2.7M1411.7 753.6h2.7M1409.2 756.0h2.7M1387.9 770.2h2.7M1417.3 772.7h2.7M1387.7 775.5h2.7M1393.1 750.5h2.7M1418.9 756.0h2.7M1394.8 757.2h2.7M1425.8 761.3h2.7M1403.1 768.6h2.7M1383.8 750.7h2.7M1388.4 730.5h2.7M1403.0 752.7h2.7M1397.1 777.4h2.7M1397.8 753.6h2.7M1385.9 772.6h2.7M1417.3 753.0h2.7M1387.8 778.0h2.7M1395.9 738.0h2.7M1410.0 751.6h2.7M1400.2 752.2h2.7M1407.6 758.2h2.7M1386.7 759.3h2.7M1418.1 773.7h2.7M1427.2 757.0h2.7M1415.7 772.0h2.7M1405.4 745.0h2.7M1394.2 730.2h2.7M1383.9 737.7h2.7M1405.0 771.3h2.7M1393.2 780.9h2.7M1382.7 777.0h2.7M1403.9 767.9h2.7M1394.3 766.5h2.7M1415.3 770.0h2.7M1394.2 775.2h2.7M1388.9 770.7h2.7M1416.5 755.3h2.7M1389.6 770.1h2.7M1386.4 771.2h2.7M1402.5 771.8h2.7M1408.3 732.4h2.7M1382.4 760.5h2.7M1420.6 779.2h2.7M1424.8 753.3h2.7M1423.9 778.7h2.7M1383.5 747.2h2.7M1391.9 774.9h2.7M1410.2 761.5h2.7M1414.6 772.9h2.7M1396.2 763.5h2.7M1406.6 765.9h2.7M1401.6 765.8h2.7M1382.7 771.2h2.7M1426.5 776.4h2.7M1427.4 740.7h2.7M1379.8 732.8h2.7M1401.0 753.6h2.7M1381.1 778.6h2.7M1394.0 750.8h2.7M1401.4 760.5h2.7M1402.0 775.4h2.7M1402.5 775.7h2.7M1388.8 773.3h2.7M1384.0 768.8h2.7M1413.2 763.6h2.7M1405.5 767.0h2.7M1389.8 771.1h2.7M1412.2 770.5h2.7M1427.6 774.4h2.7M1406.5 776.2h2.7M1405.5 769.7h2.7M1399.4 778.8h2.7M1401.4 775.2h2.7M1414.9 751.7h2.7M1386.3 755.1h2.7M1392.1 779.1h2.7M1402.1 765.7h2.7M1402.9 742.1h2.7M1403.0 764.1h2.7M1388.4 760.0h2.7M1397.3 766.0h2.7M1422.1 729.7h2.7M1403.2 754.4h2.7M1388.9 769.5h2.7M1408.2 777.3h2.7M1425.3 755.1h2.7M1385.4 779.8h2.7M1400.9 752.4h2.7M1425.2 747.0h2.7M1389.8 761.2h2.7M1381.2 772.8h2.7M1398.9 761.2h2.7M1412.6 777.7h2.7M1406.6 755.9h2.7M1392.6 760.7h2.7M1383.3 761.8h2.7M1405.6 745.4h2.7M1398.4 753.2h2.7M1423.2 750.7h2.7M1406.4 769.1h2.7M1386.6 764.5h2.7M1413.1 778.8h2.7M1417.2 762.2h2.7M1416.9 751.8h2.7M1416.4 766.3h2.7M1397.8 755.5h2.7M1421.5 755.1h2.7M1403.1 754.2h2.7M1424.9 778.3h2.7M1414.4 755.9h2.7M1387.6 767.2h2.7M1408.4 751.7h2.7M1395.8 756.4h2.7M1400.3 765.6h2.7M1402.3 766.1h2.7M1382.0 754.3h2.7M1424.6 759.4h2.7M1393.2 780.3h2.7M1424.3 751.5h2.7M1412.0 732.6h2.7M1399.7 757.8h2.7M1387.0 764.9h2.7M1423.7 753.0h2.7M1398.7 763.0h2.7M1400.0 761.6h2.7M1380.4 755.5h2.7M1385.8 759.3h2.7M1412.2 752.9h2.7M1418.1 760.9h2.7M1401.6 776.2h2.7M1409.1 735.2h2.7M1385.3 779.7h2.7M1413.8 763.4h2.7M1381.9 755.4h2.7M1407.1 775.4h2.7M1395.4 750.6h2.7M1397.5 757.9h2.7M1384.6 751.3h2.7M1397.2 757.7h2.7M1387.5 779.5h2.7M1411.9 779.0h2.7M1380.8 768.6h2.7M1406.3 772.8h2.7M1393.8 756.2h2.7M1418.0 765.1h2.7M1393.5 759.4h2.7M1421.6 749.9h2.7M1393.5 760.2h2.7M1394.6 752.1h2.7M1410.6 752.7h2.7M1421.6 780.1h2.7M1386.4 779.4h2.7M1405.7 778.1h2.7M1387.1 750.2h2.7M1410.0 752.6h2.7M1426.6 753.5h2.7M1409.2 775.5h2.7M1411.0 758.5h2.7M1425.1 750.4h2.7M1390.6 759.5h2.7M1392.0 770.6h2.7M1424.9 775.2h2.7M1420.9 756.7h2.7M1413.5 772.3h2.7M1427.7 751.1h2.7M1416.4 765.7h2.7M1421.2 771.8h2.7M1426.2 771.5h2.7M1418.2 735.3h2.7M1403.5 766.0h2.7M1424.8 764.1h2.7M1422.7 750.6h2.7M1386.3 781.2h2.7M1392.1 773.1h2.7M1414.4 762.6h2.7M1426.8 770.9h2.7M1426.9 734.7h2.7M1401.4 754.3h2.7M1403.5 781.2h2.7M1386.6 758.7h2.7M1392.3 779.9h2.7M1410.6 733.4h2.7M1425.2 776.2h2.7M1391.7 766.8h2.7M1422.0 785.1h2.7M1427.3 788.4h2.7M1416.3 782.8h2.7M1393.1 784.4h2.7M1406.9 787.3h2.7M1404.3 787.4h2.7M1427.3 785.7h2.7M1393.5 788.9h2.7M1414.0 789.2h2.7M1410.4 787.4h2.7M1411.2 791.6h2.7M1403.5 784.3h2.7M1410.1 782.6h2.7M1424.3 790.9h2.7M1427.3 788.2h2.7M1409.0 782.5h2.7M1422.2 789.0h2.7M1422.2 791.0h2.7M1421.1 785.8h2.7M1395.6 784.6h2.7M1424.7 789.7h2.7M1423.1 790.3h2.7M1413.6 784.4h2.7M1408.9 784.7h2.7M1423.6 784.7h2.7M1424.4 789.8h2.7M1419.5 787.8h2.7M1395.6 783.2h2.7M1392.8 788.6h2.7M1396.8 787.1h2.7M1423.8 787.2h2.7M1421.8 787.3h2.7M1415.3 790.2h2.7M1397.4 786.4h2.7M1400.8 783.9h2.7M1398.3 788.4h2.7M1413.9 788.1h2.7M1396.3 784.9h2.7M1403.0 781.8h2.7M1437.5 787.9h2.7M1487.4 785.2h2.7M1549.0 784.7h2.7M1511.8 782.4h2.7M1594.3 788.0h2.7M1509.7 785.9h2.7M1584.2 781.4h2.7M1528.1 785.7h2.7M1534.6 783.2h2.7M1592.8 785.6h2.7M1472.6 781.4h2.7M1547.1 784.4h2.7M1429.6 783.6h2.7M1431.0 788.4h2.7M1503.9 782.0h2.7M1591.2 781.6h2.7M1544.3 785.1h2.7M1494.2 787.5h2.7M1528.7 785.3h2.7M1506.3 781.8h2.7M1568.0 780.9h2.7M1579.0 784.5h2.7M1582.4 781.0h2.7M1487.6 788.1h2.7M1500.2 783.0h2.7M1553.7 782.4h2.7M1530.6 788.0h2.7M1481.4 786.9h2.7M1450.7 782.0h2.7M1469.0 783.7h2.7M1604.5 786.9h2.7M1584.2 783.8h2.7M1483.1 785.0h2.7M1493.8 785.9h2.7M1429.1 782.8h2.7M1594.2 785.1h2.7M1597.0 782.2h2.7M1483.5 787.1h2.7M1475.0 784.9h2.7M1562.9 783.6h2.7M1451.7 783.1h2.7M1601.9 787.6h2.7M1449.9 784.9h2.7M1471.3 784.1h2.7M1458.8 781.7h2.7M1469.1 788.6h2.7M1604.3 785.3h2.7M1544.6 782.3h2.7M1602.6 781.7h2.7M1505.0 783.5h2.7M1446.0 784.5h2.7M1563.5 783.1h2.7M1432.2 784.7h2.7M1528.8 782.8h2.7M1508.2 788.6h2.7M1507.3 781.1h2.7M1505.1 787.2h2.7M1548.5 781.2h2.7M1452.8 786.4h2.7M1482.0 782.5h2.7M1463.3 786.1h2.7M1490.3 784.8h2.7M1480.1 782.6h2.7M1586.6 781.1h2.7M1513.4 786.1h2.7M1510.5 786.4h2.7M1429.1 787.9h2.7M1515.3 787.5h2.7M1461.9 784.1h2.7M1525.7 781.0h2.7M1498.9 786.2h2.7M1546.8 788.4h2.7M1545.9 786.9h2.7M1549.3 783.2h2.7M1497.4 782.3h2.7M1441.1 782.1h2.7M1482.2 780.8h2.7M1568.6 787.8h2.7M1515.6 781.0h2.7M1608.3 786.3h2.7M1457.8 788.2h2.7M1483.0 787.3h2.7M1545.4 788.1h2.7M1565.8 784.6h2.7M1596.7 784.0h2.7M1499.1 786.6h2.7M1590.2 782.3h2.7M1528.6 787.3h2.7M1496.1 788.9h2.7M1559.6 783.1h2.7M1493.9 783.0h2.7M1432.0 784.1h2.7M1560.6 788.3h2.7M1598.2 785.9h2.7M1590.1 782.1h2.7M1575.2 786.7h2.7M1439.9 784.5h2.7M1602.9 786.3h2.7M1514.1 785.5h2.7M1458.3 782.3h2.7M1534.6 785.4h2.7M1555.3 787.7h2.7M1516.3 782.9h2.7M1476.1 785.9h2.7M1606.2 784.9h2.7M1578.8 782.7h2.7M1572.7 786.6h2.7M1452.2 782.0h2.7M1487.4 784.4h2.7M1470.6 780.9h2.7M1432.7 784.4h2.7M1610.4 784.2h2.7M1478.1 782.3h2.7M1509.3 784.8h2.7M1579.8 787.6h2.7M1479.2 788.3h2.7M1538.9 787.0h2.7M1514.0 782.4h2.7M1588.9 788.7h2.7M1596.3 783.1h2.7M1450.7 783.3h2.7M1523.0 781.8h2.7M1475.3 782.5h2.7M1557.4 788.1h2.7M1524.0 788.3h2.7M1523.7 788.7h2.7M1480.3 787.5h2.7M1518.3 782.6h2.7M1533.7 787.8h2.7M1437.6 788.7h2.7M1593.5 784.3h2.7M1532.5 786.8h2.7M1592.3 781.2h2.7M1488.1 786.1h2.7M1531.0 787.3h2.7M1446.8 785.1h2.7M1451.4 788.0h2.7M1460.8 783.0h2.7M1546.9 782.2h2.7M1527.4 781.8h2.7M1445.3 787.6h2.7M1532.5 787.7h2.7M1470.6 782.8h2.7M1562.3 787.1h2.7M1523.0 788.9h2.7M1507.8 781.6h2.7M1586.4 788.6h2.7M1530.4 787.6h2.7M1453.7 781.4h2.7M1588.4 788.5h2.7M1536.6 783.9h2.7M1428.2 784.7h2.7M1493.1 788.0h2.7M1508.1 786.7h2.7M1533.2 785.1h2.7M1442.0 781.4h2.7M1551.6 787.2h2.7M1488.1 788.2h2.7M1561.4 785.9h2.7M1590.1 786.2h2.7M1518.0 786.1h2.7M1447.4 786.1h2.7M1598.7 786.7h2.7M1575.9 787.9h2.7M1505.8 784.4h2.7M1568.7 788.5h2.7M1499.3 787.0h2.7M1571.2 782.0h2.7M1447.9 783.1h2.7M1484.0 787.6h2.7M1453.4 784.1h2.7M1434.1 786.7h2.7M1434.3 780.9h2.7M1485.2 783.6h2.7M1489.5 783.5h2.7M1450.3 782.1h2.7M1470.3 786.6h2.7M1559.4 783.3h2.7M1546.8 784.5h2.7M1460.8 786.8h2.7M1460.7 788.0h2.7M1470.2 786.0h2.7M1577.6 784.2h2.7M1464.6 786.9h2.7M1449.3 782.8h2.7M1532.6 781.8h2.7M1552.2 784.8h2.7M1503.1 787.6h2.7M1428.6 784.0h2.7M1493.3 784.3h2.7M1479.3 787.6h2.7M1486.0 788.0h2.7M1538.8 784.5h2.7M1598.3 785.3h2.7M1508.4 785.2h2.7M1518.4 781.3h2.7M1550.9 786.8h2.7M1501.5 784.2h2.7M1492.2 781.2h2.7M1497.6 781.9h2.7M1551.5 788.0h2.7M1462.9 784.4h2.7M1552.0 785.9h2.7M1475.8 785.1h2.7M1454.5 786.1h2.7M1592.3 788.4h2.7M1504.5 785.5h2.7M1442.1 784.9h2.7M1554.5 784.4h2.7M1599.9 786.9h2.7M1573.3 787.9h2.7M1541.9 788.8h2.7M1581.1 781.3h2.7M1485.7 788.6h2.7M1460.4 784.8h2.7M1598.2 781.5h2.7M1584.8 787.4h2.7M1561.8 786.2h2.7M1439.5 783.5h2.7M1500.5 780.9h2.7M1501.4 786.2h2.7M1500.6 787.9h2.7M1510.1 780.9h2.7M1597.2 782.4h2.7M1457.8 786.4h2.7M1491.2 788.5h2.7M1465.8 781.5h2.7M1514.7 785.6h2.7M1455.9 783.0h2.7M1607.3 787.4h2.7M1498.3 783.2h2.7M1573.3 788.6h2.7M1540.9 787.8h2.7M1440.7 782.5h2.7M1457.8 784.2h2.7M1468.7 781.0h2.7M1459.8 782.8h2.7M1457.4 781.4h2.7M1534.9 783.9h2.7M1588.9 782.1h2.7M1431.6 787.6h2.7M1438.7 787.5h2.7M1571.0 783.3h2.7M1451.0 786.0h2.7M1555.5 784.8h2.7M1605.3 781.7h2.7M1597.0 785.1h2.7M1472.5 787.8h2.7M1525.6 809.5h2.7M1598.5 808.8h2.7M1446.0 808.1h2.7M1478.4 809.4h2.7M1431.1 813.4h2.7M1469.9 810.0h2.7M1431.9 809.7h2.7M1488.2 807.7h2.7M1460.6 805.9h2.7M1532.4 809.2h2.7M1448.2 818.7h2.7M1450.2 821.6h2.7M1595.5 808.6h2.7M1513.4 812.5h2.7M1599.2 807.4h2.7M1454.7 816.0h2.7M1534.2 808.4h2.7M1566.4 807.5h2.7M1529.5 815.2h2.7M1533.9 824.0h2.7M1494.2 812.4h2.7M1454.0 814.0h2.7M1430.5 805.6h2.7M1552.6 807.0h2.7M1482.3 822.0h2.7M1463.5 806.3h2.7M1501.8 818.1h2.7M1599.8 808.0h2.7M1482.2 812.2h2.7M1471.7 813.1h2.7M1525.8 817.3h2.7M1449.7 805.7h2.7M1554.5 806.6h2.7M1462.7 817.1h2.7M1476.4 815.8h2.7M1457.7 817.6h2.7M1489.2 806.2h2.7M1537.1 805.7h2.7M1461.2 820.8h2.7M1497.8 822.4h2.7M1527.9 812.0h2.7M1496.5 805.2h2.7M1446.5 807.8h2.7M1531.9 805.9h2.7M1491.7 835.7h2.7M1608.5 808.8h2.7M1607.4 808.1h2.7M1508.1 810.5h2.7M1479.2 812.6h2.7M1550.1 815.1h2.7M1506.4 813.7h2.7M1447.2 808.7h2.7M1517.2 811.8h2.7M1499.8 808.7h2.7M1591.6 807.4h2.7M1453.1 812.1h2.7M1461.4 810.2h2.7M1433.0 816.0h2.7M1474.4 817.7h2.7M1526.1 810.2h2.7M1566.8 818.5h2.7M1486.2 808.2h2.7M1441.2 820.9h2.7M1462.0 820.3h2.7M1550.2 805.4h2.7M1572.6 808.0h2.7M1503.4 811.1h2.7M1584.6 816.3h2.7M1514.8 811.2h2.7M1572.8 807.4h2.7M1457.7 824.8h2.7M1476.4 814.5h2.7M1562.5 805.9h2.7M1434.0 808.1h2.7M1555.4 817.2h2.7M1514.1 807.7h2.7M1453.7 812.6h2.7M1582.2 808.0h2.7M1465.0 825.8h2.7M1574.7 806.9h2.7M1469.2 807.0h2.7M1598.3 811.2h2.7M1455.6 815.3h2.7M1516.7 809.7h2.7M1508.2 806.7h2.7M1564.2 806.3h2.7M1543.9 810.1h2.7M1484.8 823.4h2.7M1451.9 806.9h2.7M1552.1 806.9h2.7M1432.9 818.4h2.7M1556.8 815.3h2.7M1445.0 821.9h2.7M1588.4 825.7h2.7M1513.4 816.9h2.7M1512.7 823.6h2.7M1523.7 806.0h2.7M1605.6 814.2h2.7M1528.5 818.6h2.7M1479.7 805.9h2.7M1608.7 816.5h2.7M1457.7 820.3h2.7M1518.7 816.4h2.7M1531.3 815.6h2.7M1472.9 810.5h2.7M1510.5 809.4h2.7M1543.0 811.7h2.7M1601.3 806.8h2.7M1595.7 805.8h2.7M1577.3 820.4h2.7M1575.7 808.7h2.7M1542.8 805.7h2.7M1511.3 819.5h2.7M1485.4 811.9h2.7M1505.9 818.6h2.7M1575.3 813.5h2.7M1470.4 814.6h2.7M1593.4 810.0h2.7M1509.9 806.6h2.7M1469.1 826.2h2.7M1455.5 807.2h2.7M1503.2 814.2h2.7M1476.8 806.2h2.7M1459.0 820.4h2.7M1578.3 807.7h2.7M1576.8 806.9h2.7M1524.4 818.2h2.7M1604.4 822.0h2.7M1447.0 806.2h2.7M1511.2 806.4h2.7M1455.5 817.8h2.7M1445.6 810.6h2.7M1452.2 815.1h2.7M1559.6 808.0h2.7M1437.5 816.6h2.7M1583.6 821.8h2.7M1527.1 807.6h2.7M1573.3 827.0h2.7M1513.4 810.0h2.7M1574.3 808.7h2.7M1577.1 807.2h2.7M1489.6 805.8h2.7M1486.6 806.8h2.7M1566.0 810.8h2.7M1574.2 814.6h2.7M1456.1 815.3h2.7M1576.5 816.3h2.7M1444.0 816.5h2.7M1565.4 819.6h2.7M1566.6 822.3h2.7M1587.9 814.3h2.7M1484.8 807.1h2.7M1520.9 809.1h2.7M1528.3 811.0h2.7M1593.6 821.9h2.7M1492.2 816.8h2.7M1447.0 819.2h2.7M1572.4 811.2h2.7M1503.4 825.6h2.7M1470.8 805.9h2.7M1453.9 809.2h2.7M1569.7 816.0h2.7M1584.3 808.1h2.7M1467.7 813.5h2.7M1538.6 808.4h2.7M1544.8 808.3h2.7M1566.5 812.5h2.7M1576.2 817.5h2.7M1445.2 808.3h2.7M1564.1 807.6h2.7M1472.6 806.4h2.7M1433.2 808.2h2.7M1588.8 805.5h2.7M1516.7 808.7h2.7M1489.7 812.5h2.7M1503.3 817.2h2.7M1519.6 821.2h2.7M1496.5 816.0h2.7M1574.5 805.7h2.7M1566.5 826.1h2.7M1505.4 818.1h2.7M1451.9 811.3h2.7M1547.7 821.8h2.7M1558.8 807.2h2.7M1549.6 814.5h2.7M1585.5 809.6h2.7M1576.3 805.7h2.7M1556.7 805.5h2.7M1600.6 814.7h2.7M1444.7 810.5h2.7M1465.3 811.9h2.7M1535.2 816.7h2.7M1583.6 821.5h2.7M1559.2 818.1h2.7M1484.9 814.1h2.7M1556.5 817.8h2.7M1557.8 809.1h2.7M1544.3 805.8h2.7M1445.8 807.1h2.7M1441.4 811.6h2.7M1601.4 812.9h2.7M1502.1 806.6h2.7M1557.0 809.6h2.7M1466.9 808.0h2.7M1534.6 826.4h2.7M1428.4 812.8h2.7M1448.9 807.1h2.7M1499.5 806.8h2.7M1488.6 811.7h2.7M1518.7 826.4h2.7M1571.2 808.7h2.7M1589.9 834.5h2.7M1431.8 814.3h2.7M1538.5 817.9h2.7M1587.7 814.3h2.7M1521.2 821.7h2.7M1604.6 809.4h2.7M1533.8 810.8h2.7M1592.8 809.6h2.7M1556.6 816.2h2.7M1591.6 808.0h2.7M1546.6 813.5h2.7M1469.9 809.5h2.7M1499.6 805.9h2.7M1577.6 810.4h2.7M1448.7 813.2h2.7M1570.6 833.1h2.7M1569.2 821.6h2.7M1472.5 808.2h2.7M1586.4 809.6h2.7M1479.3 818.7h2.7M1465.0 815.6h2.7M1486.7 806.7h2.7M1582.7 815.5h2.7M1457.6 808.1h2.7M1528.5 810.1h2.7M1487.8 805.4h2.7M1561.3 811.5h2.7M1602.2 808.4h2.7M1525.2 811.0h2.7M1443.7 817.1h2.7M1435.8 819.2h2.7M1498.6 811.6h2.7M1434.1 810.1h2.7M1501.1 820.4h2.7M1512.7 809.5h2.7M1437.5 814.0h2.7M1520.7 815.2h2.7M1506.4 812.5h2.7M1451.3 812.1h2.7M1586.6 805.3h2.7M1553.7 813.0h2.7M1485.4 810.9h2.7M1562.8 812.3h2.7M1502.6 826.0h2.7M1610.3 808.4h2.7M1540.6 805.9h2.7M1448.0 811.7h2.7M1520.3 809.6h2.7M1466.2 810.6h2.7M1446.8 805.9h2.7M1464.3 806.3h2.7M1463.0 820.4h2.7M1530.0 810.2h2.7M1457.3 809.6h2.7M1530.3 812.7h2.7M1585.9 807.6h2.7M1522.5 812.5h2.7M1550.0 808.2h2.7M1574.4 816.5h2.7M1526.6 806.4h2.7M1578.5 812.1h2.7M1514.5 805.8h2.7M1522.3 813.8h2.7M1581.9 806.7h2.7M1534.9 809.2h2.7M1575.9 806.5h2.7M1609.0 811.6h2.7M1468.9 807.3h2.7M1468.6 809.1h2.7M1596.8 811.8h2.7M1467.2 806.4h2.7M1574.1 807.3h2.7M1504.3 811.2h2.7M1540.3 809.4h2.7M1480.7 820.5h2.7M1452.6 813.7h2.7M1552.0 811.5h2.7M1464.6 809.3h2.7M1587.2 814.6h2.7M1488.9 827.0h2.7M1589.5 816.4h2.7M1525.1 806.6h2.7M1555.4 808.1h2.7M1503.1 808.7h2.7M1546.5 814.9h2.7M1578.0 821.4h2.7M1510.4 815.7h2.7M1507.8 806.9h2.7M1471.9 820.5h2.7M1555.6 810.1h2.7M1547.6 824.1h2.7M1436.1 813.1h2.7M1585.8 814.9h2.7M1512.7 807.8h2.7M1499.1 820.7h2.7M1529.1 813.5h2.7M1487.1 815.0h2.7M1474.2 822.5h2.7M1453.3 808.4h2.7M1547.3 806.2h2.7M1506.4 810.9h2.7M1518.3 817.6h2.7M1446.3 824.2h2.7M1605.5 809.7h2.7M1496.0 810.8h2.7M1480.7 815.0h2.7M1524.8 816.7h2.7M1439.6 826.7h2.7M1595.8 820.0h2.7M1435.8 826.6h2.7M1494.6 816.7h2.7M1561.1 811.1h2.7M1585.3 812.2h2.7M1562.2 809.8h2.7M1484.6 823.9h2.7M1500.0 817.6h2.7M1584.6 809.4h2.7M1590.7 808.3h2.7M1565.2 819.5h2.7M1551.3 811.0h2.7M1515.8 810.3h2.7M1513.1 814.0h2.7M1484.4 806.5h2.7M1581.5 818.3h2.7M1568.1 809.1h2.7M1450.0 808.1h2.7M1562.7 807.3h2.7M1503.5 806.8h2.7M1472.1 818.4h2.7M1574.3 816.1h2.7M1469.9 807.3h2.7M1513.6 811.5h2.7M1444.6 814.8h2.7M1581.7 805.9h2.7M1505.1 809.1h2.7M1469.2 805.1h2.7M1605.6 809.0h2.7M1488.1 806.9h2.7M1539.5 817.5h2.7M1583.6 809.9h2.7M1569.8 814.9h2.7M1451.5 808.1h2.7M1539.5 808.8h2.7M1444.6 811.8h2.7M1561.7 822.0h2.7M1499.0 812.9h2.7M1470.7 814.2h2.7M1562.4 824.0h2.7M1575.6 811.9h2.7M1476.4 810.0h2.7M1478.9 811.1h2.7M1597.3 808.2h2.7M1465.1 807.5h2.7M1467.4 814.3h2.7M1538.6 807.0h2.7M1542.9 829.3h2.7M1571.9 805.6h2.7M1513.7 822.1h2.7M1461.8 813.9h2.7M1503.4 806.4h2.7M1555.6 807.9h2.7M1596.7 821.6h2.7M1514.8 810.2h2.7M1500.1 824.7h2.7M1563.7 814.8h2.7M1508.3 812.2h2.7M1493.1 824.6h2.7M1594.3 807.9h2.7M1469.6 807.9h2.7M1495.5 810.7h2.7M1539.9 815.3h2.7M1561.4 806.7h2.7M1552.7 808.8h2.7M1558.4 811.4h2.7M1456.4 809.1h2.7M1431.0 808.5h2.7M1607.8 817.3h2.7M1562.1 815.6h2.7M1562.9 828.0h2.7M1500.0 815.2h2.7M1443.8 819.0h2.7M1602.7 807.4h2.7M1560.8 809.1h2.7M1533.0 810.9h2.7M1475.8 822.2h2.7M1443.8 809.0h2.7M1445.4 805.9h2.7M1605.4 808.4h2.7M1443.4 826.7h2.7M1504.7 810.7h2.7M1596.6 808.7h2.7M1590.1 809.2h2.7M1556.7 814.2h2.7M1438.4 814.8h2.7M1455.9 807.1h2.7M1591.9 811.9h2.7M1584.7 806.7h2.7M1489.1 812.1h2.7M1436.4 817.4h2.7M1600.0 824.5h2.7M1507.0 813.3h2.7M1428.0 813.7h2.7M1486.7 816.1h2.7M1544.1 809.4h2.7M1556.0 805.4h2.7M1505.0 810.7h2.7M1508.5 810.7h2.7M1509.8 816.9h2.7M1444.2 811.1h2.7M1535.5 809.7h2.7M1445.2 812.0h2.7M1473.2 813.6h2.7M1530.8 810.6h2.7M1432.8 811.8h2.7M1488.4 812.7h2.7M1448.6 815.0h2.7M1533.4 822.4h2.7M1541.8 806.7h2.7M1555.1 826.9h2.7M1540.8 823.2h2.7M1461.6 806.0h2.7M1463.1 815.8h2.7M1549.1 808.4h2.7M1453.6 811.6h2.7M1505.9 816.8h2.7M1586.0 806.1h2.7M1464.0 822.4h2.7M1604.6 810.0h2.7M1491.0 806.5h2.7M1490.2 823.2h2.7M1478.9 809.9h2.7M1529.1 806.9h2.7M1591.1 805.1h2.7M1532.7 806.1h2.7M1469.5 812.9h2.7M1459.1 814.0h2.7M1538.7 815.3h2.7M1604.6 812.7h2.7M1447.6 807.4h2.7M1591.8 805.7h2.7M1517.9 819.7h2.7M1485.3 807.1h2.7M1580.5 819.0h2.7M1584.4 812.4h2.7M1582.0 806.0h2.7M1492.9 805.2h2.7M1514.0 810.0h2.7M1474.0 807.4h2.7M1467.5 813.0h2.7M1461.3 806.7h2.7M1543.0 818.6h2.7M1484.3 808.0h2.7M1582.5 816.4h2.7M1530.3 809.4h2.7M1481.1 817.8h2.7M1444.6 808.1h2.7M1559.9 824.2h2.7M1566.8 805.2h2.7M1511.7 819.0h2.7M1476.5 807.3h2.7M1473.5 812.4h2.7M1510.4 815.6h2.7M1526.1 805.4h2.7M1516.1 820.1h2.7M1485.7 809.8h2.7M1581.6 806.8h2.7M1475.9 826.4h2.7M1439.5 811.2h2.7M1532.8 815.1h2.7M1480.7 817.3h2.7M1565.1 809.9h2.7M1544.8 818.1h2.7M1523.1 809.3h2.7M1450.5 817.0h2.7M1560.9 818.8h2.7M1457.3 805.4h2.7M1519.2 826.5h2.7M1487.6 822.9h2.7M1566.9 816.2h2.7M1503.6 812.3h2.7M1519.5 806.4h2.7M1603.5 807.7h2.7M1595.8 810.0h2.7M1446.6 817.6h2.7M1531.2 811.9h2.7M1533.1 808.2h2.7M1463.5 814.1h2.7M1462.8 810.0h2.7M1490.2 807.0h2.7M1466.9 832.9h2.7M1559.9 806.1h2.7M1456.7 818.4h2.7M1571.8 820.5h2.7M1512.8 819.2h2.7M1524.0 808.0h2.7M1573.0 828.6h2.7M1571.2 811.7h2.7M1557.7 826.6h2.7M1512.5 811.2h2.7M1523.8 817.7h2.7M1597.5 810.4h2.7M1601.9 812.8h2.7M1606.5 811.3h2.7M1604.1 808.2h2.7M1447.6 818.4h2.7M1510.7 808.6h2.7M1504.7 821.0h2.7M1477.3 807.5h2.7M1504.1 811.7h2.7M1434.3 809.0h2.7M1536.8 806.2h2.7M1435.0 815.8h2.7M1567.6 828.3h2.7M1541.4 805.8h2.7M1436.4 813.5h2.7M1597.2 807.1h2.7M1521.5 814.0h2.7M1550.3 806.1h2.7M1441.5 817.5h2.7M1478.7 808.3h2.7M1524.1 811.4h2.7M1503.3 805.5h2.7M1604.3 810.2h2.7M1482.8 806.6h2.7M1580.4 817.3h2.7M1595.9 807.8h2.7M1490.6 809.3h2.7M1505.5 808.2h2.7M1565.8 824.8h2.7M1531.1 818.4h2.7M1463.9 807.7h2.7M1565.0 821.2h2.7M1497.0 813.3h2.7M1513.2 821.1h2.7M1469.2 814.0h2.7M1563.5 809.2h2.7M1604.6 826.1h2.7M1468.6 818.5h2.7M1569.4 816.9h2.7M1529.2 815.8h2.7M1487.4 818.2h2.7M1462.7 806.5h2.7M1446.9 814.3h2.7M1525.1 805.8h2.7M1523.2 822.1h2.7M1487.2 819.9h2.7M1474.7 811.9h2.7M1600.0 805.7h2.7M1462.0 810.4h2.7M1463.3 812.0h2.7M1472.0 815.3h2.7M1581.8 805.6h2.7M1482.0 810.4h2.7M1502.5 813.7h2.7M1513.2 806.8h2.7M1523.3 818.6h2.7M1567.0 812.7h2.7M1437.5 816.1h2.7M1431.8 809.2h2.7M1454.3 821.3h2.7M1501.7 810.0h2.7M1436.3 812.7h2.7M1559.2 812.1h2.7M1445.5 815.1h2.7M1556.4 817.3h2.7M1523.7 811.9h2.7M1594.3 806.5h2.7M1558.0 814.6h2.7M1554.5 805.3h2.7M1508.8 811.6h2.7M1498.6 813.9h2.7M1536.3 815.6h2.7M1448.5 808.0h2.7M1454.9 822.7h2.7M1445.1 807.1h2.7M1519.5 809.4h2.7M1580.0 819.6h2.7M1453.5 807.3h2.7M1471.1 809.7h2.7M1606.1 817.4h2.7M1461.8 807.7h2.7M1580.4 810.9h2.7M1453.1 814.9h2.7M1443.6 816.5h2.7M1601.2 822.7h2.7M1528.1 824.2h2.7M1444.8 811.2h2.7M1537.6 811.1h2.7M1534.6 812.9h2.7M1528.0 816.9h2.7M1492.8 812.1h2.7M1558.5 806.2h2.7M1443.2 805.8h2.7M1590.8 809.3h2.7M1599.6 806.9h2.7M1585.3 820.4h2.7M1605.1 805.3h2.7M1431.3 812.7h2.7M1443.5 806.7h2.7M1516.6 807.4h2.7M1553.9 810.9h2.7M1461.5 820.4h2.7M1457.7 805.5h2.7M1555.6 813.0h2.7M1481.7 806.8h2.7M1461.9 809.5h2.7M1475.0 809.2h2.7M1446.1 812.3h2.7M1443.1 809.9h2.7M1553.9 808.1h2.7M1450.7 814.0h2.7M1540.4 820.6h2.7M1436.7 818.5h2.7M1498.7 817.4h2.7M1535.4 816.3h2.7M1459.5 809.4h2.7M1496.9 823.6h2.7M1478.7 816.3h2.7M1479.7 820.5h2.7M1436.8 817.2h2.7M1470.4 815.1h2.7M1527.2 811.1h2.7M1486.4 805.2h2.7M1564.8 814.4h2.7M1457.0 817.9h2.7M1443.5 809.9h2.7M1576.1 814.7h2.7M1537.1 809.9h2.7M1556.1 816.7h2.7M1567.0 810.9h2.7M1512.2 818.2h2.7M1530.4 810.3h2.7M1566.9 809.5h2.7M1555.5 815.4h2.7M1596.6 810.9h2.7M1524.7 808.4h2.7M1589.3 814.4h2.7M1540.9 809.0h2.7M1512.9 819.2h2.7M1602.3 805.2h2.7M1508.0 813.8h2.7M1440.0 817.2h2.7M1433.7 814.3h2.7M1608.2 809.6h2.7M1431.2 810.0h2.7M1469.0 810.0h2.7M1477.3 814.3h2.7M1574.5 815.6h2.7M1580.8 817.0h2.7M1588.0 816.7h2.7M1466.1 814.7h2.7M1464.2 823.1h2.7M1473.1 805.8h2.7M1465.9 814.0h2.7M1443.7 806.0h2.7M1526.4 807.9h2.7M1593.7 807.3h2.7M1596.9 809.8h2.7M1440.1 808.0h2.7M1519.0 809.2h2.7M1500.1 808.9h2.7M1522.2 818.8h2.7M1464.6 822.6h2.7M1521.1 816.0h2.7M1493.1 816.5h2.7M1438.9 820.3h2.7M1527.9 807.0h2.7M1603.4 810.4h2.7M1478.2 817.5h2.7M1461.3 810.7h2.7M1471.5 817.6h2.7M1597.0 807.5h2.7M1583.2 812.0h2.7M1479.2 820.2h2.7M1529.8 826.5h2.7M1468.1 813.3h2.7M1592.3 786.1h2.7M1571.4 792.9h2.7M1546.0 808.9h2.7M1603.7 804.3h2.7M1531.3 788.1h2.7M1594.9 787.3h2.7M1555.1 809.9h2.7M1508.1 792.0h2.7M1470.5 804.3h2.7M1513.4 787.5h2.7M1447.7 783.9h2.7M1548.2 791.4h2.7M1553.3 794.2h2.7M1510.7 801.2h2.7M1574.6 802.0h2.7M1591.8 804.4h2.7M1552.2 788.9h2.7M1539.9 789.2h2.7M1518.9 801.6h2.7M1602.8 790.5h2.7M1461.1 793.2h2.7M1432.7 807.7h2.7M1564.3 806.2h2.7M1438.5 795.3h2.7M1608.7 798.6h2.7M1566.7 806.8h2.7M1456.1 810.5h2.7M1436.5 808.4h2.7M1450.2 785.6h2.7M1463.8 810.0h2.7M1429.7 797.8h2.7M1571.9 794.9h2.7M1559.4 803.9h2.7M1552.4 799.0h2.7M1458.2 783.8h2.7M1516.9 785.2h2.7M1593.4 786.0h2.7M1454.1 806.9h2.7M1571.7 784.6h2.7M1441.1 786.3h2.7M1473.7 795.5h2.7M1577.5 795.5h2.7M1502.2 809.8h2.7M1570.9 794.9h2.7M1475.3 810.0h2.7M1509.9 807.6h2.7M1605.2 809.4h2.7M1437.1 791.2h2.7M1599.9 799.5h2.7M1453.6 802.6h2.7M1559.7 802.7h2.7M1471.9 785.7h2.7M1474.3 797.9h2.7M1460.5 805.1h2.7M1451.1 795.4h2.7M1574.2 810.0h2.7M1574.2 795.0h2.7M1600.5 785.9h2.7M1468.5 806.8h2.7M1501.1 794.5h2.7M1598.3 789.1h2.7M1540.2 787.1h2.7M1449.5 788.8h2.7M1499.4 798.2h2.7M1602.3 801.9h2.7M1428.0 803.8h2.7M1449.7 795.7h2.7M1510.8 797.4h2.7M1481.3 788.9h2.7M1588.7 809.3h2.7M1539.7 809.8h2.7M1458.1 795.1h2.7M1497.3 797.8h2.7M1518.7 785.4h2.7M1588.7 798.0h2.7M1437.6 802.1h2.7M1440.7 806.7h2.7M1574.0 789.7h2.7M1490.0 789.1h2.7M1497.5 810.1h2.7M1574.3 794.0h2.7M1593.9 802.4h2.7M1434.9 787.4h2.7M1506.6 793.6h2.7M1567.6 784.7h2.7M1473.5 805.6h2.7M1522.7 801.6h2.7M1575.6 787.7h2.7M1518.1 788.6h2.7M1503.5 787.5h2.7M1476.9 783.8h2.7M1601.9 799.8h2.7M1600.3 790.0h2.7M1565.7 798.6h2.7M1483.9 784.2h2.7M1468.3 788.9h2.7M1540.4 787.4h2.7M1512.4 806.2h2.7M1516.9 804.0h2.7M1605.1 789.0h2.7M1481.9 799.4h2.7M1459.8 809.1h2.7M1518.1 795.1h2.7M1449.5 802.5h2.7M1490.1 791.2h2.7M1451.3 788.5h2.7M1580.3 797.8h2.7M1508.0 803.3h2.7M1467.4 802.9h2.7M1584.3 790.5h2.7M1573.6 789.3h2.7M1547.8 800.3h2.7M1452.5 791.7h2.7M1563.2 806.9h2.7M1531.5 791.6h2.7M1428.6 789.5h2.7M1503.8 807.8h2.7M1444.5 783.6h2.7M1553.7 785.4h2.7M1446.2 796.4h2.7M1593.3 790.0h2.7M1559.5 804.7h2.7M1436.5 790.8h2.7M1430.6 795.2h2.7M1527.8 795.5h2.7M1544.1 785.6h2.7M1521.2 786.0h2.7M1565.9 794.8h2.7M1513.2 806.7h2.7M1569.0 809.2h2.7M1432.5 788.0h2.7M1444.3 803.7h2.7M1585.3 790.3h2.7M1504.4 794.7h2.7M1518.4 787.3h2.7M1546.3 809.5h2.7M1545.9 792.1h2.7M1453.5 800.2h2.7M1471.4 802.5h2.7M1479.2 804.4h2.7M1556.7 789.9h2.7M1468.8 805.4h2.7M1458.2 805.0h2.7M1584.2 784.3h2.7M1537.9 792.2h2.7M1572.4 792.6h2.7M1600.1 806.9h2.7M1448.3 798.7h2.7M1572.4 794.7h2.7M1523.9 802.5h2.7M1504.3 791.2h2.7M1526.5 785.1h2.7M1504.7 800.8h2.7M1607.4 788.3h2.7M1598.7 798.0h2.7M1570.8 798.0h2.7M1447.9 799.6h2.7M1447.2 794.8h2.7M1584.8 793.3h2.7M1506.7 794.8h2.7M1538.6 800.8h2.7M1566.1 808.2h2.7M1482.3 796.4h2.7M1601.9 796.9h2.7M1524.0 790.5h2.7M1468.3 799.3h2.7M1498.2 808.1h2.7M1584.2 796.6h2.7M1508.4 799.3h2.7M1548.8 795.9h2.7M1559.1 797.3h2.7M1524.7 799.2h2.7M1510.7 785.7h2.7M1602.3 787.3h2.7M1535.2 789.7h2.7M1555.9 789.3h2.7M1562.9 806.1h2.7M1609.2 797.5h2.7M1539.6 793.9h2.7M1539.4 795.0h2.7M1518.7 802.1h2.7M1589.5 804.3h2.7M1458.0 788.9h2.7M1551.4 794.8h2.7M1490.5 785.5h2.7M1568.5 791.3h2.7M1469.3 795.1h2.7M1550.9 804.9h2.7M1523.1 793.7h2.7M1511.9 787.8h2.7M1513.3 801.6h2.7M1495.7 784.8h2.7M1527.4 785.0h2.7M1537.4 790.8h2.7M1448.4 793.6h2.7M1434.9 792.2h2.7M1428.9 799.2h2.7M1428.6 813.7h2.7M1433.3 798.0h2.7M1431.2 791.2h2.7M1434.0 809.7h2.7M1433.5 796.6h2.7M1433.2 788.0h2.7M1433.2 789.2h2.7M1431.0 806.2h2.7M1434.7 789.2h2.7M1431.5 799.3h2.7M1433.8 799.8h2.7M1433.6 793.8h2.7M1430.4 785.2h2.7M1434.4 812.8h2.7M1432.8 789.4h2.7M1430.3 787.4h2.7M1430.0 804.8h2.7M1432.2 811.7h2.7M1435.2 812.8h2.7M1431.4 804.5h2.7M1431.3 812.2h2.7M1431.3 790.0h2.7M1434.5 802.3h2.7M1433.2 804.9h2.7M1431.7 786.1h2.7M1429.5 807.9h2.7M1429.6 791.9h2.7M1434.7 819.2h2.7M1434.6 794.2h2.7M1431.0 816.1h2.7M1431.5 817.8h2.7M1428.6 813.9h2.7M1432.7 816.5h2.7M1434.9 814.1h2.7M1432.4 801.9h2.7M1431.3 819.0h2.7M1433.2 812.2h2.7M1431.0 801.9h2.7M1429.8 798.4h2.7M1429.9 785.0h2.7M1430.2 790.2h2.7M1428.4 800.9h2.7M1428.4 792.4h2.7M1433.4 791.3h2.7M1431.8 818.4h2.7M1432.1 789.3h2.7M1435.1 794.9h2.7M1431.3 815.3h2.7M1430.7 810.9h2.7M1430.3 817.3h2.7M1431.2 805.4h2.7M1429.5 791.0h2.7M1433.8 784.0h2.7M1542.9 828.3h2.7M1451.6 828.7h2.7M1562.2 825.8h2.7M1536.2 835.7h2.7M1441.0 827.0h2.7M1585.3 836.9h2.7M1478.2 826.3h2.7M1494.4 830.2h2.7M1488.1 831.6h2.7M1568.9 837.3h2.7M1474.5 831.1h2.7M1554.2 830.0h2.7M1452.2 832.6h2.7M1469.4 829.2h2.7M1475.5 834.6h2.7M1586.9 834.7h2.7M1587.0 834.8h2.7M1446.6 832.5h2.7M1444.0 824.5h2.7M1473.4 831.3h2.7M1509.8 825.0h2.7M1583.5 832.4h2.7M1568.9 826.1h2.7M1559.5 832.3h2.7M1569.8 835.7h2.7M1513.6 832.5h2.7M1501.1 827.1h2.7M1581.7 835.0h2.7M1580.7 835.9h2.7M1463.6 833.3h2.7M1586.9 825.4h2.7M1570.0 836.9h2.7M1467.6 836.1h2.7M1591.3 833.4h2.7M1465.7 830.7h2.7M1448.0 830.2h2.7M1581.6 827.6h2.7M1485.0 830.2h2.7M1533.9 827.4h2.7M1482.7 825.5h2.7M1610.6 773.8h2.7M1616.9 772.7h2.7M1613.8 768.4h2.7M1660.1 793.1h2.7M1657.8 771.9h2.7M1656.6 774.6h2.7M1624.7 770.6h2.7M1641.8 795.4h2.7M1625.9 796.1h2.7M1637.3 772.6h2.7M1635.6 772.9h2.7M1611.3 782.5h2.7M1657.5 771.2h2.7M1642.0 790.2h2.7M1657.2 772.1h2.7M1628.5 775.3h2.7M1631.5 769.6h2.7M1620.8 779.2h2.7M1659.9 773.0h2.7M1638.5 767.8h2.7M1643.8 788.2h2.7M1614.2 767.8h2.7M1655.6 793.8h2.7M1644.4 768.4h2.7M1613.8 771.2h2.7M1627.6 783.7h2.7M1654.4 769.6h2.7M1647.5 773.0h2.7M1628.6 785.4h2.7M1644.6 773.2h2.7M1650.5 775.5h2.7M1642.8 779.7h2.7M1622.2 776.4h2.7M1631.6 765.6h2.7M1619.2 781.9h2.7M1657.0 790.5h2.7M1651.6 791.1h2.7M1665.5 790.6h2.7M1631.9 772.2h2.7M1647.3 775.4h2.7M1631.5 772.6h2.7M1640.8 768.6h2.7M1662.9 770.3h2.7M1611.8 773.2h2.7M1611.2 772.9h2.7M1632.3 769.1h2.7M1632.8 772.2h2.7M1618.7 772.6h2.7M1660.9 782.8h2.7M1635.7 796.6h2.7M1616.5 773.2h2.7M1654.8 789.6h2.7M1657.9 767.6h2.7M1636.8 770.4h2.7M1617.8 767.2h2.7M1645.4 772.7h2.7M1615.4 768.7h2.7M1652.0 773.4h2.7M1654.3 785.2h2.7M1647.0 774.2h2.7M1633.8 793.0h2.7M1633.3 770.2h2.7M1647.6 785.5h2.7M1637.0 770.0h2.7M1659.4 780.1h2.7M1612.7 768.1h2.7M1657.5 774.0h2.7M1653.4 766.3h2.7M1649.1 768.0h2.7M1619.3 776.7h2.7M1618.2 766.3h2.7M1635.6 776.3h2.7M1617.7 771.0h2.7M1653.4 765.6h2.7M1610.9 775.0h2.7M1647.7 774.7h2.7M1655.3 776.4h2.7M1632.0 767.2h2.7M1643.7 794.5h2.7M1619.3 770.5h2.7M1647.8 770.8h2.7M1633.7 766.7h2.7M1645.0 792.3h2.7M1644.7 786.6h2.7M1652.7 776.6h2.7M1613.2 768.2h2.7M1651.4 768.0h2.7M1616.7 785.8h2.7M1631.7 774.0h2.7M1657.3 767.6h2.7M1644.3 789.2h2.7M1647.5 770.4h2.7M1617.9 765.7h2.7M1645.0 776.5h2.7M1642.2 772.5h2.7M1660.9 785.8h2.7M1649.5 797.0h2.7M1645.9 788.6h2.7M1612.7 790.4h2.7M1624.8 772.7h2.7M1624.1 772.6h2.7M1621.5 781.9h2.7M1614.4 789.7h2.7M1620.6 768.9h2.7M1620.8 769.8h2.7M1620.5 767.7h2.7M1614.0 779.1h2.7M1624.0 771.6h2.7M1641.5 765.6h2.7M1655.2 766.7h2.7M1643.8 773.6h2.7M1655.5 776.3h2.7M1636.1 782.8h2.7M1622.5 770.0h2.7M1612.9 774.2h2.7M1665.2 788.1h2.7M1617.7 767.5h2.7M1649.8 789.4h2.7M1641.0 769.9h2.7M1635.6 779.4h2.7M1646.9 776.4h2.7M1635.6 786.7h2.7M1651.0 787.3h2.7M1644.0 776.1h2.7M1631.3 767.0h2.7M1612.4 770.5h2.7M1636.4 772.3h2.7M1622.4 770.5h2.7M1613.9 769.2h2.7M1660.4 784.2h2.7M1652.7 769.5h2.7M1649.8 781.0h2.7M1613.3 794.4h2.7M1643.5 771.6h2.7M1621.4 795.3h2.7M1656.3 787.7h2.7M1637.6 768.0h2.7M1650.8 793.0h2.7M1660.8 770.8h2.7M1656.9 766.3h2.7M1663.8 794.2h2.7M1610.9 774.3h2.7M1642.3 771.7h2.7M1653.1 776.4h2.7M1661.6 782.7h2.7M1619.0 781.6h2.7M1612.2 791.9h2.7M1631.9 773.5h2.7M1659.8 784.6h2.7M1638.7 776.0h2.7M1620.4 769.8h2.7M1628.6 769.1h2.7M1637.1 771.5h2.7M1638.7 773.4h2.7M1646.5 772.7h2.7M1665.0 784.2h2.7M1647.3 771.8h2.7M1643.5 786.2h2.7M1615.4 789.0h2.7M1615.7 769.1h2.7M1662.9 772.6h2.7M1648.6 773.7h2.7M1661.2 765.8h2.7M1615.6 775.0h2.7M1663.9 789.9h2.7M1664.6 780.6h2.7M1655.9 774.3h2.7M1639.0 766.2h2.7M1663.9 770.2h2.7M1629.2 792.2h2.7M1632.6 792.0h2.7M1618.8 768.7h2.7M1657.2 773.2h2.7M1629.1 782.1h2.7M1637.5 792.0h2.7M1639.5 789.7h2.7M1664.0 774.5h2.7M1617.8 775.8h2.7M1615.0 767.4h2.7M1662.8 786.4h2.7M1626.2 783.1h2.7M1625.9 775.4h2.7M1642.2 791.6h2.7M1626.6 771.5h2.7M1665.9 794.9h2.7M1616.5 773.4h2.7M1617.3 772.3h2.7M1645.6 770.0h2.7M1639.3 795.2h2.7M1613.5 776.5h2.7M1616.5 765.7h2.7M1629.4 792.2h2.7M1618.3 781.0h2.7M1643.0 767.2h2.7M1634.5 793.2h2.7M1648.4 766.3h2.7M1635.3 794.1h2.7M1638.3 770.3h2.7M1641.0 767.9h2.7M1650.1 774.6h2.7M1636.0 768.3h2.7M1661.4 772.7h2.7M1657.3 770.9h2.7M1646.4 772.0h2.7M1642.6 767.4h2.7M1635.1 767.2h2.7M1647.8 765.8h2.7M1621.2 771.1h2.7M1637.7 765.6h2.7M1634.0 775.2h2.7M1646.6 786.5h2.7M1629.0 779.1h2.7M1622.6 794.9h2.7M1632.7 780.3h2.7M1643.6 775.1h2.7M1641.4 768.9h2.7M1713.3 774.8h2.7M1727.4 785.2h2.7M1675.5 773.8h2.7M1673.2 784.6h2.7M1687.3 781.6h2.7M1732.6 778.2h2.7M1713.9 770.0h2.7M1677.5 771.2h2.7M1676.0 766.7h2.7M1729.9 783.7h2.7M1680.3 769.1h2.7M1677.6 789.7h2.7M1677.6 787.6h2.7M1695.8 771.3h2.7M1676.7 774.3h2.7M1730.8 781.6h2.7M1676.8 783.7h2.7M1725.3 781.6h2.7M1705.7 776.0h2.7M1698.3 767.0h2.7M1681.7 769.8h2.7M1684.7 782.4h2.7M1687.5 776.1h2.7M1673.6 783.4h2.7M1696.3 777.3h2.7M1681.5 768.3h2.7M1684.9 776.5h2.7M1680.0 787.1h2.7M1716.2 784.9h2.7M1708.2 784.6h2.7M1683.0 772.2h2.7M1695.7 769.8h2.7M1714.6 770.9h2.7M1697.4 782.4h2.7M1710.0 780.3h2.7M1683.4 789.9h2.7M1680.8 779.5h2.7M1688.7 771.9h2.7M1706.5 788.8h2.7M1675.5 789.6h2.7M1686.6 770.7h2.7M1714.2 773.4h2.7M1698.6 786.1h2.7M1728.7 769.0h2.7M1688.6 776.2h2.7M1672.8 779.7h2.7M1669.6 787.5h2.7M1673.1 776.3h2.7M1708.8 779.7h2.7M1732.9 788.1h2.7M1728.5 768.6h2.7M1690.5 767.2h2.7M1676.2 788.6h2.7M1676.6 774.2h2.7M1693.4 769.4h2.7M1702.7 766.9h2.7M1695.4 784.6h2.7M1696.3 783.1h2.7M1695.2 770.4h2.7M1727.1 768.0h2.7M1727.6 772.8h2.7M1671.0 785.1h2.7M1682.9 769.1h2.7M1688.4 775.3h2.7M1731.2 783.5h2.7M1719.5 777.0h2.7M1685.7 780.8h2.7M1727.7 781.4h2.7M1703.5 789.9h2.7M1688.1 776.6h2.7M1754.1 804.2h2.7M1786.6 772.2h2.7M1786.6 794.8h2.7M1805.1 772.2h2.7M1795.8 797.0h2.7M1717.1 797.9h2.7M1693.9 800.1h2.7M1675.4 808.2h2.7M1638.3 801.5h2.7M1624.4 797.0h2.7M1911.7 792.5h2.7M1920.9 797.0h2.7M1934.8 812.8h2.7M1981.2 783.5h2.7M1846.8 783.5h2.7M1740.2 779.0h2.7" stroke="#0000ff" stroke-width="2.7" fill="none"/>
<path d="M1181.0 697.1 L1184.8 696.0 L1188.6 694.9 L1192.4 693.8 L1196.2 692.7 L1200.0 691.7 L1203.8 690.6 L1207.6 689.6 L1211.4 688.6 L1215.2 687.7 L1219.1 686.7 L1222.9 685.8 L1226.7 684.8 L1230.5 683.8 L1234.3 682.7 L1238.1 681.6 L1241.9 680.5 L1245.7 679.5 L1249.5 678.7 L1253.3 677.9 L1257.1 677.3 L1260.9 677.0 L1264.7 676.9 L1268.5 677.0 L1272.3 677.3 L1276.1 677.7 L1279.9 678.3 L1283.7 678.9 L1287.6 679.6 L1291.4 680.3 L1295.2 681.0 L1299.0 681.8 L1302.8 682.7 L1306.6 683.7 L1310.4 684.8 L1314.2 686.1 L1318.0 687.7 L1321.8 689.7 L1325.6 691.9 L1329.4 694.4 L1333.2 697.0 L1337.0 699.8 L1340.8 702.6 L1344.6 705.4 L1348.4 708.4 L1352.2 711.6 L1356.1 715.0 L1359.9 718.5 L1363.7 722.1 L1367.5 725.9 L1371.3 729.7 L1375.1 733.5 L1378.9 737.5 L1382.7 741.9 L1386.5 746.5 L1390.3 751.0 L1394.1 755.4 L1397.9 759.4 L1401.7 762.8 L1405.5 766.0 L1409.3 768.9 L1413.1 771.6 L1416.9 774.2 L1420.7 776.7 L1424.6 779.1 L1428.4 781.3 L1432.2 783.4 L1436.0 785.5 L1439.8 787.7 L1443.6 790.2 L1447.4 792.6 L1451.2 794.4 L1455.0 795.3 L1458.8 795.6 L1462.6 796.0 L1466.4 796.2 L1470.2 796.4 L1474.0 796.5 L1477.8 796.5 L1481.6 796.5 L1485.4 796.5 L1489.2 796.4 L1493.0 796.3 L1496.9 796.3 L1500.7 796.2 L1504.5 796.1 L1508.3 796.1 L1512.1 796.1 L1515.9 796.4 L1519.7 796.9 L1523.5 797.6 L1527.3 798.3 L1531.1 799.2 L1534.9 800.0 L1538.7 800.7 L1542.5 801.2 L1546.3 801.5 L1550.1 801.5 L1553.9 801.3 L1557.7 801.0 L1561.5 800.7 L1565.4 800.2 L1569.2 799.7 L1573.0 799.2 L1576.8 798.7 L1580.6 797.9 L1584.4 797.1 L1588.2 796.1 L1592.0 795.1 L1595.8 794.0 L1599.6 792.8 L1603.4 791.7 L1607.2 790.6 L1611.0 789.5 L1614.8 788.4 L1618.6 787.1 L1622.4 786.0 L1626.2 784.9 L1630.0 784.1 L1633.9 783.4 L1637.7 782.8 L1641.5 782.2 L1645.3 781.7 L1649.1 781.2 L1652.9 780.7 L1656.7 780.2 L1660.5 779.7 L1664.3 779.0 L1668.1 778.3 L1671.9 777.4 L1675.7 776.6 L1679.5 776.0 L1683.3 775.7 L1687.1 775.6 L1690.9 775.6 L1694.7 775.6 L1698.5 775.6 L1702.3 775.6 L1706.2 775.6 L1710.0 775.6 L1713.8 775.6 L1717.6 775.6 L1721.4 775.6 L1725.2 775.6 L1729.0 775.6 L1732.8 775.6 L1736.6 775.6 L1740.4 775.6 L1744.2 775.6 L1748.0 775.6 L1751.8 775.6 L1755.6 775.6 L1759.4 775.6 L1763.2 775.6 L1767.0 775.6 L1770.8 775.6 L1774.7 775.6 L1778.5 775.6 L1782.3 775.6 L1786.1 775.6" stroke="#ff0000" stroke-width="3" fill="none" stroke-linejoin="round"/>
<path d="M1806.5 781.0 L1810.8 781.5 L1815.2 781.9 L1819.6 782.4 L1823.9 782.8 L1828.3 783.3 L1832.7 783.7 L1837.1 784.2 L1841.4 784.7 L1845.8 785.1 L1850.2 785.6 L1854.5 786.1 L1858.9 786.6 L1863.3 787.0 L1867.7 787.5 L1872.0 788.0 L1876.4 788.5 L1880.8 789.0 L1885.1 789.5 L1889.5 790.0 L1893.9 790.5 L1898.3 790.9 L1902.6 791.4 L1907.0 792.0 L1911.4 792.5 L1915.7 793.0 L1920.1 793.6 L1924.5 794.1 L1928.9 794.7 L1933.2 795.3 L1937.6 795.9 L1942.0 796.5 L1946.3 797.2 L1950.7 797.8 L1955.1 798.5 L1959.5 799.2 L1963.8 799.8 L1968.2 800.5 L1972.6 801.2 L1976.9 802.0" stroke="#ff0000" stroke-width="3" fill="none" stroke-linejoin="round"/>
<line x1="1140.6" y1="779.0" x2="2016.8" y2="779.0" stroke="#a8a8a8" stroke-width="2.7"/>
<rect x="1140.6" y="536.2" width="876.2" height="313.3" fill="none" stroke="#333333" stroke-width="1.4"/>
<line x1="1181.0" y1="849.5" x2="1181.0" y2="854.5" stroke="#333333" stroke-width="1.4"/>
<text x="1181.0" y="887.4" font-size="28.8" text-anchor="middle" transform="translate(0 -26.62) scale(1 1.030)" fill="#000">0</text>
<line x1="1412.7" y1="849.5" x2="1412.7" y2="854.5" stroke="#333333" stroke-width="1.4"/>
<text x="1412.7" y="887.4" font-size="28.8" text-anchor="middle" transform="translate(0 -26.62) scale(1 1.030)" fill="#000">25</text>
<line x1="1644.3" y1="849.5" x2="1644.3" y2="854.5" stroke="#333333" stroke-width="1.4"/>
<text x="1644.3" y="887.4" font-size="28.8" text-anchor="middle" transform="translate(0 -26.62) scale(1 1.030)" fill="#000">50</text>
<line x1="1876.0" y1="849.5" x2="1876.0" y2="854.5" stroke="#333333" stroke-width="1.4"/>
<text x="1876.0" y="887.4" font-size="28.8" text-anchor="middle" transform="translate(0 -26.62) scale(1 1.030)" fill="#000">75</text>
<line x1="1135.6" y1="779.0" x2="1140.6" y2="779.0" stroke="#333333" stroke-width="1.4"/>
<text x="1124.3" y="789.3" font-size="28.8" text-anchor="end" transform="translate(0 -23.68) scale(1 1.030)" fill="#000">1.0</text>
<line x1="1135.6" y1="689.0" x2="1140.6" y2="689.0" stroke="#333333" stroke-width="1.4"/>
<text x="1124.3" y="699.3" font-size="28.8" text-anchor="end" transform="translate(0 -20.98) scale(1 1.030)" fill="#000">1.2</text>
<line x1="1135.6" y1="599.0" x2="1140.6" y2="599.0" stroke="#333333" stroke-width="1.4"/>
<text x="1124.3" y="609.3" font-size="28.8" text-anchor="end" transform="translate(0 -18.28) scale(1 1.030)" fill="#000">1.4</text>
<text x="1041.0" y="547.2" font-size="41.0" text-anchor="start" font-weight="bold" fill="#000">c</text>
<text x="1578.7" y="929.1" font-size="28.8" text-anchor="middle" transform="translate(0 -18.58) scale(1 1.020)" fill="#000">Lymphocyte%</text>
<text x="1064.8" y="690.0" font-size="29.3" text-anchor="middle" transform="rotate(-90 1064.8 690.0)" fill="#000">Odds ratio</text>
<line x1="1319.8" y1="984.6" x2="1319.8" y2="1297.6" stroke="#efefef" stroke-width="1.2"/>
<line x1="1539.2" y1="984.6" x2="1539.2" y2="1297.6" stroke="#efefef" stroke-width="1.2"/>
<line x1="1758.7" y1="984.6" x2="1758.7" y2="1297.6" stroke="#efefef" stroke-width="1.2"/>
<line x1="1978.1" y1="984.6" x2="1978.1" y2="1297.6" stroke="#efefef" stroke-width="1.2"/>
<line x1="1140.6" y1="1293.2" x2="2016.8" y2="1293.2" stroke="#efefef" stroke-width="1.2"/>
<line x1="1140.6" y1="1213.8" x2="2016.8" y2="1213.8" stroke="#efefef" stroke-width="1.2"/>
<line x1="1140.6" y1="1134.4" x2="2016.8" y2="1134.4" stroke="#efefef" stroke-width="1.2"/>
<line x1="1140.6" y1="1055.0" x2="2016.8" y2="1055.0" stroke="#efefef" stroke-width="1.2"/>
<line x1="1210.1" y1="984.6" x2="1210.1" y2="1297.6" stroke="#ebebeb" stroke-width="1.5"/>
<line x1="1429.5" y1="984.6" x2="1429.5" y2="1297.6" stroke="#ebebeb" stroke-width="1.5"/>
<line x1="1648.9" y1="984.6" x2="1648.9" y2="1297.6" stroke="#ebebeb" stroke-width="1.5"/>
<line x1="1868.4" y1="984.6" x2="1868.4" y2="1297.6" stroke="#ebebeb" stroke-width="1.5"/>
<line x1="1140.6" y1="1253.5" x2="2016.8" y2="1253.5" stroke="#ebebeb" stroke-width="1.5"/>
<line x1="1140.6" y1="1174.1" x2="2016.8" y2="1174.1" stroke="#ebebeb" stroke-width="1.5"/>
<line x1="1140.6" y1="1094.7" x2="2016.8" y2="1094.7" stroke="#ebebeb" stroke-width="1.5"/>
<line x1="1140.6" y1="1015.3" x2="2016.8" y2="1015.3" stroke="#ebebeb" stroke-width="1.5"/>
<path d="M1714.8 1259.9 L1780.6 1259.5 L1824.5 1259.9 L1824.5 1267.0 L1780.6 1267.5 L1714.8 1267.0Z" fill="#0000ff"/>
<path d="M1180.2 1145.5h2.7M1252.6 1142.3h2.7M1270.2 1156.6h2.7M1274.5 1178.9h2.7M1285.5 1067.7h2.7M1318.4 1024.8h2.7M1318.4 1064.5h2.7M1318.4 1105.8h2.7M1318.4 1116.9h2.7M1340.4 1101.1h2.7M1340.4 1150.3h2.7M1340.4 1145.5h2.7M1362.3 1142.3h2.7M1373.3 1145.5h2.7M1384.3 1156.6h2.7M1384.3 1105.8h2.7M1417.2 1178.9h2.7M1307.5 1121.7h2.7M1296.5 1123.3h2.7M1384.3 1105.0h2.7M1382.1 1156.3h2.7M1405.3 1052.6h2.7M1405.3 1069.3h2.7M1405.3 1082.6h2.7M1405.3 1113.8h2.7M1405.3 1111.4h2.7M1405.3 1109.0h2.7M1405.3 1154.1h2.7M1413.1 1055.1h2.7M1419.4 1126.2h2.7M1421.1 1068.3h2.7M1410.0 1172.4h2.7M1409.9 1069.8h2.7M1409.9 1173.1h2.7M1427.3 1062.9h2.7M1427.3 1080.4h2.7M1427.3 1136.0h2.7M1427.3 1133.7h2.7M1427.3 1131.5h2.7M1427.3 1126.9h2.7M1427.3 1124.6h2.7M1427.3 1122.4h2.7M1427.3 1120.1h2.7M1427.3 1053.4h2.7M1432.4 1160.5h2.7M1433.5 1086.7h2.7M1441.0 1126.1h2.7M1434.4 1116.9h2.7M1432.2 1146.2h2.7M1433.1 1061.2h2.7M1449.2 1021.7h2.7M1449.2 1048.6h2.7M1449.2 1077.2h2.7M1449.2 1074.1h2.7M1449.2 1089.9h2.7M1449.2 1094.7h2.7M1449.2 1101.1h2.7M1449.2 1110.6h2.7M1449.2 1123.3h2.7M1449.2 1121.7h2.7M1449.2 1169.3h2.7M1449.2 1148.7h2.7M1449.2 1144.5h2.7M1449.2 1142.3h2.7M1456.8 1104.8h2.7M1463.5 1086.6h2.7M1461.2 1124.3h2.7M1456.6 1092.1h2.7M1458.9 1159.2h2.7M1464.1 1164.3h2.7M1471.2 1001.0h2.7M1471.2 1070.9h2.7M1471.2 1069.3h2.7M1471.2 1098.8h2.7M1471.2 1096.5h2.7M1471.2 1094.2h2.7M1471.2 1091.9h2.7M1471.2 1089.6h2.7M1471.2 1087.3h2.7M1471.2 1085.0h2.7M1471.2 1082.7h2.7M1471.2 1080.4h2.7M1471.2 1134.4h2.7M1471.2 1132.3h2.7M1471.2 1130.2h2.7M1471.2 1128.0h2.7M1471.2 1155.0h2.7M1471.2 1148.7h2.7M1471.2 1146.6h2.7M1471.2 1144.5h2.7M1471.2 1142.3h2.7M1471.2 1055.0h2.7M1477.5 1110.1h2.7M1479.8 1144.4h2.7M1479.2 1138.1h2.7M1479.7 1115.4h2.7M1487.3 1071.7h2.7M1485.9 1167.9h2.7M1493.1 1053.4h2.7M1493.1 1051.0h2.7M1493.1 1046.3h2.7M1493.1 1043.9h2.7M1493.1 1070.9h2.7M1493.1 1089.9h2.7M1493.1 1087.7h2.7M1493.1 1085.5h2.7M1493.1 1083.3h2.7M1493.1 1081.0h2.7M1493.1 1078.8h2.7M1493.1 1129.6h2.7M1493.1 1127.4h2.7M1493.1 1125.1h2.7M1493.1 1122.8h2.7M1493.1 1120.6h2.7M1493.1 1118.3h2.7M1493.1 1116.0h2.7M1493.1 1111.5h2.7M1493.1 1109.2h2.7M1493.1 1107.0h2.7M1493.1 1104.7h2.7M1493.1 1102.4h2.7M1493.1 1100.1h2.7M1493.1 1097.9h2.7M1493.1 1150.3h2.7M1493.1 1164.6h2.7M1493.1 1177.3h2.7M1499.6 1129.1h2.7M1498.9 1134.3h2.7M1507.8 1055.7h2.7M1500.9 1091.9h2.7M1499.7 1130.0h2.7M1499.5 1094.2h2.7M1515.0 1010.5h2.7M1515.0 1066.1h2.7M1515.0 1063.8h2.7M1515.0 1061.6h2.7M1515.0 1059.3h2.7M1515.0 1057.0h2.7M1515.0 1054.8h2.7M1515.0 1052.5h2.7M1515.0 1050.2h2.7M1515.0 1113.8h2.7M1515.0 1111.4h2.7M1515.0 1109.1h2.7M1515.0 1104.4h2.7M1515.0 1102.1h2.7M1515.0 1099.7h2.7M1515.0 1097.4h2.7M1515.0 1095.0h2.7M1515.0 1092.7h2.7M1515.0 1090.4h2.7M1515.0 1088.0h2.7M1515.0 1085.7h2.7M1515.0 1083.3h2.7M1515.0 1081.0h2.7M1515.0 1078.7h2.7M1515.0 1076.3h2.7M1515.0 1071.6h2.7M1515.0 1069.3h2.7M1515.0 1136.0h2.7M1515.0 1133.7h2.7M1515.0 1131.5h2.7M1515.0 1129.2h2.7M1515.0 1126.9h2.7M1515.0 1124.6h2.7M1515.0 1122.4h2.7M1515.0 1120.1h2.7M1515.0 1155.0h2.7M1515.0 1163.0h2.7M1515.0 1043.9h2.7M1521.4 1063.7h2.7M1526.7 1160.1h2.7M1530.2 1077.2h2.7M1526.2 1116.9h2.7M1523.4 1100.7h2.7M1525.0 1059.5h2.7M1537.0 1012.1h2.7M1537.0 1039.1h2.7M1537.0 1053.4h2.7M1537.0 1051.3h2.7M1537.0 1049.2h2.7M1537.0 1047.1h2.7M1537.0 1097.9h2.7M1537.0 1095.5h2.7M1537.0 1093.2h2.7M1537.0 1090.9h2.7M1537.0 1088.6h2.7M1537.0 1086.2h2.7M1537.0 1083.9h2.7M1537.0 1081.6h2.7M1537.0 1079.2h2.7M1537.0 1076.9h2.7M1537.0 1074.6h2.7M1537.0 1072.3h2.7M1537.0 1069.9h2.7M1537.0 1067.6h2.7M1537.0 1065.3h2.7M1537.0 1062.9h2.7M1537.0 1118.5h2.7M1537.0 1116.3h2.7M1537.0 1114.0h2.7M1537.0 1111.7h2.7M1537.0 1109.4h2.7M1537.0 1107.2h2.7M1537.0 1104.9h2.7M1537.0 1155.0h2.7M1537.0 1152.8h2.7M1537.0 1148.2h2.7M1537.0 1146.0h2.7M1537.0 1139.2h2.7M1537.0 1136.9h2.7M1537.0 1134.6h2.7M1537.0 1132.4h2.7M1537.0 1130.1h2.7M1537.0 1127.8h2.7M1537.0 1123.3h2.7M1537.0 1169.3h2.7M1537.0 1026.4h2.7M1543.6 1060.9h2.7M1546.7 1057.4h2.7M1541.4 1150.3h2.7M1541.9 1084.6h2.7M1547.9 1063.3h2.7M1546.0 1100.3h2.7M1558.9 1024.8h2.7M1558.9 1022.4h2.7M1558.9 1020.1h2.7M1558.9 1017.7h2.7M1558.9 1015.3h2.7M1558.9 1012.9h2.7M1558.9 1010.5h2.7M1558.9 1047.1h2.7M1558.9 1055.0h2.7M1558.9 1097.9h2.7M1558.9 1095.6h2.7M1558.9 1093.3h2.7M1558.9 1091.1h2.7M1558.9 1086.5h2.7M1558.9 1084.3h2.7M1558.9 1082.0h2.7M1558.9 1079.7h2.7M1558.9 1077.5h2.7M1558.9 1075.2h2.7M1558.9 1072.9h2.7M1558.9 1070.7h2.7M1558.9 1068.4h2.7M1558.9 1066.1h2.7M1558.9 1123.3h2.7M1558.9 1118.9h2.7M1558.9 1116.7h2.7M1558.9 1114.5h2.7M1558.9 1110.2h2.7M1558.9 1108.0h2.7M1558.9 1105.8h2.7M1558.9 1151.9h2.7M1558.9 1149.6h2.7M1558.9 1147.2h2.7M1558.9 1144.9h2.7M1558.9 1142.6h2.7M1558.9 1140.3h2.7M1558.9 1138.0h2.7M1558.9 1135.7h2.7M1558.9 1133.4h2.7M1558.9 1131.1h2.7M1558.9 1128.8h2.7M1558.9 1126.5h2.7M1558.9 1161.4h2.7M1558.9 1177.3h2.7M1563.4 1168.6h2.7M1568.8 1086.0h2.7M1573.9 1122.2h2.7M1569.4 1147.4h2.7M1563.9 1142.1h2.7M1569.2 1147.9h2.7M1580.9 1069.3h2.7M1580.9 1083.6h2.7M1580.9 1081.2h2.7M1580.9 1078.8h2.7M1580.9 1115.3h2.7M1580.9 1113.1h2.7M1580.9 1110.8h2.7M1580.9 1108.5h2.7M1580.9 1104.0h2.7M1580.9 1101.7h2.7M1580.9 1099.5h2.7M1580.9 1094.9h2.7M1580.9 1092.7h2.7M1580.9 1090.4h2.7M1580.9 1088.1h2.7M1580.9 1085.9h2.7M1580.9 1140.8h2.7M1580.9 1138.5h2.7M1580.9 1136.2h2.7M1580.9 1133.9h2.7M1580.9 1131.7h2.7M1580.9 1129.4h2.7M1580.9 1124.9h2.7M1580.9 1197.9h2.7M1580.9 1195.6h2.7M1580.9 1193.3h2.7M1580.9 1191.0h2.7M1580.9 1188.7h2.7M1580.9 1184.1h2.7M1580.9 1181.8h2.7M1580.9 1179.4h2.7M1580.9 1177.1h2.7M1580.9 1174.8h2.7M1580.9 1172.5h2.7M1580.9 1167.9h2.7M1580.9 1165.6h2.7M1580.9 1163.3h2.7M1580.9 1161.0h2.7M1580.9 1158.7h2.7M1580.9 1156.3h2.7M1580.9 1154.0h2.7M1580.9 1151.7h2.7M1580.9 1149.4h2.7M1580.9 1147.1h2.7M1580.9 1058.2h2.7M1580.9 1031.2h2.7M1588.6 1140.3h2.7M1589.2 1150.5h2.7M1590.7 1145.1h2.7M1585.2 1126.2h2.7M1589.9 1169.3h2.7M1591.7 1065.2h2.7M1602.8 1055.0h2.7M1602.8 1053.4h2.7M1602.8 1051.8h2.7M1602.8 1097.9h2.7M1602.8 1095.7h2.7M1602.8 1093.4h2.7M1602.8 1091.2h2.7M1602.8 1089.0h2.7M1602.8 1086.8h2.7M1602.8 1245.6h2.7M1602.8 1243.2h2.7M1602.8 1240.8h2.7M1602.8 1238.4h2.7M1602.8 1236.0h2.7M1602.8 1231.2h2.7M1602.8 1228.8h2.7M1602.8 1226.4h2.7M1602.8 1224.0h2.7M1602.8 1219.2h2.7M1602.8 1216.8h2.7M1602.8 1214.4h2.7M1602.8 1212.0h2.7M1602.8 1209.6h2.7M1602.8 1207.2h2.7M1602.8 1204.8h2.7M1602.8 1202.4h2.7M1602.8 1200.0h2.7M1602.8 1197.6h2.7M1602.8 1195.2h2.7M1602.8 1192.8h2.7M1602.8 1190.4h2.7M1602.8 1188.0h2.7M1602.8 1185.6h2.7M1602.8 1183.2h2.7M1602.8 1180.8h2.7M1602.8 1178.4h2.7M1602.8 1176.0h2.7M1602.8 1171.3h2.7M1602.8 1168.9h2.7M1602.8 1166.5h2.7M1602.8 1164.1h2.7M1602.8 1159.3h2.7M1602.8 1156.9h2.7M1602.8 1154.5h2.7M1602.8 1152.1h2.7M1602.8 1149.7h2.7M1602.8 1147.3h2.7M1602.8 1144.9h2.7M1602.8 1142.5h2.7M1602.8 1140.1h2.7M1602.8 1137.7h2.7M1602.8 1135.3h2.7M1602.8 1132.9h2.7M1602.8 1130.5h2.7M1602.8 1128.1h2.7M1602.8 1125.7h2.7M1602.8 1123.3h2.7M1602.8 1120.9h2.7M1608.9 1073.9h2.7M1613.2 1084.5h2.7M1618.6 1077.1h2.7M1614.2 1075.8h2.7M1615.5 1145.2h2.7M1615.3 1073.2h2.7M1661.9 1240.8h2.7M1672.8 1238.2h2.7M1630.3 1217.5h2.7M1638.0 1242.8h2.7M1667.3 1215.6h2.7M1618.5 1215.9h2.7M1611.3 1201.7h2.7M1683.1 1226.0h2.7M1612.5 1192.3h2.7M1677.8 1230.0h2.7M1684.5 1240.3h2.7M1608.0 1210.2h2.7M1624.8 1227.8h2.7M1628.1 1216.6h2.7M1679.7 1237.8h2.7M1634.2 1218.6h2.7M1680.2 1236.9h2.7M1635.2 1219.8h2.7M1672.3 1249.3h2.7M1657.7 1247.0h2.7M1675.6 1249.4h2.7M1684.2 1241.4h2.7M1656.1 1237.4h2.7M1671.3 1207.9h2.7M1648.6 1222.7h2.7M1687.8 1239.6h2.7M1651.4 1200.2h2.7M1668.2 1227.2h2.7M1615.1 1232.8h2.7M1614.0 1233.1h2.7M1662.0 1215.7h2.7M1629.7 1205.8h2.7M1654.0 1210.1h2.7M1626.2 1197.3h2.7M1678.8 1250.6h2.7M1661.4 1218.2h2.7M1668.9 1235.7h2.7M1628.2 1229.7h2.7M1626.9 1215.0h2.7M1657.4 1230.8h2.7M1628.3 1241.5h2.7M1657.3 1229.6h2.7M1632.6 1199.6h2.7M1679.2 1235.9h2.7M1649.6 1226.6h2.7M1676.5 1250.3h2.7M1669.7 1243.4h2.7M1609.4 1222.5h2.7M1663.3 1228.8h2.7M1617.9 1228.7h2.7M1667.4 1229.4h2.7M1656.8 1244.2h2.7M1662.3 1249.9h2.7M1666.8 1219.7h2.7M1634.5 1249.1h2.7M1658.2 1250.2h2.7M1654.7 1227.2h2.7M1619.4 1205.2h2.7M1627.1 1195.1h2.7M1621.8 1242.0h2.7M1625.9 1223.4h2.7M1677.2 1234.8h2.7M1639.3 1235.3h2.7M1627.1 1221.9h2.7M1666.8 1237.4h2.7M1629.4 1196.5h2.7M1605.0 1201.4h2.7M1628.4 1196.8h2.7M1648.7 1198.9h2.7M1686.3 1238.5h2.7M1622.3 1193.8h2.7M1642.0 1221.4h2.7M1654.5 1207.6h2.7M1644.5 1237.8h2.7M1675.1 1242.2h2.7M1631.0 1218.8h2.7M1639.8 1232.4h2.7M1662.1 1214.3h2.7M1630.5 1225.8h2.7M1657.6 1202.7h2.7M1636.6 1252.2h2.7M1680.8 1227.5h2.7M1666.7 1233.3h2.7M1685.0 1226.6h2.7M1663.3 1226.6h2.7M1687.0 1247.9h2.7M1680.9 1250.3h2.7M1638.1 1196.2h2.7M1612.1 1204.7h2.7M1654.7 1230.2h2.7M1637.3 1247.6h2.7M1645.2 1211.7h2.7M1657.2 1233.8h2.7M1632.7 1212.8h2.7M1630.6 1212.9h2.7M1684.9 1237.3h2.7M1620.2 1234.6h2.7M1653.0 1240.9h2.7M1664.2 1222.0h2.7M1660.1 1207.1h2.7M1651.8 1249.4h2.7M1609.3 1208.2h2.7M1662.4 1229.3h2.7M1665.3 1209.7h2.7M1630.8 1218.1h2.7M1644.1 1240.7h2.7M1684.8 1232.0h2.7M1604.4 1193.0h2.7M1684.8 1226.4h2.7M1605.8 1193.9h2.7M1688.4 1244.6h2.7M1659.5 1216.3h2.7M1621.8 1225.1h2.7M1679.6 1224.8h2.7M1684.5 1236.1h2.7M1685.6 1247.3h2.7M1688.9 1249.2h2.7M1686.9 1243.7h2.7M1623.1 1236.1h2.7M1644.3 1245.4h2.7M1622.1 1194.9h2.7M1675.3 1245.1h2.7M1638.4 1230.6h2.7M1636.3 1228.8h2.7M1620.1 1236.2h2.7M1629.4 1192.2h2.7M1651.9 1242.2h2.7M1670.9 1206.5h2.7M1676.0 1252.4h2.7M1679.3 1221.9h2.7M1681.7 1248.6h2.7M1666.0 1226.5h2.7M1682.8 1234.4h2.7M1644.7 1246.7h2.7M1674.6 1212.2h2.7M1607.6 1239.4h2.7M1649.2 1207.2h2.7M1685.3 1232.8h2.7M1614.3 1192.6h2.7M1663.8 1216.5h2.7M1650.2 1241.1h2.7M1629.7 1225.0h2.7M1642.2 1216.0h2.7M1627.2 1219.7h2.7M1626.6 1227.7h2.7M1677.9 1235.2h2.7M1650.7 1227.5h2.7M1621.2 1213.6h2.7M1656.3 1241.0h2.7M1620.3 1196.4h2.7M1639.3 1221.8h2.7M1620.0 1207.9h2.7M1635.7 1245.4h2.7M1679.7 1220.5h2.7M1657.3 1223.4h2.7M1628.2 1212.6h2.7M1660.6 1244.1h2.7M1615.4 1235.9h2.7M1631.5 1195.3h2.7M1608.9 1187.7h2.7M1648.5 1236.7h2.7M1636.4 1195.4h2.7M1651.2 1223.7h2.7M1671.2 1237.9h2.7M1637.4 1217.0h2.7M1689.4 1251.4h2.7M1657.3 1200.9h2.7M1665.8 1241.9h2.7M1646.3 1231.0h2.7M1624.4 1234.7h2.7M1684.8 1242.3h2.7M1661.8 1240.3h2.7M1666.6 1220.4h2.7M1644.9 1199.9h2.7M1634.1 1220.7h2.7M1628.2 1197.8h2.7M1634.0 1199.4h2.7M1620.7 1239.4h2.7M1622.7 1244.9h2.7M1630.7 1204.1h2.7M1642.4 1223.1h2.7M1654.3 1248.1h2.7M1643.6 1238.2h2.7M1652.6 1245.5h2.7M1617.2 1227.4h2.7M1651.6 1202.7h2.7M1675.1 1243.6h2.7M1632.0 1213.9h2.7M1681.2 1227.3h2.7M1621.5 1219.8h2.7M1663.5 1235.2h2.7M1614.7 1188.1h2.7M1684.0 1231.5h2.7M1658.4 1212.1h2.7M1645.5 1223.7h2.7M1611.1 1199.2h2.7M1627.4 1204.2h2.7M1673.2 1218.9h2.7M1674.0 1231.7h2.7M1662.4 1239.7h2.7M1607.6 1219.8h2.7M1677.7 1230.6h2.7M1671.6 1250.3h2.7M1627.9 1202.9h2.7M1619.9 1216.5h2.7M1677.7 1236.8h2.7M1668.2 1249.5h2.7M1642.6 1229.6h2.7M1604.3 1214.2h2.7M1652.9 1224.9h2.7M1622.0 1241.9h2.7M1628.9 1211.9h2.7M1606.9 1196.1h2.7M1655.9 1238.5h2.7M1652.6 1234.9h2.7M1619.8 1212.5h2.7M1672.3 1216.7h2.7M1653.2 1206.8h2.7M1651.3 1228.2h2.7M1687.6 1240.5h2.7M1687.8 1251.5h2.7M1635.9 1226.5h2.7M1682.3 1231.3h2.7M1617.9 1208.6h2.7M1655.9 1225.9h2.7M1660.2 1235.6h2.7M1610.4 1235.2h2.7M1618.2 1205.5h2.7M1661.5 1195.1h2.7M1643.0 1228.2h2.7M1653.7 1211.2h2.7M1672.0 1238.9h2.7M1658.3 1237.3h2.7M1617.5 1189.0h2.7M1673.7 1244.9h2.7M1663.3 1207.1h2.7M1661.3 1244.7h2.7M1667.9 1205.6h2.7M1623.7 1192.8h2.7M1618.3 1196.3h2.7M1687.8 1245.0h2.7M1622.6 1243.2h2.7M1625.1 1206.5h2.7M1651.4 1241.6h2.7M1687.3 1247.4h2.7M1673.2 1224.5h2.7M1637.1 1233.0h2.7M1669.5 1230.8h2.7M1664.4 1223.3h2.7M1688.6 1238.2h2.7M1683.4 1238.2h2.7M1671.2 1228.4h2.7M1616.8 1235.1h2.7M1648.4 1233.4h2.7M1682.7 1230.7h2.7M1653.8 1233.8h2.7M1639.4 1211.6h2.7M1634.0 1246.2h2.7M1604.5 1227.1h2.7M1663.1 1227.2h2.7M1619.3 1218.1h2.7M1650.7 1244.0h2.7M1632.5 1207.5h2.7M1649.3 1224.5h2.7M1670.0 1235.4h2.7M1682.7 1249.2h2.7M1611.3 1193.3h2.7M1627.7 1226.0h2.7M1658.1 1204.0h2.7M1667.4 1222.5h2.7M1636.9 1200.8h2.7M1650.4 1237.0h2.7M1632.1 1217.5h2.7M1627.1 1220.4h2.7M1686.2 1244.8h2.7M1621.9 1223.1h2.7M1659.8 1203.6h2.7M1644.7 1228.1h2.7M1641.9 1217.7h2.7M1645.0 1236.9h2.7M1656.3 1250.4h2.7M1621.2 1244.1h2.7M1641.4 1206.3h2.7M1621.5 1226.3h2.7M1665.9 1248.7h2.7M1669.7 1233.7h2.7M1624.8 1203.9h2.7M1636.8 1214.6h2.7M1666.0 1239.4h2.7M1616.3 1188.2h2.7M1604.6 1224.5h2.7M1686.1 1251.4h2.7M1643.0 1241.0h2.7M1642.5 1220.2h2.7M1647.8 1239.8h2.7M1655.5 1248.0h2.7M1649.5 1227.6h2.7M1685.3 1247.9h2.7M1656.8 1228.7h2.7M1636.9 1211.9h2.7M1653.7 1213.1h2.7M1636.3 1228.6h2.7M1651.2 1238.9h2.7M1638.2 1194.3h2.7M1617.1 1194.5h2.7M1620.6 1213.3h2.7M1676.2 1243.1h2.7M1683.0 1241.8h2.7M1656.5 1221.2h2.7M1615.8 1222.7h2.7M1615.1 1189.8h2.7M1615.4 1220.8h2.7M1650.9 1200.7h2.7M1662.5 1251.3h2.7M1658.1 1202.2h2.7M1653.3 1245.9h2.7M1665.0 1203.1h2.7M1677.6 1227.9h2.7M1618.7 1233.9h2.7M1665.5 1212.3h2.7M1607.3 1190.1h2.7M1654.6 1249.9h2.7M1623.8 1217.0h2.7M1659.6 1211.9h2.7M1604.1 1232.2h2.7M1662.5 1214.3h2.7M1680.4 1231.4h2.7M1671.5 1217.7h2.7M1644.1 1205.1h2.7M1628.5 1204.0h2.7M1622.6 1202.5h2.7M1637.4 1229.9h2.7M1664.3 1226.0h2.7M1633.7 1204.7h2.7M1672.2 1236.9h2.7M1632.9 1212.3h2.7M1687.7 1235.1h2.7M1680.0 1235.9h2.7M1618.4 1218.7h2.7M1660.3 1245.2h2.7M1609.6 1228.9h2.7M1626.9 1204.6h2.7M1661.6 1237.8h2.7M1646.3 1245.1h2.7M1672.9 1245.1h2.7M1609.8 1224.1h2.7M1685.0 1234.6h2.7M1621.5 1232.4h2.7M1654.1 1236.8h2.7M1675.1 1217.5h2.7M1679.6 1239.7h2.7M1686.2 1244.1h2.7M1626.3 1212.3h2.7M1661.5 1247.3h2.7M1672.8 1251.6h2.7M1664.8 1229.9h2.7M1646.1 1229.0h2.7M1684.6 1239.7h2.7M1686.9 1248.5h2.7M1666.0 1239.2h2.7M1687.3 1233.8h2.7M1611.2 1215.1h2.7M1678.9 1249.4h2.7M1667.6 1230.0h2.7M1674.7 1231.4h2.7M1610.4 1230.7h2.7M1629.1 1235.8h2.7M1672.3 1248.1h2.7M1662.0 1244.2h2.7M1676.8 1248.2h2.7M1650.1 1226.4h2.7M1631.4 1210.4h2.7M1628.8 1199.5h2.7M1665.4 1237.3h2.7M1660.7 1219.9h2.7M1626.0 1243.4h2.7M1611.2 1240.1h2.7M1613.0 1207.8h2.7M1623.6 1226.7h2.7M1613.1 1217.4h2.7M1642.2 1234.4h2.7M1666.4 1232.7h2.7M1674.5 1249.4h2.7M1667.7 1225.5h2.7M1626.3 1226.1h2.7M1656.8 1246.2h2.7M1673.9 1220.4h2.7M1609.4 1228.7h2.7M1611.8 1201.4h2.7M1669.2 1220.6h2.7M1669.4 1227.0h2.7M1684.1 1245.0h2.7M1647.1 1218.2h2.7M1676.0 1250.3h2.7M1673.9 1212.7h2.7M1629.9 1221.0h2.7M1623.8 1227.4h2.7M1617.7 1204.9h2.7M1657.3 1235.3h2.7M1619.0 1204.5h2.7M1671.9 1244.1h2.7M1617.5 1203.5h2.7M1610.0 1215.7h2.7M1620.3 1222.5h2.7M1654.9 1229.5h2.7M1683.4 1245.9h2.7M1627.3 1219.0h2.7M1612.6 1197.2h2.7M1640.5 1209.9h2.7M1642.4 1195.0h2.7M1690.3 1238.4h2.7M1690.2 1242.5h2.7M1604.6 1203.5h2.7M1612.2 1223.4h2.7M1678.2 1223.8h2.7M1611.4 1186.2h2.7M1677.6 1232.0h2.7M1606.5 1238.0h2.7M1660.9 1222.9h2.7M1681.3 1244.4h2.7M1667.2 1203.9h2.7M1606.9 1207.8h2.7M1643.3 1210.5h2.7M1612.0 1237.6h2.7M1649.5 1205.7h2.7M1640.2 1213.3h2.7M1676.8 1236.8h2.7M1672.3 1203.5h2.7M1668.7 1220.7h2.7M1664.7 1208.9h2.7M1665.0 1228.5h2.7M1681.7 1227.0h2.7M1604.6 1236.9h2.7M1661.9 1215.9h2.7M1620.9 1219.3h2.7M1609.4 1208.0h2.7M1662.0 1220.1h2.7M1650.1 1209.3h2.7M1681.9 1224.9h2.7M1606.0 1201.1h2.7M1682.1 1246.1h2.7M1647.2 1211.9h2.7M1626.0 1236.8h2.7M1632.2 1190.9h2.7M1686.7 1232.8h2.7M1661.1 1235.0h2.7M1660.1 1224.0h2.7M1668.8 1209.7h2.7M1678.4 1232.3h2.7M1616.2 1225.1h2.7M1609.1 1205.4h2.7M1647.3 1237.7h2.7M1675.5 1222.4h2.7M1660.2 1234.4h2.7M1642.9 1225.7h2.7M1647.6 1223.1h2.7M1679.0 1230.2h2.7M1641.8 1223.1h2.7M1628.1 1193.4h2.7M1642.0 1225.7h2.7M1680.2 1238.2h2.7M1618.7 1223.5h2.7M1681.7 1224.6h2.7M1621.4 1212.6h2.7M1625.2 1205.4h2.7M1672.4 1235.9h2.7M1612.0 1199.2h2.7M1608.7 1206.4h2.7M1627.5 1233.1h2.7M1636.8 1219.3h2.7M1615.7 1192.0h2.7M1607.6 1241.4h2.7M1657.0 1210.8h2.7M1650.6 1218.5h2.7M1644.9 1247.7h2.7M1657.3 1231.7h2.7M1624.6 1222.2h2.7M1618.9 1197.3h2.7M1652.3 1224.0h2.7M1626.0 1196.3h2.7M1671.7 1239.4h2.7M1662.1 1222.5h2.7M1624.9 1200.8h2.7M1635.0 1194.0h2.7M1638.7 1235.3h2.7M1632.8 1228.4h2.7M1652.3 1242.1h2.7M1605.1 1198.6h2.7M1609.9 1188.9h2.7M1620.1 1238.3h2.7M1609.8 1186.7h2.7M1686.3 1248.0h2.7M1641.7 1236.6h2.7M1610.6 1207.6h2.7M1651.9 1220.1h2.7M1613.5 1237.1h2.7M1635.4 1238.6h2.7M1623.3 1197.6h2.7M1670.0 1215.9h2.7M1618.0 1210.1h2.7M1658.0 1237.1h2.7M1633.0 1211.9h2.7M1625.8 1200.3h2.7M1685.8 1237.2h2.7M1616.8 1200.8h2.7M1666.7 1207.5h2.7M1688.0 1242.2h2.7M1614.5 1237.0h2.7M1644.1 1238.6h2.7M1612.6 1221.3h2.7M1676.3 1222.7h2.7M1621.7 1209.1h2.7M1624.5 1245.3h2.7M1624.5 1239.4h2.7M1624.5 1236.4h2.7M1624.5 1227.4h2.7M1624.5 1224.4h2.7M1624.5 1221.5h2.7M1624.5 1218.5h2.7M1624.5 1212.5h2.7M1624.5 1209.5h2.7M1624.5 1200.6h2.7M1624.5 1197.6h2.7M1624.5 1194.6h2.7M1624.5 1188.7h2.7M1646.5 1241.1h2.7M1646.5 1238.1h2.7M1646.5 1235.0h2.7M1646.5 1232.0h2.7M1646.5 1226.0h2.7M1646.5 1223.0h2.7M1646.5 1220.0h2.7M1646.5 1217.0h2.7M1646.5 1214.0h2.7M1646.5 1205.0h2.7M1646.5 1195.9h2.7M1668.4 1251.8h2.7M1668.4 1248.9h2.7M1668.4 1246.0h2.7M1668.4 1243.1h2.7M1668.4 1234.4h2.7M1668.4 1231.5h2.7M1668.4 1225.6h2.7M1668.4 1219.8h2.7M1668.4 1216.9h2.7M1668.4 1214.0h2.7M1668.4 1211.1h2.7M1668.4 1208.2h2.7M1668.4 1205.3h2.7M1668.4 1202.4h2.7M1689.3 1250.3h2.7M1689.3 1244.2h2.7M1689.3 1241.1h2.7M1689.3 1238.0h2.7M1689.3 1231.9h2.7M1689.5 1227.4h2.7M1612.3 1230.2h2.7M1615.5 1208.2h2.7M1682.1 1238.9h2.7M1679.8 1213.4h2.7M1632.4 1238.2h2.7M1659.7 1219.7h2.7M1633.6 1232.4h2.7M1657.1 1240.2h2.7M1677.0 1193.5h2.7M1604.6 1203.9h2.7M1632.3 1218.1h2.7M1650.1 1239.1h2.7M1686.4 1229.4h2.7M1691.3 1235.9h2.7M1646.1 1238.8h2.7M1686.4 1202.4h2.7M1615.9 1204.5h2.7M1644.7 1197.7h2.7M1670.8 1196.7h2.7M1627.8 1226.6h2.7M1630.3 1219.3h2.7M1617.0 1223.8h2.7M1622.8 1223.8h2.7M1672.1 1190.1h2.7M1645.4 1236.5h2.7M1678.5 1212.2h2.7M1629.6 1219.2h2.7M1639.5 1238.5h2.7M1644.9 1233.2h2.7M1643.6 1215.8h2.7M1605.4 1236.4h2.7M1677.2 1202.8h2.7M1645.5 1199.6h2.7M1643.1 1209.6h2.7M1686.0 1204.7h2.7M1636.5 1209.0h2.7M1670.9 1194.8h2.7M1608.9 1220.0h2.7M1697.6 1256.4h2.7M1797.3 1254.6h2.7M1704.5 1266.1h2.7M1760.5 1269.6h2.7M1713.0 1273.2h2.7M1779.6 1275.0h2.7M1743.6 1275.2h2.7M1764.0 1269.4h2.7M1721.6 1258.8h2.7M1790.8 1261.9h2.7M1755.2 1270.5h2.7M1798.5 1259.1h2.7M1745.8 1255.4h2.7M1749.9 1264.2h2.7M1713.1 1255.5h2.7M1769.5 1262.8h2.7M1766.6 1262.1h2.7M1717.3 1280.2h2.7M1696.1 1275.1h2.7M1778.6 1260.7h2.7M1760.6 1280.6h2.7M1716.5 1273.7h2.7M1718.4 1272.4h2.7M1761.0 1265.9h2.7M1817.8 1269.0h2.7M1715.9 1272.4h2.7M1830.4 1266.3h2.7M1698.0 1271.3h2.7M1733.0 1257.1h2.7M1702.0 1254.8h2.7M1772.3 1278.9h2.7M1742.6 1254.6h2.7M1722.0 1273.6h2.7M1746.1 1257.3h2.7M1719.2 1256.5h2.7M1845.1 1268.7h2.7M1747.3 1278.8h2.7M1781.5 1280.6h2.7M1694.5 1260.6h2.7M1755.5 1275.0h2.7M1768.5 1265.5h2.7M1729.8 1267.8h2.7M1695.7 1266.3h2.7M1696.7 1255.8h2.7M1724.7 1258.4h2.7M1795.9 1278.9h2.7M1714.0 1279.3h2.7M1836.5 1255.8h2.7M1694.2 1280.5h2.7M1755.9 1264.4h2.7M1774.2 1259.5h2.7M1794.9 1266.4h2.7M1826.7 1270.9h2.7M1811.3 1281.1h2.7M1741.3 1280.8h2.7M1715.0 1259.8h2.7M1737.6 1270.6h2.7M1711.2 1277.4h2.7M1714.5 1257.7h2.7M1812.8 1261.3h2.7M1784.2 1262.4h2.7M1776.8 1269.6h2.7M1714.5 1275.3h2.7M1693.1 1257.7h2.7M1709.8 1281.0h2.7M1812.3 1277.1h2.7M1804.9 1270.6h2.7M1848.4 1278.7h2.7M1769.8 1269.2h2.7M1755.5 1255.6h2.7M1699.0 1264.1h2.7M1714.2 1272.3h2.7M1699.8 1270.7h2.7M1813.0 1264.8h2.7M1738.2 1255.6h2.7M1703.6 1279.3h2.7M1776.1 1256.5h2.7M1761.9 1259.6h2.7M1750.7 1261.8h2.7M1735.0 1259.0h2.7M1725.5 1280.5h2.7M1768.9 1279.0h2.7M1758.3 1271.7h2.7M1723.1 1265.4h2.7M1782.6 1273.7h2.7M1755.5 1263.5h2.7M1865.1 1259.9h2.7M1752.2 1263.1h2.7M1696.8 1254.4h2.7M1734.0 1254.5h2.7M1786.8 1260.8h2.7M1704.1 1265.5h2.7M1705.1 1259.7h2.7M1760.6 1278.0h2.7M1759.3 1271.5h2.7M1722.5 1259.3h2.7M1693.4 1269.4h2.7M1767.1 1280.9h2.7M1710.5 1264.1h2.7M1722.8 1258.8h2.7M1725.2 1256.5h2.7M1710.5 1256.1h2.7M1724.5 1263.4h2.7M1696.1 1259.4h2.7M1696.2 1265.9h2.7M1799.5 1269.9h2.7M1766.0 1279.5h2.7M1771.2 1258.0h2.7M1789.7 1255.9h2.7M1746.3 1279.7h2.7M1718.8 1260.5h2.7M1725.7 1270.5h2.7M1738.3 1271.3h2.7M1717.4 1256.2h2.7M1740.7 1278.6h2.7M1693.6 1279.5h2.7M1705.1 1264.6h2.7M1767.8 1266.3h2.7M1753.3 1277.6h2.7M1701.3 1263.3h2.7M1791.2 1254.9h2.7M1749.1 1280.6h2.7M1798.2 1270.3h2.7M1721.9 1261.1h2.7M1753.0 1272.0h2.7M1734.1 1266.5h2.7M1703.7 1259.0h2.7M1788.3 1259.8h2.7M1718.3 1270.8h2.7M1746.2 1268.6h2.7M1707.6 1264.2h2.7M1738.8 1266.6h2.7M1785.8 1266.4h2.7M1748.3 1274.5h2.7M1719.6 1278.0h2.7M1739.4 1255.8h2.7M1817.6 1261.4h2.7M1699.2 1262.5h2.7M1825.2 1280.3h2.7M1777.9 1257.5h2.7M1737.6 1265.2h2.7M1758.3 1256.3h2.7M1799.2 1267.5h2.7M1791.5 1272.6h2.7M1703.2 1256.1h2.7M1825.9 1258.2h2.7M1822.6 1280.0h2.7M1770.3 1262.5h2.7M1704.1 1260.3h2.7M1858.0 1265.9h2.7M1697.3 1265.2h2.7M1692.3 1281.3h2.7M1726.0 1262.8h2.7M1787.3 1269.3h2.7M1748.3 1261.5h2.7M1721.3 1255.0h2.7M1771.5 1268.7h2.7M1799.6 1270.3h2.7M1710.1 1261.4h2.7M1694.6 1256.5h2.7M1745.8 1264.1h2.7M1790.6 1272.4h2.7M1837.2 1265.8h2.7M1718.8 1275.1h2.7M1738.5 1268.1h2.7M1720.8 1255.8h2.7M1728.6 1269.9h2.7M1713.2 1269.8h2.7M1850.7 1269.4h2.7M1819.1 1264.0h2.7M1724.6 1276.1h2.7M1800.0 1265.9h2.7M1806.0 1268.4h2.7M1744.7 1275.8h2.7M1696.6 1261.5h2.7M1826.1 1265.9h2.7M1742.9 1260.0h2.7M1700.4 1257.4h2.7M1793.7 1267.2h2.7M1774.9 1258.1h2.7M1711.4 1262.6h2.7M1761.0 1254.5h2.7M1751.5 1265.7h2.7M1732.4 1255.6h2.7M1705.4 1257.5h2.7M1723.5 1257.4h2.7M1799.7 1275.6h2.7M1706.0 1271.4h2.7M1694.7 1257.7h2.7M1727.7 1279.4h2.7M1713.7 1261.5h2.7M1748.6 1265.8h2.7M1717.3 1258.0h2.7M1731.3 1261.7h2.7M1766.3 1273.8h2.7M1726.3 1258.8h2.7M1747.9 1273.9h2.7M1739.8 1279.9h2.7M1713.3 1261.6h2.7M1708.7 1263.0h2.7M1715.0 1270.1h2.7M1780.2 1278.2h2.7M1698.8 1273.5h2.7M1811.4 1265.6h2.7M1752.3 1279.1h2.7M1761.5 1257.6h2.7M1720.6 1271.0h2.7M1736.4 1279.7h2.7M1802.0 1266.6h2.7M1805.9 1262.5h2.7M1780.3 1270.4h2.7M1784.0 1267.4h2.7M1731.8 1255.7h2.7M1706.2 1262.1h2.7M1731.2 1262.0h2.7M1773.1 1277.9h2.7M1695.4 1274.3h2.7M1742.1 1265.8h2.7M1740.8 1274.5h2.7M1704.4 1280.8h2.7M1693.0 1276.1h2.7M1722.7 1279.3h2.7M1694.6 1271.0h2.7M1756.7 1256.2h2.7M1737.4 1260.8h2.7M1731.3 1266.1h2.7M1714.1 1281.4h2.7M1746.3 1275.9h2.7M1804.3 1275.6h2.7M1703.6 1257.9h2.7M1751.1 1274.5h2.7M1816.5 1257.4h2.7M1700.1 1269.7h2.7M1699.7 1269.3h2.7M1706.5 1269.8h2.7M1727.8 1265.7h2.7M1781.0 1259.2h2.7M1698.8 1264.3h2.7M1805.9 1259.8h2.7M1726.9 1276.9h2.7M1724.6 1280.1h2.7M1838.8 1257.7h2.7M1755.6 1254.4h2.7M1723.4 1261.2h2.7M1707.0 1260.5h2.7M1691.9 1265.7h2.7M1720.9 1261.6h2.7M1711.0 1279.5h2.7M1794.7 1267.2h2.7M1746.4 1261.1h2.7M1715.1 1255.9h2.7M1727.1 1274.8h2.7M1735.9 1255.1h2.7M1714.9 1262.6h2.7M1786.2 1275.0h2.7M1791.0 1272.6h2.7M1749.2 1278.3h2.7M1734.6 1260.7h2.7M1824.0 1254.7h2.7M1734.5 1257.8h2.7M1751.9 1264.7h2.7M1794.1 1261.1h2.7M1793.1 1269.1h2.7M1790.5 1264.8h2.7M1745.4 1257.3h2.7M1696.1 1278.4h2.7M1863.1 1266.3h2.7M1721.6 1257.1h2.7M1701.5 1272.3h2.7M1693.1 1259.5h2.7M1722.5 1273.4h2.7M1712.5 1279.0h2.7M1746.2 1271.4h2.7M1710.5 1267.3h2.7M1727.1 1258.6h2.7M1696.0 1255.2h2.7M1709.6 1275.0h2.7M1807.0 1277.9h2.7M1762.4 1267.0h2.7M1742.3 1256.2h2.7M1754.4 1259.0h2.7M1777.4 1269.3h2.7M1787.6 1258.8h2.7M1781.8 1278.9h2.7M1707.1 1262.1h2.7M1811.2 1270.4h2.7M1808.2 1267.7h2.7M1722.3 1268.8h2.7M1712.8 1260.0h2.7M1753.2 1281.2h2.7M1694.7 1263.4h2.7M1709.0 1279.7h2.7M1816.5 1279.5h2.7M1752.4 1254.7h2.7M1779.9 1271.7h2.7M1795.2 1267.6h2.7M1745.4 1273.4h2.7M1800.4 1265.3h2.7M1805.8 1257.8h2.7M1784.7 1261.2h2.7M1767.6 1254.3h2.7M1730.4 1255.8h2.7M1761.6 1267.6h2.7M1701.3 1261.8h2.7M1696.2 1256.1h2.7M1741.3 1268.5h2.7M1728.0 1267.5h2.7M1724.5 1275.4h2.7M1760.2 1280.5h2.7M1781.8 1280.9h2.7M1754.3 1272.4h2.7M1733.0 1254.5h2.7M1733.0 1274.3h2.7M1732.1 1266.0h2.7M1724.0 1269.8h2.7M1779.2 1255.0h2.7M1782.0 1269.0h2.7M1698.4 1254.8h2.7M1739.6 1255.6h2.7M1734.5 1264.0h2.7M1696.8 1258.4h2.7M1705.1 1264.0h2.7M1794.8 1255.8h2.7M1761.5 1278.6h2.7M1700.6 1271.3h2.7M1750.1 1274.2h2.7M1692.9 1273.3h2.7M1717.0 1271.6h2.7M1779.9 1262.3h2.7M1707.6 1267.3h2.7M1732.1 1255.0h2.7M1735.2 1273.7h2.7M1736.4 1261.9h2.7M1708.8 1268.9h2.7M1812.2 1278.2h2.7M1755.2 1275.7h2.7M1812.9 1259.3h2.7M1703.7 1254.6h2.7M1725.4 1271.4h2.7M1702.2 1278.9h2.7M1710.0 1269.9h2.7M1730.5 1269.1h2.7M1755.2 1255.1h2.7M1776.0 1270.5h2.7M1809.0 1271.6h2.7M1706.6 1261.1h2.7M1704.4 1270.8h2.7M1711.3 1269.3h2.7M1720.7 1276.7h2.7M1701.2 1270.2h2.7M1704.6 1263.7h2.7M1702.0 1277.0h2.7M1723.7 1259.1h2.7M1738.6 1264.5h2.7M1734.9 1269.9h2.7M1804.1 1258.4h2.7M1723.5 1254.6h2.7M1744.1 1260.0h2.7M1769.7 1270.8h2.7M1712.1 1263.1h2.7M1771.8 1269.1h2.7M1735.3 1262.8h2.7M1821.0 1281.1h2.7M1754.0 1262.3h2.7M1743.6 1268.9h2.7M1753.4 1259.9h2.7M1709.9 1257.5h2.7M1702.0 1257.1h2.7M1837.9 1266.8h2.7M1830.8 1274.8h2.7M1742.9 1255.6h2.7M1744.9 1257.3h2.7M1764.3 1266.6h2.7M1738.8 1273.4h2.7M1794.8 1275.2h2.7M1691.6 1257.1h2.7M1775.9 1271.8h2.7M1735.5 1273.1h2.7M1750.4 1274.8h2.7M1843.1 1263.5h2.7M1739.7 1270.2h2.7M1781.4 1269.7h2.7M1774.7 1262.9h2.7M1694.9 1269.3h2.7M1731.9 1270.7h2.7M1799.1 1274.3h2.7M1758.2 1267.9h2.7M1736.6 1269.9h2.7M1803.2 1279.9h2.7M1737.9 1280.8h2.7M1764.8 1254.7h2.7M1795.1 1279.6h2.7M1767.5 1268.8h2.7M1754.9 1276.2h2.7M1790.1 1266.0h2.7M1814.7 1269.5h2.7M1706.0 1277.9h2.7M1707.4 1265.6h2.7M1774.3 1254.3h2.7M1708.8 1255.2h2.7M1704.9 1256.2h2.7M1742.3 1278.5h2.7M1754.3 1268.2h2.7M1751.2 1265.1h2.7M1730.2 1266.4h2.7M1700.5 1275.8h2.7M1857.7 1262.6h2.7M1699.8 1269.0h2.7M1727.2 1264.7h2.7M1708.5 1276.4h2.7M1719.8 1270.5h2.7M1705.1 1271.5h2.7M1741.9 1266.4h2.7M1721.1 1260.4h2.7M1709.0 1271.6h2.7M1764.7 1255.4h2.7M1799.1 1254.5h2.7M1769.0 1277.7h2.7M1706.2 1278.8h2.7M1692.5 1272.5h2.7M1726.8 1256.2h2.7M1751.4 1257.0h2.7M1757.7 1266.3h2.7M1694.3 1255.3h2.7M1739.8 1258.3h2.7M1721.2 1260.0h2.7M1725.0 1262.7h2.7M1768.1 1271.0h2.7M1754.4 1259.2h2.7M1702.7 1263.5h2.7M1725.0 1269.5h2.7M1803.4 1258.9h2.7M1716.5 1279.4h2.7M1744.8 1255.2h2.7M1692.5 1266.7h2.7M1711.8 1255.9h2.7M1732.6 1269.3h2.7M1796.9 1275.0h2.7M1763.5 1274.5h2.7M1691.9 1267.4h2.7M1704.4 1254.4h2.7M1855.0 1267.2h2.7M1715.4 1266.4h2.7M1735.1 1276.7h2.7M1753.1 1268.1h2.7M1731.9 1262.2h2.7M1724.8 1255.0h2.7M1749.5 1256.5h2.7M1706.5 1266.4h2.7M1852.7 1254.6h2.7M1785.4 1257.3h2.7M1849.8 1264.4h2.7M1723.6 1272.9h2.7M1699.0 1259.9h2.7M1703.7 1259.6h2.7M1741.9 1273.4h2.7M1711.7 1261.3h2.7M1697.0 1256.3h2.7M1721.3 1272.9h2.7M1806.8 1282.1h2.7M1764.4 1273.3h2.7M1790.1 1281.8h2.7M1740.8 1268.2h2.7M1749.6 1279.9h2.7M1773.5 1266.6h2.7M1802.5 1259.8h2.7M1696.1 1261.8h2.7M1702.6 1260.6h2.7M1839.2 1259.5h2.7M1735.4 1279.0h2.7M1701.9 1266.7h2.7M1723.9 1278.1h2.7M1787.4 1281.8h2.7M1711.2 1269.2h2.7M1732.3 1256.2h2.7M1711.2 1264.1h2.7M1774.4 1255.0h2.7M1695.2 1264.9h2.7M1737.4 1272.0h2.7M1711.8 1260.9h2.7M1746.6 1271.3h2.7M1830.2 1276.2h2.7M1729.7 1281.1h2.7M1832.5 1276.5h2.7M1735.2 1256.4h2.7M1726.5 1261.8h2.7M1765.9 1258.9h2.7M1743.9 1260.6h2.7M1705.8 1279.9h2.7M1719.5 1281.8h2.7M1760.2 1266.7h2.7M1720.8 1257.6h2.7M1715.3 1254.5h2.7M1750.2 1254.5h2.7M1708.6 1278.7h2.7M1734.0 1259.7h2.7M1724.7 1262.4h2.7M1795.2 1281.5h2.7M1770.7 1256.6h2.7M1826.5 1276.5h2.7M1703.8 1264.5h2.7M1795.6 1256.3h2.7M1813.5 1272.4h2.7M1812.2 1281.5h2.7M1719.7 1255.6h2.7M1732.9 1280.1h2.7M1710.2 1256.0h2.7M1719.6 1271.1h2.7M1790.1 1274.2h2.7M1731.5 1273.4h2.7M1778.0 1255.3h2.7M1757.9 1267.7h2.7M1753.6 1255.0h2.7M1744.9 1280.1h2.7M1694.4 1257.8h2.7M1789.4 1266.5h2.7M1695.9 1255.6h2.7M1716.0 1255.5h2.7M1712.6 1263.3h2.7M1719.5 1257.7h2.7M1736.6 1268.5h2.7M1702.2 1269.8h2.7M1730.2 1265.0h2.7M1704.4 1268.9h2.7M1793.3 1271.8h2.7M1793.8 1267.6h2.7M1722.0 1268.2h2.7M1755.0 1254.6h2.7M1717.1 1270.4h2.7M1749.1 1268.2h2.7M1708.9 1267.7h2.7M1803.3 1260.0h2.7M1797.7 1277.4h2.7M1720.2 1266.4h2.7M1727.6 1264.7h2.7M1726.1 1272.3h2.7M1752.8 1280.5h2.7M1743.6 1276.8h2.7M1764.2 1261.5h2.7M1747.5 1270.0h2.7M1813.7 1261.7h2.7M1737.4 1260.3h2.7M1737.0 1260.6h2.7M1770.6 1260.9h2.7M1713.2 1264.1h2.7M1830.0 1260.7h2.7M1700.7 1258.7h2.7M1763.1 1260.1h2.7M1696.9 1260.9h2.7M1818.1 1266.5h2.7M1713.8 1270.9h2.7M1743.5 1264.3h2.7M1751.0 1275.9h2.7M1694.7 1273.6h2.7M1789.1 1254.9h2.7M1725.4 1266.3h2.7M1725.2 1257.7h2.7M1716.6 1264.9h2.7M1725.4 1265.6h2.7M1785.5 1256.4h2.7M1862.8 1269.6h2.7M1745.6 1277.5h2.7M1729.2 1266.0h2.7M1729.5 1265.0h2.7M1789.3 1263.2h2.7M1845.0 1267.8h2.7M1823.2 1271.3h2.7M1698.8 1271.7h2.7M1743.1 1268.5h2.7M1753.5 1256.4h2.7M1836.5 1264.8h2.7M1700.1 1258.2h2.7M1761.9 1281.8h2.7M1710.4 1276.5h2.7M1700.4 1265.0h2.7M1786.1 1262.7h2.7M1736.1 1263.1h2.7M1703.7 1277.3h2.7M1715.9 1269.7h2.7M1738.1 1259.6h2.7M1712.1 1273.1h2.7M1714.7 1267.4h2.7M1749.8 1265.5h2.7M1732.1 1258.6h2.7M1778.3 1256.2h2.7M1806.4 1270.8h2.7M1738.4 1266.2h2.7M1757.0 1256.2h2.7M1712.3 1268.3h2.7M1821.9 1254.5h2.7M1747.7 1279.2h2.7M1719.5 1255.2h2.7M1775.1 1266.8h2.7M1695.1 1275.7h2.7M1772.9 1276.8h2.7M1699.7 1263.4h2.7M1729.6 1271.0h2.7M1775.3 1268.0h2.7M1773.5 1270.2h2.7M1765.4 1255.1h2.7M1797.6 1267.3h2.7M1691.6 1268.5h2.7M1811.8 1266.3h2.7M1785.4 1255.5h2.7M1771.4 1265.7h2.7M1751.4 1271.8h2.7M1748.7 1263.8h2.7M1777.1 1256.5h2.7M1762.9 1271.6h2.7M1702.7 1275.8h2.7M1700.3 1259.3h2.7M1762.9 1274.5h2.7M1767.2 1258.8h2.7M1829.4 1255.7h2.7M1738.3 1277.7h2.7M1691.9 1280.6h2.7M1774.4 1267.0h2.7M1770.1 1256.5h2.7M1809.8 1272.9h2.7M1736.8 1265.0h2.7M1712.3 1256.4h2.7M1794.3 1276.5h2.7M1708.2 1254.5h2.7M1761.6 1279.9h2.7M1752.5 1269.9h2.7M1761.7 1280.8h2.7M1754.7 1255.8h2.7M1705.3 1259.2h2.7M1799.8 1276.9h2.7M1764.7 1272.2h2.7M1750.7 1272.5h2.7M1698.6 1257.9h2.7M1698.8 1266.5h2.7M1761.1 1281.0h2.7M1721.7 1254.5h2.7M1718.1 1258.8h2.7M1694.5 1280.7h2.7M1725.3 1281.5h2.7M1860.7 1263.2h2.7M1724.2 1264.5h2.7M1850.6 1255.7h2.7M1790.1 1270.6h2.7M1777.2 1265.6h2.7M1760.0 1282.0h2.7M1761.8 1257.9h2.7M1704.4 1268.3h2.7M1733.3 1256.6h2.7M1776.3 1254.9h2.7M1789.0 1263.4h2.7M1692.2 1276.9h2.7M1703.4 1275.7h2.7M1704.5 1264.2h2.7M1747.2 1268.5h2.7M1711.5 1270.4h2.7M1749.4 1277.1h2.7M1710.5 1273.0h2.7M1707.2 1276.9h2.7M1773.7 1268.4h2.7M1778.5 1255.7h2.7M1827.8 1261.9h2.7M1810.9 1255.6h2.7M1833.7 1262.4h2.7M1778.0 1255.2h2.7M1716.6 1269.6h2.7M1711.5 1281.8h2.7M1696.5 1269.9h2.7M1743.6 1255.1h2.7M1733.1 1257.3h2.7M1720.9 1258.4h2.7M1792.2 1273.9h2.7M1725.2 1263.9h2.7M1776.8 1266.7h2.7M1770.5 1279.1h2.7M1728.2 1263.3h2.7M1698.5 1259.4h2.7M1733.5 1263.3h2.7M1944.4 1264.0h2.7M1914.3 1262.7h2.7M1882.4 1265.8h2.7M1958.8 1267.6h2.7M1903.7 1264.6h2.7M1976.3 1262.1h2.7M1930.8 1262.8h2.7M1965.5 1265.2h2.7M1971.5 1261.0h2.7M1972.8 1266.5h2.7M1926.8 1263.7h2.7M1915.5 1266.9h2.7M1876.6 1264.3h2.7M1913.0 1263.4h2.7M1911.6 1262.7h2.7M1964.8 1267.7h2.7M1957.7 1260.5h2.7M1867.3 1261.5h2.7M1937.0 1265.0h2.7M1874.8 1262.8h2.7M1918.1 1260.9h2.7M1873.6 1263.8h2.7M1971.0 1262.4h2.7M1868.5 1261.9h2.7M1886.2 1263.1h2.7M1953.1 1270.9h2.7M1869.5 1261.8h2.7M1908.7 1264.3h2.7M1895.4 1263.8h2.7M1889.7 1264.1h2.7M1903.3 1261.9h2.7M1908.9 1263.6h2.7M1932.9 1262.9h2.7M1918.1 1266.0h2.7M1883.3 1263.1h2.7M1963.2 1267.3h2.7M1963.0 1257.5h2.7M1931.1 1264.8h2.7M1931.5 1263.5h2.7M1932.3 1264.1h2.7M1968.0 1264.6h2.7M1954.4 1261.6h2.7M1917.7 1265.9h2.7M1970.2 1265.7h2.7M1870.5 1263.5h2.7M1961.2 1263.1h2.7M1872.1 1268.1h2.7M1883.0 1263.7h2.7M1888.3 1267.1h2.7M1959.0 1259.9h2.7M1914.4 1261.6h2.7M1907.1 1266.1h2.7M1905.4 1267.3h2.7M1883.9 1265.2h2.7M1878.6 1265.2h2.7M1901.5 1263.5h2.7M1975.5 1262.6h2.7M1954.1 1261.1h2.7M1913.4 1264.6h2.7M1894.1 1263.7h2.7M1941.6 1259.9h2.7M1880.3 1263.4h2.7M1949.3 1261.1h2.7M1894.3 1263.0h2.7M1946.6 1262.4h2.7M1956.1 1268.7h2.7M1872.4 1263.4h2.7M1915.7 1261.2h2.7M1879.6 1263.6h2.7M1658.6 1258.3h2.7M1669.5 1261.4h2.7M1680.5 1258.3h2.7M1695.9 1282.1h2.7" stroke="#0000ff" stroke-width="2.7" fill="none"/>
<path d="M1181.3 1093.0 L1185.0 1093.8 L1188.6 1094.6 L1192.2 1095.4 L1195.9 1096.3 L1199.5 1097.1 L1203.1 1098.0 L1206.8 1098.8 L1210.4 1099.7 L1214.1 1100.6 L1217.7 1101.6 L1221.3 1102.5 L1225.0 1103.5 L1228.6 1104.5 L1232.2 1105.5 L1235.9 1106.5 L1239.5 1107.6 L1243.2 1108.7 L1246.8 1109.8 L1250.4 1110.8 L1254.1 1111.9 L1257.7 1113.0 L1261.4 1114.0 L1265.0 1115.0 L1268.6 1116.0 L1272.3 1116.9 L1275.9 1117.8 L1279.5 1118.7 L1283.2 1119.6 L1286.8 1120.5 L1290.5 1121.4 L1294.1 1122.3 L1297.7 1123.1 L1301.4 1123.9 L1305.0 1124.6 L1308.7 1125.3 L1312.3 1125.9 L1315.9 1126.3 L1319.6 1126.6 L1323.2 1126.9 L1326.8 1127.2 L1330.5 1127.5 L1334.1 1127.8 L1337.8 1128.1 L1341.4 1128.3 L1345.0 1128.5 L1348.7 1128.7 L1352.3 1128.9 L1356.0 1129.0 L1359.6 1129.1 L1363.2 1129.1 L1366.9 1129.2 L1370.5 1129.1 L1374.1 1129.1 L1377.8 1129.0 L1381.4 1128.9 L1385.1 1128.7 L1388.7 1128.6 L1392.3 1128.4 L1396.0 1128.1 L1399.6 1127.9 L1403.2 1127.6 L1406.9 1127.3 L1410.5 1127.0 L1414.2 1126.7 L1417.8 1126.3 L1421.4 1125.8 L1425.1 1125.1 L1428.7 1124.3 L1432.4 1123.3 L1436.0 1122.3 L1439.6 1121.2 L1443.3 1120.0 L1446.9 1118.9 L1450.5 1117.7 L1454.2 1116.5 L1457.8 1115.1 L1461.5 1113.7 L1465.1 1112.1 L1468.7 1110.5 L1472.4 1108.8 L1476.0 1107.1 L1479.7 1105.5 L1483.3 1103.9 L1486.9 1102.4 L1490.6 1101.0 L1494.2 1099.7 L1497.8 1098.3 L1501.5 1096.9 L1505.1 1095.6 L1508.8 1094.6 L1512.4 1094.0 L1516.0 1093.6 L1519.7 1093.2 L1523.3 1092.9 L1527.0 1092.8 L1530.6 1092.9 L1534.2 1093.6 L1537.9 1094.6 L1541.5 1095.8 L1545.1 1097.5 L1548.8 1099.7 L1552.4 1102.2 L1556.1 1105.0 L1559.7 1108.0 L1563.3 1111.4 L1567.0 1115.5 L1570.6 1120.1 L1574.2 1125.0 L1577.9 1130.1 L1581.5 1135.3 L1585.2 1140.8 L1588.8 1146.7 L1592.4 1152.8 L1596.1 1158.9 L1599.7 1164.8 L1603.4 1170.4 L1607.0 1175.5 L1610.6 1180.4 L1614.3 1185.1 L1617.9 1189.6 L1621.5 1193.9 L1625.2 1198.0 L1628.8 1201.9 L1632.5 1205.7 L1636.1 1209.3 L1639.7 1212.8 L1643.4 1216.2 L1647.0 1219.5 L1650.7 1222.8 L1654.3 1226.0 L1657.9 1229.1 L1661.6 1232.2 L1665.2 1235.1 L1668.8 1238.0 L1672.5 1240.8 L1676.1 1243.5 L1679.8 1246.3 L1683.4 1249.0 L1687.0 1251.5 L1690.7 1253.7 L1694.3 1255.6 L1698.0 1257.3 L1701.6 1259.0 L1705.2 1260.6 L1708.9 1262.0 L1712.5 1263.0 L1716.1 1263.7 L1719.8 1263.8 L1723.4 1263.8 L1727.1 1263.8 L1730.7 1263.8 L1734.3 1263.8 L1738.0 1263.8 L1741.6 1263.8 L1745.2 1263.8 L1748.9 1263.8 L1752.5 1263.8 L1756.2 1263.8 L1759.8 1263.8 L1763.4 1263.8 L1767.1 1263.8 L1770.7 1263.8 L1774.4 1263.8 L1778.0 1263.8 L1781.6 1263.8 L1785.3 1263.8 L1788.9 1263.8 L1792.5 1263.8 L1796.2 1263.8 L1799.8 1263.8 L1803.5 1263.8 L1807.1 1263.8 L1810.7 1263.8 L1814.4 1263.8 L1818.0 1263.8 L1821.7 1263.8 L1825.3 1263.8 L1828.9 1263.8 L1832.6 1263.8 L1836.2 1263.8 L1839.8 1263.8 L1843.5 1263.8 L1847.1 1263.8 L1850.8 1263.8 L1854.4 1263.8 L1858.0 1263.8 L1861.7 1263.8 L1865.3 1263.8 L1869.0 1263.8 L1872.6 1263.7 L1876.2 1263.7 L1879.9 1263.6 L1883.5 1263.5 L1887.1 1263.5 L1890.8 1263.4 L1894.4 1263.3 L1898.1 1263.2 L1901.7 1263.2 L1905.3 1263.1 L1909.0 1263.1 L1912.6 1263.0 L1916.2 1263.0 L1919.9 1263.0 L1923.5 1263.1 L1927.2 1263.1 L1930.8 1263.2 L1934.4 1263.2 L1938.1 1263.3 L1941.7 1263.5 L1945.4 1263.6 L1949.0 1263.7 L1952.6 1263.9 L1956.3 1264.0 L1959.9 1264.2 L1963.5 1264.4 L1967.2 1264.6 L1970.8 1264.8 L1974.5 1265.0 L1978.1 1265.3" stroke="#ff0000" stroke-width="3" fill="none" stroke-linejoin="round"/>
<line x1="1140.6" y1="1253.5" x2="2016.8" y2="1253.5" stroke="#a8a8a8" stroke-width="2.7"/>
<rect x="1140.6" y="984.6" width="876.2" height="313.0" fill="none" stroke="#333333" stroke-width="1.4"/>
<line x1="1210.1" y1="1297.6" x2="1210.1" y2="1302.6" stroke="#333333" stroke-width="1.4"/>
<text x="1210.1" y="1333.0" font-size="28.8" text-anchor="middle" transform="translate(0 -39.99) scale(1 1.030)" fill="#000">2</text>
<line x1="1429.5" y1="1297.6" x2="1429.5" y2="1302.6" stroke="#333333" stroke-width="1.4"/>
<text x="1429.5" y="1333.0" font-size="28.8" text-anchor="middle" transform="translate(0 -39.99) scale(1 1.030)" fill="#000">3</text>
<line x1="1648.9" y1="1297.6" x2="1648.9" y2="1302.6" stroke="#333333" stroke-width="1.4"/>
<text x="1648.9" y="1333.0" font-size="28.8" text-anchor="middle" transform="translate(0 -39.99) scale(1 1.030)" fill="#000">4</text>
<line x1="1868.4" y1="1297.6" x2="1868.4" y2="1302.6" stroke="#333333" stroke-width="1.4"/>
<text x="1868.4" y="1333.0" font-size="28.8" text-anchor="middle" transform="translate(0 -39.99) scale(1 1.030)" fill="#000">5</text>
<line x1="1135.6" y1="1253.5" x2="1140.6" y2="1253.5" stroke="#333333" stroke-width="1.4"/>
<text x="1124.3" y="1263.8" font-size="28.8" text-anchor="end" transform="translate(0 -37.91) scale(1 1.030)" fill="#000">1.0</text>
<line x1="1135.6" y1="1174.1" x2="1140.6" y2="1174.1" stroke="#333333" stroke-width="1.4"/>
<text x="1124.3" y="1184.4" font-size="28.8" text-anchor="end" transform="translate(0 -35.53) scale(1 1.030)" fill="#000">1.5</text>
<line x1="1135.6" y1="1094.7" x2="1140.6" y2="1094.7" stroke="#333333" stroke-width="1.4"/>
<text x="1124.3" y="1105.0" font-size="28.8" text-anchor="end" transform="translate(0 -33.15) scale(1 1.030)" fill="#000">2.0</text>
<line x1="1135.6" y1="1015.3" x2="1140.6" y2="1015.3" stroke="#333333" stroke-width="1.4"/>
<text x="1124.3" y="1025.6" font-size="28.8" text-anchor="end" transform="translate(0 -30.77) scale(1 1.030)" fill="#000">2.5</text>
<text x="1041.0" y="993.6" font-size="41.0" text-anchor="start" font-weight="bold" fill="#000">d</text>
<text x="1578.7" y="1375.6" font-size="28.8" text-anchor="middle" transform="translate(0 -27.51) scale(1 1.020)" fill="#000">Albumin</text>
<text x="1065.5" y="1134.2" font-size="29.3" text-anchor="middle" transform="rotate(-90 1065.5 1134.2)" fill="#000">Odds ratio</text></svg>
</body></html>
